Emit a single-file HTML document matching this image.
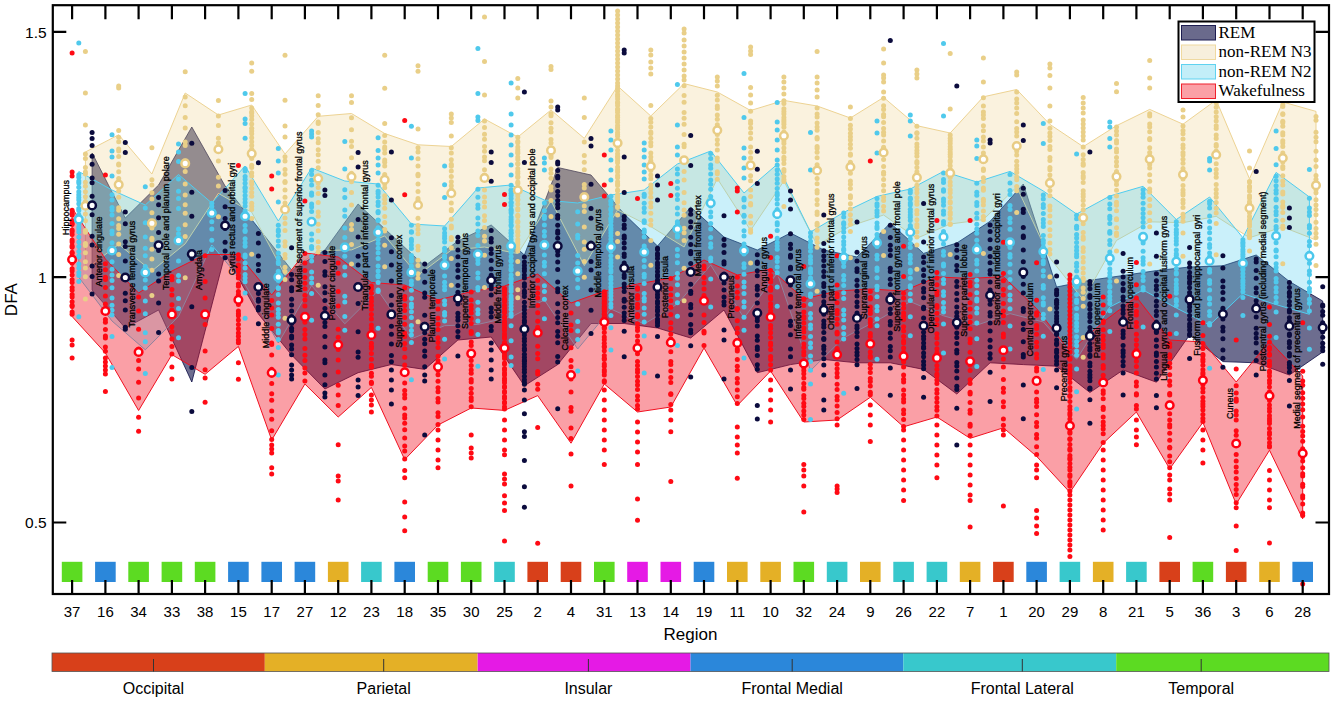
<!DOCTYPE html><html><head><meta charset="utf-8"><style>html,body{margin:0;padding:0;background:#fff;width:1334px;height:701px;overflow:hidden}svg{display:block}text{font-family:"Liberation Sans",sans-serif}</style></head><body>
<svg width="1334" height="701" viewBox="0 0 1334 701">
<polygon points="92.1,153.0 125.3,218.0 158.6,185.0 191.8,127.0 225.1,186.0 258.4,228.0 291.6,270.0 324.9,250.0 358.1,204.0 391.4,235.0 424.7,266.0 457.9,241.0 491.2,225.0 524.4,255.0 557.7,167.5 591.0,175.0 624.2,214.0 657.5,246.0 690.7,207.0 724.0,237.0 757.3,250.0 790.5,233.0 823.8,250.0 857.0,257.0 890.3,223.0 923.6,253.4 956.8,243.0 990.1,221.3 1023.3,184.0 1056.6,287.0 1089.9,280.3 1123.1,275.5 1156.4,270.6 1189.6,267.0 1222.9,265.8 1256.2,255.0 1289.4,281.5 1322.7,301.0 1322.7,352.0 1289.4,375.0 1256.2,362.8 1222.9,361.6 1189.6,335.0 1156.4,382.2 1123.1,370.0 1089.9,392.5 1056.6,366.2 1023.3,364.6 990.1,362.8 956.8,394.0 923.6,369.4 890.3,362.8 857.0,362.8 823.8,359.5 790.5,364.6 757.3,372.7 724.0,310.0 690.7,338.0 657.5,328.0 624.2,323.5 591.0,323.5 557.7,364.6 524.4,385.8 491.2,337.0 457.9,340.0 424.7,369.4 391.4,364.5 358.1,372.7 324.9,389.0 291.6,355.0 258.4,314.0 225.1,254.0 191.8,382.0 158.6,310.0 125.3,328.0 92.1,290.0" fill="#0b0b45" fill-opacity="0.6" stroke="#0b0b45" stroke-opacity="0.8" stroke-width="1"/>
<polygon points="85.4,152.0 118.7,134.8 151.9,174.0 185.2,93.0 218.4,115.0 251.7,105.0 285.0,154.0 318.2,116.3 351.5,113.5 384.7,133.5 418.0,144.8 451.3,146.5 484.5,119.0 517.8,137.0 551.0,110.0 584.3,138.4 617.6,86.0 650.8,116.0 684.1,83.6 717.3,92.0 750.6,110.5 783.9,100.4 817.1,106.0 850.4,118.0 883.6,97.4 916.9,125.7 950.2,133.0 983.4,96.8 1016.7,89.5 1049.9,124.4 1083.2,146.7 1116.5,125.7 1149.7,109.4 1183.0,124.2 1216.2,100.0 1249.5,178.8 1282.8,102.0 1316.0,111.4 1316.0,240.0 1282.8,227.0 1249.5,237.7 1216.2,216.3 1183.0,222.7 1149.7,221.8 1116.5,240.4 1083.2,299.8 1049.9,258.0 1016.7,186.9 983.4,219.6 950.2,224.0 916.9,238.2 883.6,215.0 850.4,226.0 817.1,245.0 783.9,181.0 750.6,230.3 717.3,178.6 684.1,247.0 650.8,226.6 617.6,210.0 584.3,265.6 551.0,200.8 517.8,253.6 484.5,247.0 451.3,250.1 418.0,275.2 384.7,235.9 351.5,249.9 318.2,250.7 285.0,275.0 251.7,212.2 218.4,193.4 185.2,243.8 151.9,271.0 118.7,244.4 85.4,269.4" fill="#edd393" fill-opacity="0.3" stroke="#edd393" stroke-width="1"/>
<polygon points="78.8,171.5 112.0,190.0 145.3,205.0 178.5,174.5 211.8,203.0 245.1,166.0 278.3,221.0 311.6,168.0 344.8,181.0 378.1,184.0 411.4,224.0 444.6,226.0 477.9,188.0 511.1,185.0 544.4,200.0 577.7,203.0 610.9,195.0 644.2,190.0 677.4,164.0 710.7,151.0 744.0,193.0 777.2,164.3 810.5,232.0 843.7,212.4 877.0,196.4 910.3,189.0 943.5,171.4 976.8,182.0 1010.0,171.4 1043.3,191.0 1076.6,214.0 1109.8,196.0 1143.1,186.3 1176.3,219.5 1209.6,197.0 1242.9,237.7 1276.1,172.4 1309.4,197.0 1309.4,314.3 1276.1,304.6 1242.9,293.7 1209.6,325.0 1176.3,308.0 1143.1,290.0 1109.8,307.0 1076.6,359.2 1043.3,322.0 1010.0,313.6 976.8,325.2 943.5,315.8 910.3,301.6 877.0,320.6 843.7,337.8 810.5,370.6 777.2,273.0 744.0,318.0 710.7,265.0 677.4,304.0 644.2,324.0 610.9,309.0 577.7,349.0 544.4,300.0 511.1,317.0 477.9,324.4 444.6,325.7 411.4,338.8 378.1,290.6 344.8,323.8 311.6,285.6 278.3,343.0 245.1,284.6 211.8,245.0 178.5,316.5 145.3,349.8 112.0,321.0 78.8,277.3" fill="#4fcdf0" fill-opacity="0.3" stroke="#4fcdf0" stroke-width="1"/>
<polygon points="72.1,208.0 105.4,259.0 138.6,293.0 171.9,271.0 205.1,254.5 238.4,254.5 271.7,295.0 304.9,253.0 338.2,257.0 371.4,282.5 404.7,285.0 438.0,300.0 471.2,291.6 504.5,286.0 537.7,274.0 571.0,303.0 604.3,291.0 637.5,284.0 670.8,278.0 704.0,260.0 737.3,275.0 770.6,269.0 803.8,299.0 837.1,291.0 870.3,289.0 903.6,291.0 936.9,277.0 970.1,278.4 1003.4,276.6 1036.6,308.6 1069.9,351.3 1103.2,322.0 1136.4,297.0 1169.7,340.0 1202.9,342.0 1236.2,382.0 1269.5,341.0 1302.7,376.0 1302.7,518.8 1269.5,450.2 1236.2,504.0 1202.9,422.4 1169.7,468.8 1136.4,412.0 1103.2,443.2 1069.9,492.4 1036.6,456.3 1003.4,427.8 970.1,438.3 936.9,417.0 903.6,426.8 870.3,397.3 837.1,420.0 803.8,422.0 770.6,371.0 737.3,405.5 704.0,348.0 670.8,407.0 637.5,412.0 604.3,384.0 571.0,443.2 537.7,395.6 504.5,410.4 471.2,408.0 438.0,425.0 404.7,459.6 371.4,387.4 338.2,417.0 304.9,384.0 271.7,440.0 238.4,346.4 205.1,374.3 171.9,354.6 138.6,410.5 105.4,353.0 72.1,316.5" fill="#f21020" fill-opacity="0.4" stroke="#f21020" stroke-width="1"/>
<g fill="#0b0b3d"><circle cx="92.1" cy="156.3" r="2.5"/><circle cx="92.1" cy="164.3" r="2.5"/><circle cx="92.1" cy="178.1" r="2.5"/><circle cx="92.1" cy="182.7" r="2.5"/><circle cx="92.1" cy="196.2" r="2.5"/><circle cx="92.1" cy="204.2" r="2.5"/><circle cx="92.1" cy="214.7" r="2.5"/><circle cx="92.1" cy="236.3" r="2.5"/><circle cx="92.1" cy="245.1" r="2.5"/><circle cx="92.1" cy="266.0" r="2.5"/><circle cx="92.1" cy="276.4" r="2.5"/><circle cx="92.1" cy="132.5" r="2.5"/><circle cx="92.1" cy="138.5" r="2.5"/><circle cx="92.1" cy="145.4" r="2.5"/><circle cx="92.1" cy="294.1" r="2.5"/><circle cx="125.3" cy="223.7" r="2.5"/><circle cx="125.3" cy="241.7" r="2.5"/><circle cx="125.3" cy="246.6" r="2.5"/><circle cx="125.3" cy="261.0" r="2.5"/><circle cx="125.3" cy="278.8" r="2.5"/><circle cx="125.3" cy="293.2" r="2.5"/><circle cx="125.3" cy="300.7" r="2.5"/><circle cx="125.3" cy="310.1" r="2.5"/><circle cx="125.3" cy="327.2" r="2.5"/><circle cx="125.3" cy="142.5" r="2.5"/><circle cx="125.3" cy="152.5" r="2.5"/><circle cx="125.3" cy="212.0" r="2.5"/><circle cx="125.3" cy="329.3" r="2.5"/><circle cx="158.6" cy="197.4" r="2.5"/><circle cx="158.6" cy="204.7" r="2.5"/><circle cx="158.6" cy="217.8" r="2.5"/><circle cx="158.6" cy="232.5" r="2.5"/><circle cx="158.6" cy="250.5" r="2.5"/><circle cx="158.6" cy="274.1" r="2.5"/><circle cx="158.6" cy="281.0" r="2.5"/><circle cx="158.6" cy="303.1" r="2.5"/><circle cx="158.6" cy="332.4" r="2.5"/><circle cx="191.8" cy="143.3" r="2.5"/><circle cx="191.8" cy="192.3" r="2.5"/><circle cx="191.8" cy="216.2" r="2.5"/><circle cx="191.8" cy="258.4" r="2.5"/><circle cx="191.8" cy="306.7" r="2.5"/><circle cx="191.8" cy="367.6" r="2.5"/><circle cx="191.8" cy="411.6" r="2.5"/><circle cx="225.1" cy="190.4" r="2.5"/><circle cx="225.1" cy="206.8" r="2.5"/><circle cx="225.1" cy="218.4" r="2.5"/><circle cx="225.1" cy="228.5" r="2.5"/><circle cx="225.1" cy="242.3" r="2.5"/><circle cx="225.1" cy="251.0" r="2.5"/><circle cx="225.1" cy="257.8" r="2.5"/><circle cx="258.4" cy="233.6" r="2.5"/><circle cx="258.4" cy="243.0" r="2.5"/><circle cx="258.4" cy="255.9" r="2.5"/><circle cx="258.4" cy="264.4" r="2.5"/><circle cx="258.4" cy="270.4" r="2.5"/><circle cx="258.4" cy="286.3" r="2.5"/><circle cx="258.4" cy="287.7" r="2.5"/><circle cx="258.4" cy="293.4" r="2.5"/><circle cx="258.4" cy="299.3" r="2.5"/><circle cx="258.4" cy="301.3" r="2.5"/><circle cx="258.4" cy="307.2" r="2.5"/><circle cx="258.4" cy="309.9" r="2.5"/><circle cx="258.4" cy="162.8" r="2.5"/><circle cx="258.4" cy="323.7" r="2.5"/><circle cx="291.6" cy="274.6" r="2.5"/><circle cx="291.6" cy="279.8" r="2.5"/><circle cx="291.6" cy="287.7" r="2.5"/><circle cx="291.6" cy="290.8" r="2.5"/><circle cx="291.6" cy="299.2" r="2.5"/><circle cx="291.6" cy="304.9" r="2.5"/><circle cx="291.6" cy="311.1" r="2.5"/><circle cx="291.6" cy="316.6" r="2.5"/><circle cx="291.6" cy="323.5" r="2.5"/><circle cx="291.6" cy="328.3" r="2.5"/><circle cx="291.6" cy="330.8" r="2.5"/><circle cx="291.6" cy="336.0" r="2.5"/><circle cx="291.6" cy="338.0" r="2.5"/><circle cx="291.6" cy="344.9" r="2.5"/><circle cx="291.6" cy="349.0" r="2.5"/><circle cx="291.6" cy="354.8" r="2.5"/><circle cx="291.6" cy="247.8" r="2.5"/><circle cx="291.6" cy="365.0" r="2.5"/><circle cx="291.6" cy="370.0" r="2.5"/><circle cx="291.6" cy="375.0" r="2.5"/><circle cx="291.6" cy="379.0" r="2.5"/><circle cx="324.9" cy="252.5" r="2.5"/><circle cx="324.9" cy="261.5" r="2.5"/><circle cx="324.9" cy="271.8" r="2.5"/><circle cx="324.9" cy="275.3" r="2.5"/><circle cx="324.9" cy="286.7" r="2.5"/><circle cx="324.9" cy="292.8" r="2.5"/><circle cx="324.9" cy="300.6" r="2.5"/><circle cx="324.9" cy="308.4" r="2.5"/><circle cx="324.9" cy="322.6" r="2.5"/><circle cx="324.9" cy="326.5" r="2.5"/><circle cx="324.9" cy="336.6" r="2.5"/><circle cx="324.9" cy="346.9" r="2.5"/><circle cx="324.9" cy="360.0" r="2.5"/><circle cx="324.9" cy="362.7" r="2.5"/><circle cx="324.9" cy="374.9" r="2.5"/><circle cx="324.9" cy="384.8" r="2.5"/><circle cx="324.9" cy="190.0" r="2.5"/><circle cx="324.9" cy="195.6" r="2.5"/><circle cx="324.9" cy="393.0" r="2.5"/><circle cx="324.9" cy="397.0" r="2.5"/><circle cx="358.1" cy="219.6" r="2.5"/><circle cx="358.1" cy="237.0" r="2.5"/><circle cx="358.1" cy="256.2" r="2.5"/><circle cx="358.1" cy="264.9" r="2.5"/><circle cx="358.1" cy="285.6" r="2.5"/><circle cx="358.1" cy="303.6" r="2.5"/><circle cx="358.1" cy="331.7" r="2.5"/><circle cx="358.1" cy="352.0" r="2.5"/><circle cx="358.1" cy="357.2" r="2.5"/><circle cx="358.1" cy="152.5" r="2.5"/><circle cx="358.1" cy="167.0" r="2.5"/><circle cx="358.1" cy="380.0" r="2.5"/><circle cx="358.1" cy="387.0" r="2.5"/><circle cx="358.1" cy="395.6" r="2.5"/><circle cx="391.4" cy="237.8" r="2.5"/><circle cx="391.4" cy="251.7" r="2.5"/><circle cx="391.4" cy="264.9" r="2.5"/><circle cx="391.4" cy="281.1" r="2.5"/><circle cx="391.4" cy="295.6" r="2.5"/><circle cx="391.4" cy="305.0" r="2.5"/><circle cx="391.4" cy="314.8" r="2.5"/><circle cx="391.4" cy="326.3" r="2.5"/><circle cx="391.4" cy="334.3" r="2.5"/><circle cx="391.4" cy="344.1" r="2.5"/><circle cx="391.4" cy="355.4" r="2.5"/><circle cx="391.4" cy="361.8" r="2.5"/><circle cx="391.4" cy="152.0" r="2.5"/><circle cx="391.4" cy="200.0" r="2.5"/><circle cx="391.4" cy="370.0" r="2.5"/><circle cx="391.4" cy="380.0" r="2.5"/><circle cx="391.4" cy="390.0" r="2.5"/><circle cx="391.4" cy="404.0" r="2.5"/><circle cx="424.7" cy="271.2" r="2.5"/><circle cx="424.7" cy="282.2" r="2.5"/><circle cx="424.7" cy="292.9" r="2.5"/><circle cx="424.7" cy="297.3" r="2.5"/><circle cx="424.7" cy="315.2" r="2.5"/><circle cx="424.7" cy="324.2" r="2.5"/><circle cx="424.7" cy="332.7" r="2.5"/><circle cx="424.7" cy="339.3" r="2.5"/><circle cx="424.7" cy="343.8" r="2.5"/><circle cx="424.7" cy="351.0" r="2.5"/><circle cx="424.7" cy="356.2" r="2.5"/><circle cx="424.7" cy="366.7" r="2.5"/><circle cx="424.7" cy="264.0" r="2.5"/><circle cx="424.7" cy="375.0" r="2.5"/><circle cx="424.7" cy="381.0" r="2.5"/><circle cx="424.7" cy="435.0" r="2.5"/><circle cx="457.9" cy="241.8" r="2.5"/><circle cx="457.9" cy="249.9" r="2.5"/><circle cx="457.9" cy="256.8" r="2.5"/><circle cx="457.9" cy="265.1" r="2.5"/><circle cx="457.9" cy="270.4" r="2.5"/><circle cx="457.9" cy="277.2" r="2.5"/><circle cx="457.9" cy="285.4" r="2.5"/><circle cx="457.9" cy="292.2" r="2.5"/><circle cx="457.9" cy="300.4" r="2.5"/><circle cx="457.9" cy="304.0" r="2.5"/><circle cx="457.9" cy="313.2" r="2.5"/><circle cx="457.9" cy="317.1" r="2.5"/><circle cx="457.9" cy="320.2" r="2.5"/><circle cx="457.9" cy="325.8" r="2.5"/><circle cx="457.9" cy="331.5" r="2.5"/><circle cx="457.9" cy="336.8" r="2.5"/><circle cx="457.9" cy="237.2" r="2.5"/><circle cx="457.9" cy="356.0" r="2.5"/><circle cx="491.2" cy="230.6" r="2.5"/><circle cx="491.2" cy="238.4" r="2.5"/><circle cx="491.2" cy="242.0" r="2.5"/><circle cx="491.2" cy="249.0" r="2.5"/><circle cx="491.2" cy="253.5" r="2.5"/><circle cx="491.2" cy="260.5" r="2.5"/><circle cx="491.2" cy="268.9" r="2.5"/><circle cx="491.2" cy="275.3" r="2.5"/><circle cx="491.2" cy="285.9" r="2.5"/><circle cx="491.2" cy="288.7" r="2.5"/><circle cx="491.2" cy="294.9" r="2.5"/><circle cx="491.2" cy="307.9" r="2.5"/><circle cx="491.2" cy="312.3" r="2.5"/><circle cx="491.2" cy="317.0" r="2.5"/><circle cx="491.2" cy="326.6" r="2.5"/><circle cx="491.2" cy="330.4" r="2.5"/><circle cx="491.2" cy="152.0" r="2.5"/><circle cx="491.2" cy="162.4" r="2.5"/><circle cx="491.2" cy="181.3" r="2.5"/><circle cx="491.2" cy="343.0" r="2.5"/><circle cx="491.2" cy="350.0" r="2.5"/><circle cx="491.2" cy="360.0" r="2.5"/><circle cx="491.2" cy="370.0" r="2.5"/><circle cx="491.2" cy="379.0" r="2.5"/><circle cx="524.4" cy="256.9" r="2.5"/><circle cx="524.4" cy="262.1" r="2.5"/><circle cx="524.4" cy="265.5" r="2.5"/><circle cx="524.4" cy="268.6" r="2.5"/><circle cx="524.4" cy="270.9" r="2.5"/><circle cx="524.4" cy="274.9" r="2.5"/><circle cx="524.4" cy="277.9" r="2.5"/><circle cx="524.4" cy="283.7" r="2.5"/><circle cx="524.4" cy="286.6" r="2.5"/><circle cx="524.4" cy="291.1" r="2.5"/><circle cx="524.4" cy="293.3" r="2.5"/><circle cx="524.4" cy="296.6" r="2.5"/><circle cx="524.4" cy="302.3" r="2.5"/><circle cx="524.4" cy="306.6" r="2.5"/><circle cx="524.4" cy="309.8" r="2.5"/><circle cx="524.4" cy="313.4" r="2.5"/><circle cx="524.4" cy="317.1" r="2.5"/><circle cx="524.4" cy="320.5" r="2.5"/><circle cx="524.4" cy="322.5" r="2.5"/><circle cx="524.4" cy="327.2" r="2.5"/><circle cx="524.4" cy="330.1" r="2.5"/><circle cx="524.4" cy="332.1" r="2.5"/><circle cx="524.4" cy="334.9" r="2.5"/><circle cx="524.4" cy="338.4" r="2.5"/><circle cx="524.4" cy="341.2" r="2.5"/><circle cx="524.4" cy="345.1" r="2.5"/><circle cx="524.4" cy="348.6" r="2.5"/><circle cx="524.4" cy="350.2" r="2.5"/><circle cx="524.4" cy="354.3" r="2.5"/><circle cx="524.4" cy="357.2" r="2.5"/><circle cx="524.4" cy="360.0" r="2.5"/><circle cx="524.4" cy="361.3" r="2.5"/><circle cx="524.4" cy="363.8" r="2.5"/><circle cx="524.4" cy="366.6" r="2.5"/><circle cx="524.4" cy="369.4" r="2.5"/><circle cx="524.4" cy="372.3" r="2.5"/><circle cx="524.4" cy="376.2" r="2.5"/><circle cx="524.4" cy="379.7" r="2.5"/><circle cx="524.4" cy="382.4" r="2.5"/><circle cx="524.4" cy="384.3" r="2.5"/><circle cx="524.4" cy="92.0" r="2.5"/><circle cx="524.4" cy="162.4" r="2.5"/><circle cx="524.4" cy="390.0" r="2.5"/><circle cx="524.4" cy="400.0" r="2.5"/><circle cx="524.4" cy="413.7" r="2.5"/><circle cx="524.4" cy="431.7" r="2.5"/><circle cx="524.4" cy="436.6" r="2.5"/><circle cx="524.4" cy="460.6" r="2.5"/><circle cx="524.4" cy="486.8" r="2.5"/><circle cx="524.4" cy="507.2" r="2.5"/><circle cx="557.7" cy="170.6" r="2.5"/><circle cx="557.7" cy="176.2" r="2.5"/><circle cx="557.7" cy="177.9" r="2.5"/><circle cx="557.7" cy="185.4" r="2.5"/><circle cx="557.7" cy="191.4" r="2.5"/><circle cx="557.7" cy="195.7" r="2.5"/><circle cx="557.7" cy="200.5" r="2.5"/><circle cx="557.7" cy="204.2" r="2.5"/><circle cx="557.7" cy="207.8" r="2.5"/><circle cx="557.7" cy="215.4" r="2.5"/><circle cx="557.7" cy="218.3" r="2.5"/><circle cx="557.7" cy="225.3" r="2.5"/><circle cx="557.7" cy="230.9" r="2.5"/><circle cx="557.7" cy="233.3" r="2.5"/><circle cx="557.7" cy="238.2" r="2.5"/><circle cx="557.7" cy="245.5" r="2.5"/><circle cx="557.7" cy="251.2" r="2.5"/><circle cx="557.7" cy="254.9" r="2.5"/><circle cx="557.7" cy="262.0" r="2.5"/><circle cx="557.7" cy="269.6" r="2.5"/><circle cx="557.7" cy="282.1" r="2.5"/><circle cx="557.7" cy="288.8" r="2.5"/><circle cx="557.7" cy="291.8" r="2.5"/><circle cx="557.7" cy="303.8" r="2.5"/><circle cx="557.7" cy="312.2" r="2.5"/><circle cx="557.7" cy="317.5" r="2.5"/><circle cx="557.7" cy="322.8" r="2.5"/><circle cx="557.7" cy="331.6" r="2.5"/><circle cx="557.7" cy="336.2" r="2.5"/><circle cx="557.7" cy="342.8" r="2.5"/><circle cx="557.7" cy="356.6" r="2.5"/><circle cx="557.7" cy="361.9" r="2.5"/><circle cx="557.7" cy="107.0" r="2.5"/><circle cx="557.7" cy="110.0" r="2.5"/><circle cx="557.7" cy="162.0" r="2.5"/><circle cx="557.7" cy="164.0" r="2.5"/><circle cx="557.7" cy="408.8" r="2.5"/><circle cx="591.0" cy="184.3" r="2.5"/><circle cx="591.0" cy="208.6" r="2.5"/><circle cx="591.0" cy="218.3" r="2.5"/><circle cx="591.0" cy="243.1" r="2.5"/><circle cx="591.0" cy="261.4" r="2.5"/><circle cx="591.0" cy="270.0" r="2.5"/><circle cx="591.0" cy="290.1" r="2.5"/><circle cx="591.0" cy="310.2" r="2.5"/><circle cx="591.0" cy="138.4" r="2.5"/><circle cx="591.0" cy="146.0" r="2.5"/><circle cx="591.0" cy="333.6" r="2.5"/><circle cx="624.2" cy="216.6" r="2.5"/><circle cx="624.2" cy="219.8" r="2.5"/><circle cx="624.2" cy="224.9" r="2.5"/><circle cx="624.2" cy="228.3" r="2.5"/><circle cx="624.2" cy="235.9" r="2.5"/><circle cx="624.2" cy="238.2" r="2.5"/><circle cx="624.2" cy="243.1" r="2.5"/><circle cx="624.2" cy="248.1" r="2.5"/><circle cx="624.2" cy="253.9" r="2.5"/><circle cx="624.2" cy="256.4" r="2.5"/><circle cx="624.2" cy="262.9" r="2.5"/><circle cx="624.2" cy="265.8" r="2.5"/><circle cx="624.2" cy="270.4" r="2.5"/><circle cx="624.2" cy="275.0" r="2.5"/><circle cx="624.2" cy="277.6" r="2.5"/><circle cx="624.2" cy="283.9" r="2.5"/><circle cx="624.2" cy="287.5" r="2.5"/><circle cx="624.2" cy="291.4" r="2.5"/><circle cx="624.2" cy="299.3" r="2.5"/><circle cx="624.2" cy="301.3" r="2.5"/><circle cx="624.2" cy="307.2" r="2.5"/><circle cx="624.2" cy="312.9" r="2.5"/><circle cx="624.2" cy="316.8" r="2.5"/><circle cx="624.2" cy="320.5" r="2.5"/><circle cx="624.2" cy="50.0" r="2.5"/><circle cx="624.2" cy="53.0" r="2.5"/><circle cx="624.2" cy="157.0" r="2.5"/><circle cx="624.2" cy="192.4" r="2.5"/><circle cx="624.2" cy="331.3" r="2.5"/><circle cx="624.2" cy="356.8" r="2.5"/><circle cx="657.5" cy="248.2" r="2.5"/><circle cx="657.5" cy="249.4" r="2.5"/><circle cx="657.5" cy="253.5" r="2.5"/><circle cx="657.5" cy="255.6" r="2.5"/><circle cx="657.5" cy="258.6" r="2.5"/><circle cx="657.5" cy="262.8" r="2.5"/><circle cx="657.5" cy="265.1" r="2.5"/><circle cx="657.5" cy="268.1" r="2.5"/><circle cx="657.5" cy="271.6" r="2.5"/><circle cx="657.5" cy="274.9" r="2.5"/><circle cx="657.5" cy="276.6" r="2.5"/><circle cx="657.5" cy="280.0" r="2.5"/><circle cx="657.5" cy="282.6" r="2.5"/><circle cx="657.5" cy="285.6" r="2.5"/><circle cx="657.5" cy="289.0" r="2.5"/><circle cx="657.5" cy="291.3" r="2.5"/><circle cx="657.5" cy="294.4" r="2.5"/><circle cx="657.5" cy="297.2" r="2.5"/><circle cx="657.5" cy="301.3" r="2.5"/><circle cx="657.5" cy="303.6" r="2.5"/><circle cx="657.5" cy="307.0" r="2.5"/><circle cx="657.5" cy="310.1" r="2.5"/><circle cx="657.5" cy="311.3" r="2.5"/><circle cx="657.5" cy="315.0" r="2.5"/><circle cx="657.5" cy="318.9" r="2.5"/><circle cx="657.5" cy="321.6" r="2.5"/><circle cx="657.5" cy="322.7" r="2.5"/><circle cx="657.5" cy="325.5" r="2.5"/><circle cx="657.5" cy="176.0" r="2.5"/><circle cx="657.5" cy="185.0" r="2.5"/><circle cx="657.5" cy="200.0" r="2.5"/><circle cx="657.5" cy="336.6" r="2.5"/><circle cx="657.5" cy="376.0" r="2.5"/><circle cx="690.7" cy="209.9" r="2.5"/><circle cx="690.7" cy="214.2" r="2.5"/><circle cx="690.7" cy="221.7" r="2.5"/><circle cx="690.7" cy="227.3" r="2.5"/><circle cx="690.7" cy="237.2" r="2.5"/><circle cx="690.7" cy="244.4" r="2.5"/><circle cx="690.7" cy="251.6" r="2.5"/><circle cx="690.7" cy="253.7" r="2.5"/><circle cx="690.7" cy="263.5" r="2.5"/><circle cx="690.7" cy="269.7" r="2.5"/><circle cx="690.7" cy="273.2" r="2.5"/><circle cx="690.7" cy="284.2" r="2.5"/><circle cx="690.7" cy="291.3" r="2.5"/><circle cx="690.7" cy="293.4" r="2.5"/><circle cx="690.7" cy="304.4" r="2.5"/><circle cx="690.7" cy="307.7" r="2.5"/><circle cx="690.7" cy="314.8" r="2.5"/><circle cx="690.7" cy="324.4" r="2.5"/><circle cx="690.7" cy="330.1" r="2.5"/><circle cx="690.7" cy="332.7" r="2.5"/><circle cx="690.7" cy="135.4" r="2.5"/><circle cx="690.7" cy="165.4" r="2.5"/><circle cx="690.7" cy="345.7" r="2.5"/><circle cx="690.7" cy="376.9" r="2.5"/><circle cx="724.0" cy="239.4" r="2.5"/><circle cx="724.0" cy="245.2" r="2.5"/><circle cx="724.0" cy="252.6" r="2.5"/><circle cx="724.0" cy="261.7" r="2.5"/><circle cx="724.0" cy="264.1" r="2.5"/><circle cx="724.0" cy="274.0" r="2.5"/><circle cx="724.0" cy="279.5" r="2.5"/><circle cx="724.0" cy="282.9" r="2.5"/><circle cx="724.0" cy="289.9" r="2.5"/><circle cx="724.0" cy="296.9" r="2.5"/><circle cx="724.0" cy="301.8" r="2.5"/><circle cx="724.0" cy="305.1" r="2.5"/><circle cx="724.0" cy="215.7" r="2.5"/><circle cx="724.0" cy="330.0" r="2.5"/><circle cx="724.0" cy="340.0" r="2.5"/><circle cx="724.0" cy="379.0" r="2.5"/><circle cx="757.3" cy="254.8" r="2.5"/><circle cx="757.3" cy="262.1" r="2.5"/><circle cx="757.3" cy="263.5" r="2.5"/><circle cx="757.3" cy="270.7" r="2.5"/><circle cx="757.3" cy="275.7" r="2.5"/><circle cx="757.3" cy="286.2" r="2.5"/><circle cx="757.3" cy="289.6" r="2.5"/><circle cx="757.3" cy="295.1" r="2.5"/><circle cx="757.3" cy="303.1" r="2.5"/><circle cx="757.3" cy="312.2" r="2.5"/><circle cx="757.3" cy="317.7" r="2.5"/><circle cx="757.3" cy="320.7" r="2.5"/><circle cx="757.3" cy="326.0" r="2.5"/><circle cx="757.3" cy="336.1" r="2.5"/><circle cx="757.3" cy="340.2" r="2.5"/><circle cx="757.3" cy="346.9" r="2.5"/><circle cx="757.3" cy="349.6" r="2.5"/><circle cx="757.3" cy="355.4" r="2.5"/><circle cx="757.3" cy="364.8" r="2.5"/><circle cx="757.3" cy="369.3" r="2.5"/><circle cx="757.3" cy="151.3" r="2.5"/><circle cx="757.3" cy="169.3" r="2.5"/><circle cx="757.3" cy="183.4" r="2.5"/><circle cx="757.3" cy="405.5" r="2.5"/><circle cx="757.3" cy="419.0" r="2.5"/><circle cx="790.5" cy="233.7" r="2.5"/><circle cx="790.5" cy="244.2" r="2.5"/><circle cx="790.5" cy="248.5" r="2.5"/><circle cx="790.5" cy="255.3" r="2.5"/><circle cx="790.5" cy="257.3" r="2.5"/><circle cx="790.5" cy="267.3" r="2.5"/><circle cx="790.5" cy="269.0" r="2.5"/><circle cx="790.5" cy="279.2" r="2.5"/><circle cx="790.5" cy="285.0" r="2.5"/><circle cx="790.5" cy="294.5" r="2.5"/><circle cx="790.5" cy="307.1" r="2.5"/><circle cx="790.5" cy="321.2" r="2.5"/><circle cx="790.5" cy="325.5" r="2.5"/><circle cx="790.5" cy="334.7" r="2.5"/><circle cx="790.5" cy="349.0" r="2.5"/><circle cx="790.5" cy="356.8" r="2.5"/><circle cx="790.5" cy="191.0" r="2.5"/><circle cx="790.5" cy="200.0" r="2.5"/><circle cx="790.5" cy="209.0" r="2.5"/><circle cx="790.5" cy="370.0" r="2.5"/><circle cx="790.5" cy="389.0" r="2.5"/><circle cx="823.8" cy="250.7" r="2.5"/><circle cx="823.8" cy="256.0" r="2.5"/><circle cx="823.8" cy="260.5" r="2.5"/><circle cx="823.8" cy="266.1" r="2.5"/><circle cx="823.8" cy="271.6" r="2.5"/><circle cx="823.8" cy="276.6" r="2.5"/><circle cx="823.8" cy="283.6" r="2.5"/><circle cx="823.8" cy="286.5" r="2.5"/><circle cx="823.8" cy="292.4" r="2.5"/><circle cx="823.8" cy="296.0" r="2.5"/><circle cx="823.8" cy="301.7" r="2.5"/><circle cx="823.8" cy="305.2" r="2.5"/><circle cx="823.8" cy="311.0" r="2.5"/><circle cx="823.8" cy="314.3" r="2.5"/><circle cx="823.8" cy="321.1" r="2.5"/><circle cx="823.8" cy="324.6" r="2.5"/><circle cx="823.8" cy="327.3" r="2.5"/><circle cx="823.8" cy="332.5" r="2.5"/><circle cx="823.8" cy="338.4" r="2.5"/><circle cx="823.8" cy="339.4" r="2.5"/><circle cx="823.8" cy="346.2" r="2.5"/><circle cx="823.8" cy="348.9" r="2.5"/><circle cx="823.8" cy="353.3" r="2.5"/><circle cx="823.8" cy="358.7" r="2.5"/><circle cx="823.8" cy="243.6" r="2.5"/><circle cx="823.8" cy="214.9" r="2.5"/><circle cx="823.8" cy="365.0" r="2.5"/><circle cx="823.8" cy="375.0" r="2.5"/><circle cx="823.8" cy="400.0" r="2.5"/><circle cx="823.8" cy="410.0" r="2.5"/><circle cx="857.0" cy="261.1" r="2.5"/><circle cx="857.0" cy="268.8" r="2.5"/><circle cx="857.0" cy="271.4" r="2.5"/><circle cx="857.0" cy="280.2" r="2.5"/><circle cx="857.0" cy="285.6" r="2.5"/><circle cx="857.0" cy="291.3" r="2.5"/><circle cx="857.0" cy="296.1" r="2.5"/><circle cx="857.0" cy="301.9" r="2.5"/><circle cx="857.0" cy="306.4" r="2.5"/><circle cx="857.0" cy="312.9" r="2.5"/><circle cx="857.0" cy="318.5" r="2.5"/><circle cx="857.0" cy="325.7" r="2.5"/><circle cx="857.0" cy="328.2" r="2.5"/><circle cx="857.0" cy="332.3" r="2.5"/><circle cx="857.0" cy="336.5" r="2.5"/><circle cx="857.0" cy="344.0" r="2.5"/><circle cx="857.0" cy="348.6" r="2.5"/><circle cx="857.0" cy="352.3" r="2.5"/><circle cx="857.0" cy="355.2" r="2.5"/><circle cx="857.0" cy="359.5" r="2.5"/><circle cx="857.0" cy="252.2" r="2.5"/><circle cx="857.0" cy="222.0" r="2.5"/><circle cx="857.0" cy="364.7" r="2.5"/><circle cx="857.0" cy="388.4" r="2.5"/><circle cx="890.3" cy="225.2" r="2.5"/><circle cx="890.3" cy="237.6" r="2.5"/><circle cx="890.3" cy="245.3" r="2.5"/><circle cx="890.3" cy="250.1" r="2.5"/><circle cx="890.3" cy="255.6" r="2.5"/><circle cx="890.3" cy="268.2" r="2.5"/><circle cx="890.3" cy="271.4" r="2.5"/><circle cx="890.3" cy="279.3" r="2.5"/><circle cx="890.3" cy="284.5" r="2.5"/><circle cx="890.3" cy="294.8" r="2.5"/><circle cx="890.3" cy="302.4" r="2.5"/><circle cx="890.3" cy="308.9" r="2.5"/><circle cx="890.3" cy="313.5" r="2.5"/><circle cx="890.3" cy="321.6" r="2.5"/><circle cx="890.3" cy="325.1" r="2.5"/><circle cx="890.3" cy="332.9" r="2.5"/><circle cx="890.3" cy="338.3" r="2.5"/><circle cx="890.3" cy="346.4" r="2.5"/><circle cx="890.3" cy="350.7" r="2.5"/><circle cx="890.3" cy="356.9" r="2.5"/><circle cx="890.3" cy="40.4" r="2.5"/><circle cx="890.3" cy="368.0" r="2.5"/><circle cx="890.3" cy="395.3" r="2.5"/><circle cx="923.6" cy="256.9" r="2.5"/><circle cx="923.6" cy="262.6" r="2.5"/><circle cx="923.6" cy="269.8" r="2.5"/><circle cx="923.6" cy="275.4" r="2.5"/><circle cx="923.6" cy="281.7" r="2.5"/><circle cx="923.6" cy="288.6" r="2.5"/><circle cx="923.6" cy="292.0" r="2.5"/><circle cx="923.6" cy="297.7" r="2.5"/><circle cx="923.6" cy="307.3" r="2.5"/><circle cx="923.6" cy="308.8" r="2.5"/><circle cx="923.6" cy="318.0" r="2.5"/><circle cx="923.6" cy="323.6" r="2.5"/><circle cx="923.6" cy="326.1" r="2.5"/><circle cx="923.6" cy="332.3" r="2.5"/><circle cx="923.6" cy="336.2" r="2.5"/><circle cx="923.6" cy="338.9" r="2.5"/><circle cx="923.6" cy="342.9" r="2.5"/><circle cx="923.6" cy="346.8" r="2.5"/><circle cx="923.6" cy="348.2" r="2.5"/><circle cx="923.6" cy="353.1" r="2.5"/><circle cx="923.6" cy="356.7" r="2.5"/><circle cx="923.6" cy="361.4" r="2.5"/><circle cx="923.6" cy="364.9" r="2.5"/><circle cx="923.6" cy="368.7" r="2.5"/><circle cx="923.6" cy="242.0" r="2.5"/><circle cx="923.6" cy="203.4" r="2.5"/><circle cx="923.6" cy="377.4" r="2.5"/><circle cx="923.6" cy="397.2" r="2.5"/><circle cx="956.8" cy="244.7" r="2.5"/><circle cx="956.8" cy="250.2" r="2.5"/><circle cx="956.8" cy="257.4" r="2.5"/><circle cx="956.8" cy="265.4" r="2.5"/><circle cx="956.8" cy="270.5" r="2.5"/><circle cx="956.8" cy="281.5" r="2.5"/><circle cx="956.8" cy="286.5" r="2.5"/><circle cx="956.8" cy="293.5" r="2.5"/><circle cx="956.8" cy="300.1" r="2.5"/><circle cx="956.8" cy="307.1" r="2.5"/><circle cx="956.8" cy="312.6" r="2.5"/><circle cx="956.8" cy="316.3" r="2.5"/><circle cx="956.8" cy="327.2" r="2.5"/><circle cx="956.8" cy="332.9" r="2.5"/><circle cx="956.8" cy="337.5" r="2.5"/><circle cx="956.8" cy="343.6" r="2.5"/><circle cx="956.8" cy="350.2" r="2.5"/><circle cx="956.8" cy="353.0" r="2.5"/><circle cx="956.8" cy="362.5" r="2.5"/><circle cx="956.8" cy="365.9" r="2.5"/><circle cx="956.8" cy="370.9" r="2.5"/><circle cx="956.8" cy="377.9" r="2.5"/><circle cx="956.8" cy="386.3" r="2.5"/><circle cx="956.8" cy="389.4" r="2.5"/><circle cx="956.8" cy="86.0" r="2.5"/><circle cx="956.8" cy="408.3" r="2.5"/><circle cx="956.8" cy="444.9" r="2.5"/><circle cx="990.1" cy="225.0" r="2.5"/><circle cx="990.1" cy="231.6" r="2.5"/><circle cx="990.1" cy="239.7" r="2.5"/><circle cx="990.1" cy="248.4" r="2.5"/><circle cx="990.1" cy="256.4" r="2.5"/><circle cx="990.1" cy="262.8" r="2.5"/><circle cx="990.1" cy="270.4" r="2.5"/><circle cx="990.1" cy="274.0" r="2.5"/><circle cx="990.1" cy="281.9" r="2.5"/><circle cx="990.1" cy="290.0" r="2.5"/><circle cx="990.1" cy="300.2" r="2.5"/><circle cx="990.1" cy="304.2" r="2.5"/><circle cx="990.1" cy="312.6" r="2.5"/><circle cx="990.1" cy="316.0" r="2.5"/><circle cx="990.1" cy="323.0" r="2.5"/><circle cx="990.1" cy="331.0" r="2.5"/><circle cx="990.1" cy="340.2" r="2.5"/><circle cx="990.1" cy="347.1" r="2.5"/><circle cx="990.1" cy="353.7" r="2.5"/><circle cx="990.1" cy="358.2" r="2.5"/><circle cx="990.1" cy="140.0" r="2.5"/><circle cx="990.1" cy="143.0" r="2.5"/><circle cx="990.1" cy="372.2" r="2.5"/><circle cx="990.1" cy="401.6" r="2.5"/><circle cx="1023.3" cy="188.2" r="2.5"/><circle cx="1023.3" cy="194.2" r="2.5"/><circle cx="1023.3" cy="209.2" r="2.5"/><circle cx="1023.3" cy="212.5" r="2.5"/><circle cx="1023.3" cy="227.6" r="2.5"/><circle cx="1023.3" cy="236.1" r="2.5"/><circle cx="1023.3" cy="237.6" r="2.5"/><circle cx="1023.3" cy="250.0" r="2.5"/><circle cx="1023.3" cy="261.7" r="2.5"/><circle cx="1023.3" cy="271.7" r="2.5"/><circle cx="1023.3" cy="276.6" r="2.5"/><circle cx="1023.3" cy="284.3" r="2.5"/><circle cx="1023.3" cy="293.0" r="2.5"/><circle cx="1023.3" cy="308.4" r="2.5"/><circle cx="1023.3" cy="311.5" r="2.5"/><circle cx="1023.3" cy="323.8" r="2.5"/><circle cx="1023.3" cy="329.4" r="2.5"/><circle cx="1023.3" cy="341.7" r="2.5"/><circle cx="1023.3" cy="354.5" r="2.5"/><circle cx="1023.3" cy="356.9" r="2.5"/><circle cx="1023.3" cy="125.0" r="2.5"/><circle cx="1023.3" cy="140.4" r="2.5"/><circle cx="1023.3" cy="385.0" r="2.5"/><circle cx="1023.3" cy="418.8" r="2.5"/><circle cx="1056.6" cy="289.9" r="2.5"/><circle cx="1056.6" cy="292.8" r="2.5"/><circle cx="1056.6" cy="294.7" r="2.5"/><circle cx="1056.6" cy="300.2" r="2.5"/><circle cx="1056.6" cy="302.3" r="2.5"/><circle cx="1056.6" cy="304.3" r="2.5"/><circle cx="1056.6" cy="307.7" r="2.5"/><circle cx="1056.6" cy="312.6" r="2.5"/><circle cx="1056.6" cy="315.9" r="2.5"/><circle cx="1056.6" cy="318.8" r="2.5"/><circle cx="1056.6" cy="321.8" r="2.5"/><circle cx="1056.6" cy="325.8" r="2.5"/><circle cx="1056.6" cy="329.1" r="2.5"/><circle cx="1056.6" cy="333.7" r="2.5"/><circle cx="1056.6" cy="334.5" r="2.5"/><circle cx="1056.6" cy="339.9" r="2.5"/><circle cx="1056.6" cy="343.3" r="2.5"/><circle cx="1056.6" cy="344.4" r="2.5"/><circle cx="1056.6" cy="349.9" r="2.5"/><circle cx="1056.6" cy="352.5" r="2.5"/><circle cx="1056.6" cy="356.2" r="2.5"/><circle cx="1056.6" cy="357.6" r="2.5"/><circle cx="1056.6" cy="361.1" r="2.5"/><circle cx="1056.6" cy="364.3" r="2.5"/><circle cx="1056.6" cy="275.9" r="2.5"/><circle cx="1056.6" cy="262.0" r="2.5"/><circle cx="1056.6" cy="369.9" r="2.5"/><circle cx="1056.6" cy="387.8" r="2.5"/><circle cx="1089.9" cy="281.5" r="2.5"/><circle cx="1089.9" cy="284.6" r="2.5"/><circle cx="1089.9" cy="288.8" r="2.5"/><circle cx="1089.9" cy="295.4" r="2.5"/><circle cx="1089.9" cy="297.4" r="2.5"/><circle cx="1089.9" cy="303.7" r="2.5"/><circle cx="1089.9" cy="305.2" r="2.5"/><circle cx="1089.9" cy="309.2" r="2.5"/><circle cx="1089.9" cy="314.1" r="2.5"/><circle cx="1089.9" cy="316.9" r="2.5"/><circle cx="1089.9" cy="321.5" r="2.5"/><circle cx="1089.9" cy="327.6" r="2.5"/><circle cx="1089.9" cy="331.3" r="2.5"/><circle cx="1089.9" cy="335.0" r="2.5"/><circle cx="1089.9" cy="338.4" r="2.5"/><circle cx="1089.9" cy="343.5" r="2.5"/><circle cx="1089.9" cy="347.6" r="2.5"/><circle cx="1089.9" cy="350.2" r="2.5"/><circle cx="1089.9" cy="354.9" r="2.5"/><circle cx="1089.9" cy="356.5" r="2.5"/><circle cx="1089.9" cy="363.0" r="2.5"/><circle cx="1089.9" cy="366.0" r="2.5"/><circle cx="1089.9" cy="371.2" r="2.5"/><circle cx="1089.9" cy="374.8" r="2.5"/><circle cx="1089.9" cy="377.6" r="2.5"/><circle cx="1089.9" cy="380.8" r="2.5"/><circle cx="1089.9" cy="388.0" r="2.5"/><circle cx="1089.9" cy="389.1" r="2.5"/><circle cx="1089.9" cy="152.0" r="2.5"/><circle cx="1089.9" cy="399.7" r="2.5"/><circle cx="1089.9" cy="423.2" r="2.5"/><circle cx="1123.1" cy="277.0" r="2.5"/><circle cx="1123.1" cy="283.5" r="2.5"/><circle cx="1123.1" cy="289.1" r="2.5"/><circle cx="1123.1" cy="290.8" r="2.5"/><circle cx="1123.1" cy="297.1" r="2.5"/><circle cx="1123.1" cy="300.2" r="2.5"/><circle cx="1123.1" cy="306.0" r="2.5"/><circle cx="1123.1" cy="309.9" r="2.5"/><circle cx="1123.1" cy="313.6" r="2.5"/><circle cx="1123.1" cy="318.3" r="2.5"/><circle cx="1123.1" cy="323.1" r="2.5"/><circle cx="1123.1" cy="331.0" r="2.5"/><circle cx="1123.1" cy="334.0" r="2.5"/><circle cx="1123.1" cy="337.6" r="2.5"/><circle cx="1123.1" cy="345.4" r="2.5"/><circle cx="1123.1" cy="350.5" r="2.5"/><circle cx="1123.1" cy="353.0" r="2.5"/><circle cx="1123.1" cy="356.4" r="2.5"/><circle cx="1123.1" cy="361.5" r="2.5"/><circle cx="1123.1" cy="365.8" r="2.5"/><circle cx="1123.1" cy="271.2" r="2.5"/><circle cx="1123.1" cy="253.4" r="2.5"/><circle cx="1123.1" cy="373.1" r="2.5"/><circle cx="1123.1" cy="394.9" r="2.5"/><circle cx="1156.4" cy="273.7" r="2.5"/><circle cx="1156.4" cy="280.8" r="2.5"/><circle cx="1156.4" cy="285.7" r="2.5"/><circle cx="1156.4" cy="289.6" r="2.5"/><circle cx="1156.4" cy="295.1" r="2.5"/><circle cx="1156.4" cy="301.2" r="2.5"/><circle cx="1156.4" cy="306.0" r="2.5"/><circle cx="1156.4" cy="311.3" r="2.5"/><circle cx="1156.4" cy="315.5" r="2.5"/><circle cx="1156.4" cy="322.1" r="2.5"/><circle cx="1156.4" cy="331.2" r="2.5"/><circle cx="1156.4" cy="332.5" r="2.5"/><circle cx="1156.4" cy="340.1" r="2.5"/><circle cx="1156.4" cy="346.3" r="2.5"/><circle cx="1156.4" cy="353.1" r="2.5"/><circle cx="1156.4" cy="355.5" r="2.5"/><circle cx="1156.4" cy="361.4" r="2.5"/><circle cx="1156.4" cy="366.9" r="2.5"/><circle cx="1156.4" cy="373.3" r="2.5"/><circle cx="1156.4" cy="379.1" r="2.5"/><circle cx="1156.4" cy="256.3" r="2.5"/><circle cx="1156.4" cy="233.0" r="2.5"/><circle cx="1156.4" cy="395.4" r="2.5"/><circle cx="1156.4" cy="407.8" r="2.5"/><circle cx="1189.6" cy="267.3" r="2.5"/><circle cx="1189.6" cy="272.5" r="2.5"/><circle cx="1189.6" cy="276.3" r="2.5"/><circle cx="1189.6" cy="278.3" r="2.5"/><circle cx="1189.6" cy="281.8" r="2.5"/><circle cx="1189.6" cy="283.4" r="2.5"/><circle cx="1189.6" cy="287.7" r="2.5"/><circle cx="1189.6" cy="292.5" r="2.5"/><circle cx="1189.6" cy="295.5" r="2.5"/><circle cx="1189.6" cy="298.8" r="2.5"/><circle cx="1189.6" cy="302.7" r="2.5"/><circle cx="1189.6" cy="303.9" r="2.5"/><circle cx="1189.6" cy="307.0" r="2.5"/><circle cx="1189.6" cy="310.8" r="2.5"/><circle cx="1189.6" cy="315.5" r="2.5"/><circle cx="1189.6" cy="319.6" r="2.5"/><circle cx="1189.6" cy="324.0" r="2.5"/><circle cx="1189.6" cy="326.8" r="2.5"/><circle cx="1189.6" cy="330.1" r="2.5"/><circle cx="1189.6" cy="334.1" r="2.5"/><circle cx="1189.6" cy="263.0" r="2.5"/><circle cx="1189.6" cy="247.6" r="2.5"/><circle cx="1189.6" cy="335.4" r="2.5"/><circle cx="1189.6" cy="358.5" r="2.5"/><circle cx="1222.9" cy="267.9" r="2.5"/><circle cx="1222.9" cy="280.9" r="2.5"/><circle cx="1222.9" cy="286.9" r="2.5"/><circle cx="1222.9" cy="292.5" r="2.5"/><circle cx="1222.9" cy="299.3" r="2.5"/><circle cx="1222.9" cy="308.2" r="2.5"/><circle cx="1222.9" cy="318.9" r="2.5"/><circle cx="1222.9" cy="327.3" r="2.5"/><circle cx="1222.9" cy="331.1" r="2.5"/><circle cx="1222.9" cy="338.7" r="2.5"/><circle cx="1222.9" cy="349.9" r="2.5"/><circle cx="1222.9" cy="358.2" r="2.5"/><circle cx="1222.9" cy="255.7" r="2.5"/><circle cx="1222.9" cy="367.3" r="2.5"/><circle cx="1256.2" cy="259.0" r="2.5"/><circle cx="1256.2" cy="262.1" r="2.5"/><circle cx="1256.2" cy="270.5" r="2.5"/><circle cx="1256.2" cy="278.2" r="2.5"/><circle cx="1256.2" cy="287.9" r="2.5"/><circle cx="1256.2" cy="292.7" r="2.5"/><circle cx="1256.2" cy="300.8" r="2.5"/><circle cx="1256.2" cy="305.0" r="2.5"/><circle cx="1256.2" cy="310.3" r="2.5"/><circle cx="1256.2" cy="317.1" r="2.5"/><circle cx="1256.2" cy="328.3" r="2.5"/><circle cx="1256.2" cy="333.5" r="2.5"/><circle cx="1256.2" cy="337.9" r="2.5"/><circle cx="1256.2" cy="342.9" r="2.5"/><circle cx="1256.2" cy="352.6" r="2.5"/><circle cx="1256.2" cy="360.5" r="2.5"/><circle cx="1256.2" cy="171.4" r="2.5"/><circle cx="1256.2" cy="375.1" r="2.5"/><circle cx="1289.4" cy="282.5" r="2.5"/><circle cx="1289.4" cy="287.6" r="2.5"/><circle cx="1289.4" cy="292.2" r="2.5"/><circle cx="1289.4" cy="293.6" r="2.5"/><circle cx="1289.4" cy="296.6" r="2.5"/><circle cx="1289.4" cy="301.4" r="2.5"/><circle cx="1289.4" cy="305.3" r="2.5"/><circle cx="1289.4" cy="309.9" r="2.5"/><circle cx="1289.4" cy="312.0" r="2.5"/><circle cx="1289.4" cy="317.7" r="2.5"/><circle cx="1289.4" cy="321.2" r="2.5"/><circle cx="1289.4" cy="324.2" r="2.5"/><circle cx="1289.4" cy="327.0" r="2.5"/><circle cx="1289.4" cy="333.9" r="2.5"/><circle cx="1289.4" cy="335.5" r="2.5"/><circle cx="1289.4" cy="341.5" r="2.5"/><circle cx="1289.4" cy="343.4" r="2.5"/><circle cx="1289.4" cy="347.4" r="2.5"/><circle cx="1289.4" cy="353.5" r="2.5"/><circle cx="1289.4" cy="355.9" r="2.5"/><circle cx="1289.4" cy="362.4" r="2.5"/><circle cx="1289.4" cy="364.8" r="2.5"/><circle cx="1289.4" cy="367.7" r="2.5"/><circle cx="1289.4" cy="371.9" r="2.5"/><circle cx="1289.4" cy="208.0" r="2.5"/><circle cx="1289.4" cy="218.0" r="2.5"/><circle cx="1289.4" cy="227.6" r="2.5"/><circle cx="1289.4" cy="380.5" r="2.5"/><circle cx="1289.4" cy="405.9" r="2.5"/><circle cx="1322.7" cy="305.0" r="2.5"/><circle cx="1322.7" cy="306.2" r="2.5"/><circle cx="1322.7" cy="311.6" r="2.5"/><circle cx="1322.7" cy="315.3" r="2.5"/><circle cx="1322.7" cy="322.8" r="2.5"/><circle cx="1322.7" cy="323.9" r="2.5"/><circle cx="1322.7" cy="327.9" r="2.5"/><circle cx="1322.7" cy="332.0" r="2.5"/><circle cx="1322.7" cy="337.3" r="2.5"/><circle cx="1322.7" cy="343.3" r="2.5"/><circle cx="1322.7" cy="347.3" r="2.5"/><circle cx="1322.7" cy="350.8" r="2.5"/><circle cx="1322.7" cy="286.7" r="2.5"/><circle cx="1322.7" cy="364.3" r="2.5"/></g>
<g fill="#e9cf88"><circle cx="85.4" cy="153.9" r="2.5"/><circle cx="85.4" cy="158.5" r="2.5"/><circle cx="85.4" cy="167.5" r="2.5"/><circle cx="85.4" cy="172.0" r="2.5"/><circle cx="85.4" cy="173.9" r="2.5"/><circle cx="85.4" cy="182.3" r="2.5"/><circle cx="85.4" cy="186.3" r="2.5"/><circle cx="85.4" cy="191.7" r="2.5"/><circle cx="85.4" cy="196.8" r="2.5"/><circle cx="85.4" cy="201.4" r="2.5"/><circle cx="85.4" cy="206.0" r="2.5"/><circle cx="85.4" cy="214.0" r="2.5"/><circle cx="85.4" cy="220.8" r="2.5"/><circle cx="85.4" cy="230.6" r="2.5"/><circle cx="85.4" cy="232.2" r="2.5"/><circle cx="85.4" cy="243.4" r="2.5"/><circle cx="85.4" cy="245.4" r="2.5"/><circle cx="85.4" cy="252.7" r="2.5"/><circle cx="85.4" cy="261.7" r="2.5"/><circle cx="85.4" cy="268.1" r="2.5"/><circle cx="85.4" cy="51.5" r="2.5"/><circle cx="85.4" cy="93.0" r="2.5"/><circle cx="85.4" cy="125.0" r="2.5"/><circle cx="85.4" cy="276.8" r="2.5"/><circle cx="85.4" cy="298.9" r="2.5"/><circle cx="118.7" cy="137.2" r="2.5"/><circle cx="118.7" cy="141.7" r="2.5"/><circle cx="118.7" cy="149.1" r="2.5"/><circle cx="118.7" cy="150.9" r="2.5"/><circle cx="118.7" cy="156.6" r="2.5"/><circle cx="118.7" cy="164.0" r="2.5"/><circle cx="118.7" cy="165.1" r="2.5"/><circle cx="118.7" cy="171.8" r="2.5"/><circle cx="118.7" cy="178.5" r="2.5"/><circle cx="118.7" cy="183.3" r="2.5"/><circle cx="118.7" cy="185.1" r="2.5"/><circle cx="118.7" cy="191.1" r="2.5"/><circle cx="118.7" cy="197.2" r="2.5"/><circle cx="118.7" cy="207.8" r="2.5"/><circle cx="118.7" cy="210.2" r="2.5"/><circle cx="118.7" cy="218.8" r="2.5"/><circle cx="118.7" cy="225.6" r="2.5"/><circle cx="118.7" cy="228.6" r="2.5"/><circle cx="118.7" cy="234.2" r="2.5"/><circle cx="118.7" cy="243.9" r="2.5"/><circle cx="118.7" cy="86.0" r="2.5"/><circle cx="118.7" cy="88.0" r="2.5"/><circle cx="118.7" cy="130.5" r="2.5"/><circle cx="118.7" cy="254.4" r="2.5"/><circle cx="118.7" cy="275.5" r="2.5"/><circle cx="151.9" cy="179.7" r="2.5"/><circle cx="151.9" cy="184.9" r="2.5"/><circle cx="151.9" cy="192.8" r="2.5"/><circle cx="151.9" cy="199.0" r="2.5"/><circle cx="151.9" cy="212.8" r="2.5"/><circle cx="151.9" cy="222.2" r="2.5"/><circle cx="151.9" cy="228.1" r="2.5"/><circle cx="151.9" cy="238.3" r="2.5"/><circle cx="151.9" cy="239.7" r="2.5"/><circle cx="151.9" cy="249.2" r="2.5"/><circle cx="151.9" cy="258.9" r="2.5"/><circle cx="151.9" cy="270.3" r="2.5"/><circle cx="151.9" cy="147.7" r="2.5"/><circle cx="151.9" cy="295.6" r="2.5"/><circle cx="185.2" cy="97.0" r="2.5"/><circle cx="185.2" cy="105.8" r="2.5"/><circle cx="185.2" cy="117.5" r="2.5"/><circle cx="185.2" cy="128.1" r="2.5"/><circle cx="185.2" cy="142.1" r="2.5"/><circle cx="185.2" cy="145.4" r="2.5"/><circle cx="185.2" cy="161.1" r="2.5"/><circle cx="185.2" cy="171.6" r="2.5"/><circle cx="185.2" cy="184.0" r="2.5"/><circle cx="185.2" cy="194.9" r="2.5"/><circle cx="185.2" cy="204.7" r="2.5"/><circle cx="185.2" cy="213.3" r="2.5"/><circle cx="185.2" cy="224.7" r="2.5"/><circle cx="185.2" cy="236.6" r="2.5"/><circle cx="185.2" cy="71.7" r="2.5"/><circle cx="185.2" cy="277.8" r="2.5"/><circle cx="218.4" cy="116.0" r="2.5"/><circle cx="218.4" cy="125.5" r="2.5"/><circle cx="218.4" cy="138.3" r="2.5"/><circle cx="218.4" cy="143.0" r="2.5"/><circle cx="218.4" cy="150.4" r="2.5"/><circle cx="218.4" cy="161.1" r="2.5"/><circle cx="218.4" cy="177.3" r="2.5"/><circle cx="218.4" cy="186.1" r="2.5"/><circle cx="218.4" cy="100.6" r="2.5"/><circle cx="218.4" cy="216.8" r="2.5"/><circle cx="251.7" cy="107.9" r="2.5"/><circle cx="251.7" cy="111.7" r="2.5"/><circle cx="251.7" cy="112.9" r="2.5"/><circle cx="251.7" cy="115.9" r="2.5"/><circle cx="251.7" cy="119.4" r="2.5"/><circle cx="251.7" cy="124.1" r="2.5"/><circle cx="251.7" cy="128.2" r="2.5"/><circle cx="251.7" cy="130.9" r="2.5"/><circle cx="251.7" cy="133.7" r="2.5"/><circle cx="251.7" cy="137.7" r="2.5"/><circle cx="251.7" cy="141.8" r="2.5"/><circle cx="251.7" cy="145.5" r="2.5"/><circle cx="251.7" cy="149.2" r="2.5"/><circle cx="251.7" cy="152.9" r="2.5"/><circle cx="251.7" cy="156.3" r="2.5"/><circle cx="251.7" cy="158.5" r="2.5"/><circle cx="251.7" cy="165.3" r="2.5"/><circle cx="251.7" cy="167.5" r="2.5"/><circle cx="251.7" cy="172.7" r="2.5"/><circle cx="251.7" cy="176.1" r="2.5"/><circle cx="251.7" cy="181.7" r="2.5"/><circle cx="251.7" cy="183.9" r="2.5"/><circle cx="251.7" cy="188.2" r="2.5"/><circle cx="251.7" cy="192.4" r="2.5"/><circle cx="251.7" cy="196.2" r="2.5"/><circle cx="251.7" cy="203.2" r="2.5"/><circle cx="251.7" cy="206.2" r="2.5"/><circle cx="251.7" cy="209.5" r="2.5"/><circle cx="251.7" cy="62.9" r="2.5"/><circle cx="251.7" cy="71.3" r="2.5"/><circle cx="251.7" cy="93.4" r="2.5"/><circle cx="251.7" cy="99.4" r="2.5"/><circle cx="251.7" cy="218.5" r="2.5"/><circle cx="251.7" cy="254.3" r="2.5"/><circle cx="285.0" cy="156.8" r="2.5"/><circle cx="285.0" cy="161.0" r="2.5"/><circle cx="285.0" cy="169.4" r="2.5"/><circle cx="285.0" cy="174.2" r="2.5"/><circle cx="285.0" cy="181.4" r="2.5"/><circle cx="285.0" cy="182.5" r="2.5"/><circle cx="285.0" cy="189.9" r="2.5"/><circle cx="285.0" cy="197.2" r="2.5"/><circle cx="285.0" cy="202.9" r="2.5"/><circle cx="285.0" cy="208.8" r="2.5"/><circle cx="285.0" cy="210.1" r="2.5"/><circle cx="285.0" cy="218.1" r="2.5"/><circle cx="285.0" cy="223.6" r="2.5"/><circle cx="285.0" cy="230.6" r="2.5"/><circle cx="285.0" cy="241.8" r="2.5"/><circle cx="285.0" cy="246.0" r="2.5"/><circle cx="285.0" cy="254.6" r="2.5"/><circle cx="285.0" cy="257.9" r="2.5"/><circle cx="285.0" cy="267.3" r="2.5"/><circle cx="285.0" cy="271.4" r="2.5"/><circle cx="285.0" cy="55.2" r="2.5"/><circle cx="285.0" cy="100.3" r="2.5"/><circle cx="285.0" cy="126.0" r="2.5"/><circle cx="285.0" cy="137.0" r="2.5"/><circle cx="285.0" cy="279.6" r="2.5"/><circle cx="285.0" cy="318.2" r="2.5"/><circle cx="318.2" cy="121.9" r="2.5"/><circle cx="318.2" cy="123.4" r="2.5"/><circle cx="318.2" cy="132.4" r="2.5"/><circle cx="318.2" cy="138.7" r="2.5"/><circle cx="318.2" cy="142.7" r="2.5"/><circle cx="318.2" cy="149.8" r="2.5"/><circle cx="318.2" cy="154.7" r="2.5"/><circle cx="318.2" cy="161.3" r="2.5"/><circle cx="318.2" cy="167.8" r="2.5"/><circle cx="318.2" cy="175.9" r="2.5"/><circle cx="318.2" cy="183.1" r="2.5"/><circle cx="318.2" cy="187.4" r="2.5"/><circle cx="318.2" cy="193.4" r="2.5"/><circle cx="318.2" cy="202.6" r="2.5"/><circle cx="318.2" cy="212.1" r="2.5"/><circle cx="318.2" cy="216.2" r="2.5"/><circle cx="318.2" cy="224.2" r="2.5"/><circle cx="318.2" cy="230.7" r="2.5"/><circle cx="318.2" cy="241.8" r="2.5"/><circle cx="318.2" cy="247.4" r="2.5"/><circle cx="318.2" cy="95.7" r="2.5"/><circle cx="318.2" cy="105.4" r="2.5"/><circle cx="318.2" cy="114.8" r="2.5"/><circle cx="318.2" cy="251.9" r="2.5"/><circle cx="318.2" cy="285.2" r="2.5"/><circle cx="351.5" cy="117.8" r="2.5"/><circle cx="351.5" cy="129.8" r="2.5"/><circle cx="351.5" cy="141.2" r="2.5"/><circle cx="351.5" cy="146.5" r="2.5"/><circle cx="351.5" cy="157.7" r="2.5"/><circle cx="351.5" cy="173.3" r="2.5"/><circle cx="351.5" cy="181.8" r="2.5"/><circle cx="351.5" cy="192.6" r="2.5"/><circle cx="351.5" cy="205.1" r="2.5"/><circle cx="351.5" cy="224.4" r="2.5"/><circle cx="351.5" cy="229.5" r="2.5"/><circle cx="351.5" cy="244.5" r="2.5"/><circle cx="351.5" cy="95.7" r="2.5"/><circle cx="351.5" cy="102.6" r="2.5"/><circle cx="351.5" cy="264.0" r="2.5"/><circle cx="384.7" cy="135.5" r="2.5"/><circle cx="384.7" cy="141.9" r="2.5"/><circle cx="384.7" cy="147.1" r="2.5"/><circle cx="384.7" cy="149.1" r="2.5"/><circle cx="384.7" cy="153.0" r="2.5"/><circle cx="384.7" cy="159.9" r="2.5"/><circle cx="384.7" cy="162.3" r="2.5"/><circle cx="384.7" cy="166.1" r="2.5"/><circle cx="384.7" cy="174.4" r="2.5"/><circle cx="384.7" cy="177.1" r="2.5"/><circle cx="384.7" cy="184.1" r="2.5"/><circle cx="384.7" cy="187.7" r="2.5"/><circle cx="384.7" cy="195.7" r="2.5"/><circle cx="384.7" cy="199.2" r="2.5"/><circle cx="384.7" cy="203.3" r="2.5"/><circle cx="384.7" cy="208.2" r="2.5"/><circle cx="384.7" cy="216.5" r="2.5"/><circle cx="384.7" cy="222.6" r="2.5"/><circle cx="384.7" cy="229.5" r="2.5"/><circle cx="384.7" cy="231.0" r="2.5"/><circle cx="384.7" cy="55.2" r="2.5"/><circle cx="384.7" cy="88.3" r="2.5"/><circle cx="384.7" cy="123.4" r="2.5"/><circle cx="384.7" cy="245.3" r="2.5"/><circle cx="384.7" cy="266.8" r="2.5"/><circle cx="418.0" cy="147.8" r="2.5"/><circle cx="418.0" cy="151.9" r="2.5"/><circle cx="418.0" cy="158.7" r="2.5"/><circle cx="418.0" cy="166.0" r="2.5"/><circle cx="418.0" cy="174.2" r="2.5"/><circle cx="418.0" cy="175.8" r="2.5"/><circle cx="418.0" cy="183.9" r="2.5"/><circle cx="418.0" cy="191.6" r="2.5"/><circle cx="418.0" cy="198.5" r="2.5"/><circle cx="418.0" cy="200.4" r="2.5"/><circle cx="418.0" cy="206.2" r="2.5"/><circle cx="418.0" cy="218.3" r="2.5"/><circle cx="418.0" cy="225.6" r="2.5"/><circle cx="418.0" cy="229.5" r="2.5"/><circle cx="418.0" cy="233.8" r="2.5"/><circle cx="418.0" cy="246.3" r="2.5"/><circle cx="418.0" cy="249.9" r="2.5"/><circle cx="418.0" cy="260.2" r="2.5"/><circle cx="418.0" cy="265.4" r="2.5"/><circle cx="418.0" cy="273.7" r="2.5"/><circle cx="418.0" cy="65.8" r="2.5"/><circle cx="418.0" cy="71.2" r="2.5"/><circle cx="418.0" cy="129.0" r="2.5"/><circle cx="418.0" cy="278.2" r="2.5"/><circle cx="418.0" cy="321.7" r="2.5"/><circle cx="451.3" cy="147.7" r="2.5"/><circle cx="451.3" cy="153.1" r="2.5"/><circle cx="451.3" cy="159.7" r="2.5"/><circle cx="451.3" cy="164.3" r="2.5"/><circle cx="451.3" cy="166.2" r="2.5"/><circle cx="451.3" cy="171.1" r="2.5"/><circle cx="451.3" cy="176.5" r="2.5"/><circle cx="451.3" cy="181.7" r="2.5"/><circle cx="451.3" cy="185.8" r="2.5"/><circle cx="451.3" cy="189.4" r="2.5"/><circle cx="451.3" cy="194.8" r="2.5"/><circle cx="451.3" cy="203.0" r="2.5"/><circle cx="451.3" cy="209.5" r="2.5"/><circle cx="451.3" cy="210.8" r="2.5"/><circle cx="451.3" cy="219.2" r="2.5"/><circle cx="451.3" cy="225.9" r="2.5"/><circle cx="451.3" cy="227.9" r="2.5"/><circle cx="451.3" cy="237.6" r="2.5"/><circle cx="451.3" cy="239.6" r="2.5"/><circle cx="451.3" cy="247.8" r="2.5"/><circle cx="451.3" cy="114.0" r="2.5"/><circle cx="451.3" cy="118.0" r="2.5"/><circle cx="451.3" cy="122.5" r="2.5"/><circle cx="451.3" cy="136.0" r="2.5"/><circle cx="451.3" cy="258.5" r="2.5"/><circle cx="451.3" cy="285.3" r="2.5"/><circle cx="484.5" cy="120.9" r="2.5"/><circle cx="484.5" cy="127.4" r="2.5"/><circle cx="484.5" cy="134.2" r="2.5"/><circle cx="484.5" cy="139.3" r="2.5"/><circle cx="484.5" cy="146.4" r="2.5"/><circle cx="484.5" cy="151.2" r="2.5"/><circle cx="484.5" cy="157.0" r="2.5"/><circle cx="484.5" cy="160.7" r="2.5"/><circle cx="484.5" cy="169.8" r="2.5"/><circle cx="484.5" cy="175.0" r="2.5"/><circle cx="484.5" cy="179.8" r="2.5"/><circle cx="484.5" cy="190.0" r="2.5"/><circle cx="484.5" cy="197.0" r="2.5"/><circle cx="484.5" cy="201.9" r="2.5"/><circle cx="484.5" cy="207.1" r="2.5"/><circle cx="484.5" cy="215.8" r="2.5"/><circle cx="484.5" cy="220.4" r="2.5"/><circle cx="484.5" cy="227.4" r="2.5"/><circle cx="484.5" cy="236.2" r="2.5"/><circle cx="484.5" cy="241.0" r="2.5"/><circle cx="484.5" cy="17.0" r="2.5"/><circle cx="484.5" cy="61.4" r="2.5"/><circle cx="484.5" cy="95.0" r="2.5"/><circle cx="484.5" cy="255.2" r="2.5"/><circle cx="484.5" cy="287.6" r="2.5"/><circle cx="517.8" cy="137.2" r="2.5"/><circle cx="517.8" cy="141.3" r="2.5"/><circle cx="517.8" cy="142.7" r="2.5"/><circle cx="517.8" cy="146.9" r="2.5"/><circle cx="517.8" cy="149.7" r="2.5"/><circle cx="517.8" cy="151.7" r="2.5"/><circle cx="517.8" cy="153.3" r="2.5"/><circle cx="517.8" cy="157.0" r="2.5"/><circle cx="517.8" cy="159.4" r="2.5"/><circle cx="517.8" cy="163.4" r="2.5"/><circle cx="517.8" cy="164.1" r="2.5"/><circle cx="517.8" cy="168.5" r="2.5"/><circle cx="517.8" cy="171.5" r="2.5"/><circle cx="517.8" cy="173.5" r="2.5"/><circle cx="517.8" cy="176.4" r="2.5"/><circle cx="517.8" cy="177.6" r="2.5"/><circle cx="517.8" cy="182.1" r="2.5"/><circle cx="517.8" cy="183.6" r="2.5"/><circle cx="517.8" cy="187.4" r="2.5"/><circle cx="517.8" cy="190.0" r="2.5"/><circle cx="517.8" cy="190.9" r="2.5"/><circle cx="517.8" cy="195.9" r="2.5"/><circle cx="517.8" cy="199.4" r="2.5"/><circle cx="517.8" cy="200.1" r="2.5"/><circle cx="517.8" cy="204.1" r="2.5"/><circle cx="517.8" cy="208.4" r="2.5"/><circle cx="517.8" cy="209.9" r="2.5"/><circle cx="517.8" cy="215.2" r="2.5"/><circle cx="517.8" cy="216.6" r="2.5"/><circle cx="517.8" cy="221.3" r="2.5"/><circle cx="517.8" cy="222.5" r="2.5"/><circle cx="517.8" cy="226.7" r="2.5"/><circle cx="517.8" cy="231.1" r="2.5"/><circle cx="517.8" cy="232.2" r="2.5"/><circle cx="517.8" cy="235.5" r="2.5"/><circle cx="517.8" cy="239.4" r="2.5"/><circle cx="517.8" cy="242.0" r="2.5"/><circle cx="517.8" cy="244.4" r="2.5"/><circle cx="517.8" cy="247.9" r="2.5"/><circle cx="517.8" cy="251.1" r="2.5"/><circle cx="517.8" cy="78.5" r="2.5"/><circle cx="517.8" cy="88.0" r="2.5"/><circle cx="517.8" cy="98.0" r="2.5"/><circle cx="517.8" cy="261.6" r="2.5"/><circle cx="517.8" cy="273.7" r="2.5"/><circle cx="517.8" cy="289.7" r="2.5"/><circle cx="517.8" cy="297.8" r="2.5"/><circle cx="551.0" cy="113.8" r="2.5"/><circle cx="551.0" cy="115.8" r="2.5"/><circle cx="551.0" cy="122.8" r="2.5"/><circle cx="551.0" cy="128.3" r="2.5"/><circle cx="551.0" cy="132.1" r="2.5"/><circle cx="551.0" cy="139.5" r="2.5"/><circle cx="551.0" cy="143.1" r="2.5"/><circle cx="551.0" cy="148.2" r="2.5"/><circle cx="551.0" cy="155.7" r="2.5"/><circle cx="551.0" cy="157.6" r="2.5"/><circle cx="551.0" cy="168.9" r="2.5"/><circle cx="551.0" cy="173.2" r="2.5"/><circle cx="551.0" cy="178.2" r="2.5"/><circle cx="551.0" cy="186.7" r="2.5"/><circle cx="551.0" cy="190.0" r="2.5"/><circle cx="551.0" cy="200.4" r="2.5"/><circle cx="551.0" cy="66.5" r="2.5"/><circle cx="551.0" cy="69.5" r="2.5"/><circle cx="551.0" cy="101.0" r="2.5"/><circle cx="551.0" cy="107.0" r="2.5"/><circle cx="551.0" cy="216.5" r="2.5"/><circle cx="584.3" cy="142.1" r="2.5"/><circle cx="584.3" cy="155.4" r="2.5"/><circle cx="584.3" cy="162.3" r="2.5"/><circle cx="584.3" cy="169.7" r="2.5"/><circle cx="584.3" cy="184.5" r="2.5"/><circle cx="584.3" cy="188.1" r="2.5"/><circle cx="584.3" cy="206.0" r="2.5"/><circle cx="584.3" cy="211.6" r="2.5"/><circle cx="584.3" cy="227.0" r="2.5"/><circle cx="584.3" cy="242.0" r="2.5"/><circle cx="584.3" cy="249.3" r="2.5"/><circle cx="584.3" cy="261.6" r="2.5"/><circle cx="584.3" cy="98.0" r="2.5"/><circle cx="584.3" cy="117.4" r="2.5"/><circle cx="584.3" cy="277.2" r="2.5"/><circle cx="617.6" cy="86.1" r="2.5"/><circle cx="617.6" cy="88.6" r="2.5"/><circle cx="617.6" cy="91.2" r="2.5"/><circle cx="617.6" cy="94.6" r="2.5"/><circle cx="617.6" cy="96.5" r="2.5"/><circle cx="617.6" cy="99.1" r="2.5"/><circle cx="617.6" cy="102.3" r="2.5"/><circle cx="617.6" cy="103.0" r="2.5"/><circle cx="617.6" cy="105.6" r="2.5"/><circle cx="617.6" cy="108.9" r="2.5"/><circle cx="617.6" cy="109.9" r="2.5"/><circle cx="617.6" cy="112.2" r="2.5"/><circle cx="617.6" cy="115.4" r="2.5"/><circle cx="617.6" cy="117.2" r="2.5"/><circle cx="617.6" cy="120.1" r="2.5"/><circle cx="617.6" cy="122.2" r="2.5"/><circle cx="617.6" cy="125.4" r="2.5"/><circle cx="617.6" cy="127.8" r="2.5"/><circle cx="617.6" cy="129.3" r="2.5"/><circle cx="617.6" cy="132.6" r="2.5"/><circle cx="617.6" cy="134.6" r="2.5"/><circle cx="617.6" cy="136.3" r="2.5"/><circle cx="617.6" cy="140.4" r="2.5"/><circle cx="617.6" cy="141.3" r="2.5"/><circle cx="617.6" cy="143.5" r="2.5"/><circle cx="617.6" cy="146.2" r="2.5"/><circle cx="617.6" cy="150.3" r="2.5"/><circle cx="617.6" cy="153.7" r="2.5"/><circle cx="617.6" cy="156.3" r="2.5"/><circle cx="617.6" cy="158.1" r="2.5"/><circle cx="617.6" cy="160.6" r="2.5"/><circle cx="617.6" cy="162.7" r="2.5"/><circle cx="617.6" cy="167.1" r="2.5"/><circle cx="617.6" cy="169.7" r="2.5"/><circle cx="617.6" cy="171.9" r="2.5"/><circle cx="617.6" cy="175.5" r="2.5"/><circle cx="617.6" cy="177.8" r="2.5"/><circle cx="617.6" cy="181.8" r="2.5"/><circle cx="617.6" cy="184.1" r="2.5"/><circle cx="617.6" cy="185.6" r="2.5"/><circle cx="617.6" cy="190.1" r="2.5"/><circle cx="617.6" cy="190.7" r="2.5"/><circle cx="617.6" cy="194.7" r="2.5"/><circle cx="617.6" cy="197.2" r="2.5"/><circle cx="617.6" cy="199.6" r="2.5"/><circle cx="617.6" cy="201.9" r="2.5"/><circle cx="617.6" cy="206.5" r="2.5"/><circle cx="617.6" cy="207.4" r="2.5"/><circle cx="617.6" cy="11.0" r="2.5"/><circle cx="617.6" cy="15.0" r="2.5"/><circle cx="617.6" cy="19.0" r="2.5"/><circle cx="617.6" cy="23.0" r="2.5"/><circle cx="617.6" cy="27.0" r="2.5"/><circle cx="617.6" cy="31.0" r="2.5"/><circle cx="617.6" cy="35.0" r="2.5"/><circle cx="617.6" cy="39.0" r="2.5"/><circle cx="617.6" cy="43.0" r="2.5"/><circle cx="617.6" cy="47.0" r="2.5"/><circle cx="617.6" cy="51.0" r="2.5"/><circle cx="617.6" cy="55.0" r="2.5"/><circle cx="617.6" cy="59.0" r="2.5"/><circle cx="617.6" cy="63.0" r="2.5"/><circle cx="617.6" cy="67.0" r="2.5"/><circle cx="617.6" cy="71.0" r="2.5"/><circle cx="617.6" cy="75.0" r="2.5"/><circle cx="617.6" cy="79.0" r="2.5"/><circle cx="617.6" cy="83.0" r="2.5"/><circle cx="617.6" cy="215.0" r="2.5"/><circle cx="617.6" cy="233.6" r="2.5"/><circle cx="617.6" cy="241.4" r="2.5"/><circle cx="617.6" cy="257.0" r="2.5"/><circle cx="650.8" cy="118.5" r="2.5"/><circle cx="650.8" cy="122.3" r="2.5"/><circle cx="650.8" cy="127.0" r="2.5"/><circle cx="650.8" cy="131.9" r="2.5"/><circle cx="650.8" cy="133.6" r="2.5"/><circle cx="650.8" cy="138.3" r="2.5"/><circle cx="650.8" cy="142.5" r="2.5"/><circle cx="650.8" cy="145.7" r="2.5"/><circle cx="650.8" cy="153.1" r="2.5"/><circle cx="650.8" cy="156.9" r="2.5"/><circle cx="650.8" cy="160.8" r="2.5"/><circle cx="650.8" cy="162.3" r="2.5"/><circle cx="650.8" cy="170.4" r="2.5"/><circle cx="650.8" cy="174.9" r="2.5"/><circle cx="650.8" cy="178.7" r="2.5"/><circle cx="650.8" cy="185.0" r="2.5"/><circle cx="650.8" cy="188.7" r="2.5"/><circle cx="650.8" cy="192.7" r="2.5"/><circle cx="650.8" cy="197.2" r="2.5"/><circle cx="650.8" cy="202.8" r="2.5"/><circle cx="650.8" cy="206.9" r="2.5"/><circle cx="650.8" cy="213.3" r="2.5"/><circle cx="650.8" cy="220.2" r="2.5"/><circle cx="650.8" cy="225.0" r="2.5"/><circle cx="650.8" cy="50.0" r="2.5"/><circle cx="650.8" cy="55.0" r="2.5"/><circle cx="650.8" cy="62.0" r="2.5"/><circle cx="650.8" cy="68.0" r="2.5"/><circle cx="650.8" cy="74.0" r="2.5"/><circle cx="650.8" cy="105.4" r="2.5"/><circle cx="650.8" cy="240.4" r="2.5"/><circle cx="650.8" cy="265.3" r="2.5"/><circle cx="684.1" cy="85.8" r="2.5"/><circle cx="684.1" cy="95.5" r="2.5"/><circle cx="684.1" cy="102.3" r="2.5"/><circle cx="684.1" cy="112.4" r="2.5"/><circle cx="684.1" cy="118.3" r="2.5"/><circle cx="684.1" cy="124.2" r="2.5"/><circle cx="684.1" cy="134.4" r="2.5"/><circle cx="684.1" cy="144.3" r="2.5"/><circle cx="684.1" cy="146.8" r="2.5"/><circle cx="684.1" cy="159.1" r="2.5"/><circle cx="684.1" cy="160.9" r="2.5"/><circle cx="684.1" cy="171.4" r="2.5"/><circle cx="684.1" cy="179.9" r="2.5"/><circle cx="684.1" cy="192.5" r="2.5"/><circle cx="684.1" cy="202.8" r="2.5"/><circle cx="684.1" cy="209.9" r="2.5"/><circle cx="684.1" cy="215.3" r="2.5"/><circle cx="684.1" cy="228.3" r="2.5"/><circle cx="684.1" cy="232.7" r="2.5"/><circle cx="684.1" cy="240.6" r="2.5"/><circle cx="684.1" cy="29.0" r="2.5"/><circle cx="684.1" cy="33.0" r="2.5"/><circle cx="684.1" cy="40.0" r="2.5"/><circle cx="684.1" cy="46.0" r="2.5"/><circle cx="684.1" cy="52.0" r="2.5"/><circle cx="684.1" cy="58.0" r="2.5"/><circle cx="684.1" cy="64.0" r="2.5"/><circle cx="684.1" cy="70.0" r="2.5"/><circle cx="684.1" cy="76.0" r="2.5"/><circle cx="684.1" cy="80.0" r="2.5"/><circle cx="684.1" cy="268.2" r="2.5"/><circle cx="684.1" cy="300.8" r="2.5"/><circle cx="717.3" cy="95.2" r="2.5"/><circle cx="717.3" cy="99.9" r="2.5"/><circle cx="717.3" cy="106.0" r="2.5"/><circle cx="717.3" cy="108.6" r="2.5"/><circle cx="717.3" cy="115.0" r="2.5"/><circle cx="717.3" cy="119.2" r="2.5"/><circle cx="717.3" cy="124.7" r="2.5"/><circle cx="717.3" cy="127.6" r="2.5"/><circle cx="717.3" cy="134.5" r="2.5"/><circle cx="717.3" cy="139.7" r="2.5"/><circle cx="717.3" cy="144.3" r="2.5"/><circle cx="717.3" cy="149.9" r="2.5"/><circle cx="717.3" cy="158.1" r="2.5"/><circle cx="717.3" cy="161.2" r="2.5"/><circle cx="717.3" cy="171.8" r="2.5"/><circle cx="717.3" cy="173.7" r="2.5"/><circle cx="717.3" cy="77.0" r="2.5"/><circle cx="717.3" cy="81.0" r="2.5"/><circle cx="717.3" cy="86.0" r="2.5"/><circle cx="717.3" cy="179.3" r="2.5"/><circle cx="750.6" cy="111.3" r="2.5"/><circle cx="750.6" cy="120.9" r="2.5"/><circle cx="750.6" cy="123.5" r="2.5"/><circle cx="750.6" cy="127.9" r="2.5"/><circle cx="750.6" cy="132.9" r="2.5"/><circle cx="750.6" cy="138.4" r="2.5"/><circle cx="750.6" cy="147.1" r="2.5"/><circle cx="750.6" cy="152.3" r="2.5"/><circle cx="750.6" cy="158.1" r="2.5"/><circle cx="750.6" cy="163.8" r="2.5"/><circle cx="750.6" cy="166.1" r="2.5"/><circle cx="750.6" cy="175.7" r="2.5"/><circle cx="750.6" cy="180.8" r="2.5"/><circle cx="750.6" cy="190.0" r="2.5"/><circle cx="750.6" cy="196.5" r="2.5"/><circle cx="750.6" cy="203.4" r="2.5"/><circle cx="750.6" cy="205.0" r="2.5"/><circle cx="750.6" cy="216.2" r="2.5"/><circle cx="750.6" cy="223.0" r="2.5"/><circle cx="750.6" cy="229.7" r="2.5"/><circle cx="750.6" cy="47.0" r="2.5"/><circle cx="750.6" cy="51.0" r="2.5"/><circle cx="750.6" cy="54.5" r="2.5"/><circle cx="750.6" cy="87.5" r="2.5"/><circle cx="750.6" cy="95.0" r="2.5"/><circle cx="750.6" cy="103.0" r="2.5"/><circle cx="750.6" cy="232.2" r="2.5"/><circle cx="750.6" cy="263.1" r="2.5"/><circle cx="783.9" cy="100.8" r="2.5"/><circle cx="783.9" cy="103.6" r="2.5"/><circle cx="783.9" cy="108.7" r="2.5"/><circle cx="783.9" cy="111.5" r="2.5"/><circle cx="783.9" cy="114.0" r="2.5"/><circle cx="783.9" cy="117.4" r="2.5"/><circle cx="783.9" cy="119.9" r="2.5"/><circle cx="783.9" cy="121.9" r="2.5"/><circle cx="783.9" cy="124.3" r="2.5"/><circle cx="783.9" cy="127.3" r="2.5"/><circle cx="783.9" cy="132.0" r="2.5"/><circle cx="783.9" cy="133.4" r="2.5"/><circle cx="783.9" cy="137.0" r="2.5"/><circle cx="783.9" cy="141.1" r="2.5"/><circle cx="783.9" cy="143.5" r="2.5"/><circle cx="783.9" cy="148.1" r="2.5"/><circle cx="783.9" cy="151.9" r="2.5"/><circle cx="783.9" cy="157.2" r="2.5"/><circle cx="783.9" cy="159.8" r="2.5"/><circle cx="783.9" cy="163.4" r="2.5"/><circle cx="783.9" cy="169.4" r="2.5"/><circle cx="783.9" cy="171.6" r="2.5"/><circle cx="783.9" cy="176.5" r="2.5"/><circle cx="783.9" cy="179.5" r="2.5"/><circle cx="783.9" cy="77.0" r="2.5"/><circle cx="783.9" cy="82.0" r="2.5"/><circle cx="783.9" cy="88.0" r="2.5"/><circle cx="783.9" cy="94.0" r="2.5"/><circle cx="783.9" cy="181.4" r="2.5"/><circle cx="783.9" cy="206.4" r="2.5"/><circle cx="817.1" cy="108.0" r="2.5"/><circle cx="817.1" cy="114.0" r="2.5"/><circle cx="817.1" cy="116.9" r="2.5"/><circle cx="817.1" cy="123.0" r="2.5"/><circle cx="817.1" cy="126.9" r="2.5"/><circle cx="817.1" cy="130.2" r="2.5"/><circle cx="817.1" cy="137.4" r="2.5"/><circle cx="817.1" cy="138.9" r="2.5"/><circle cx="817.1" cy="146.5" r="2.5"/><circle cx="817.1" cy="148.4" r="2.5"/><circle cx="817.1" cy="152.3" r="2.5"/><circle cx="817.1" cy="157.7" r="2.5"/><circle cx="817.1" cy="164.7" r="2.5"/><circle cx="817.1" cy="170.2" r="2.5"/><circle cx="817.1" cy="170.8" r="2.5"/><circle cx="817.1" cy="178.4" r="2.5"/><circle cx="817.1" cy="183.8" r="2.5"/><circle cx="817.1" cy="190.5" r="2.5"/><circle cx="817.1" cy="192.9" r="2.5"/><circle cx="817.1" cy="199.7" r="2.5"/><circle cx="817.1" cy="204.4" r="2.5"/><circle cx="817.1" cy="212.0" r="2.5"/><circle cx="817.1" cy="214.6" r="2.5"/><circle cx="817.1" cy="223.2" r="2.5"/><circle cx="817.1" cy="225.3" r="2.5"/><circle cx="817.1" cy="230.3" r="2.5"/><circle cx="817.1" cy="238.0" r="2.5"/><circle cx="817.1" cy="242.3" r="2.5"/><circle cx="817.1" cy="51.5" r="2.5"/><circle cx="817.1" cy="77.0" r="2.5"/><circle cx="817.1" cy="83.0" r="2.5"/><circle cx="817.1" cy="90.0" r="2.5"/><circle cx="817.1" cy="97.0" r="2.5"/><circle cx="817.1" cy="247.2" r="2.5"/><circle cx="817.1" cy="291.3" r="2.5"/><circle cx="850.4" cy="118.5" r="2.5"/><circle cx="850.4" cy="125.2" r="2.5"/><circle cx="850.4" cy="128.9" r="2.5"/><circle cx="850.4" cy="133.3" r="2.5"/><circle cx="850.4" cy="136.8" r="2.5"/><circle cx="850.4" cy="139.9" r="2.5"/><circle cx="850.4" cy="144.2" r="2.5"/><circle cx="850.4" cy="148.2" r="2.5"/><circle cx="850.4" cy="154.1" r="2.5"/><circle cx="850.4" cy="155.3" r="2.5"/><circle cx="850.4" cy="162.3" r="2.5"/><circle cx="850.4" cy="163.2" r="2.5"/><circle cx="850.4" cy="168.2" r="2.5"/><circle cx="850.4" cy="173.3" r="2.5"/><circle cx="850.4" cy="181.1" r="2.5"/><circle cx="850.4" cy="184.2" r="2.5"/><circle cx="850.4" cy="188.6" r="2.5"/><circle cx="850.4" cy="195.7" r="2.5"/><circle cx="850.4" cy="197.8" r="2.5"/><circle cx="850.4" cy="203.7" r="2.5"/><circle cx="850.4" cy="208.9" r="2.5"/><circle cx="850.4" cy="214.8" r="2.5"/><circle cx="850.4" cy="219.7" r="2.5"/><circle cx="850.4" cy="224.2" r="2.5"/><circle cx="850.4" cy="107.0" r="2.5"/><circle cx="850.4" cy="231.6" r="2.5"/><circle cx="850.4" cy="257.8" r="2.5"/><circle cx="883.6" cy="98.3" r="2.5"/><circle cx="883.6" cy="105.7" r="2.5"/><circle cx="883.6" cy="109.5" r="2.5"/><circle cx="883.6" cy="114.5" r="2.5"/><circle cx="883.6" cy="116.7" r="2.5"/><circle cx="883.6" cy="122.4" r="2.5"/><circle cx="883.6" cy="128.4" r="2.5"/><circle cx="883.6" cy="132.2" r="2.5"/><circle cx="883.6" cy="134.9" r="2.5"/><circle cx="883.6" cy="140.9" r="2.5"/><circle cx="883.6" cy="147.2" r="2.5"/><circle cx="883.6" cy="149.1" r="2.5"/><circle cx="883.6" cy="153.7" r="2.5"/><circle cx="883.6" cy="159.4" r="2.5"/><circle cx="883.6" cy="166.5" r="2.5"/><circle cx="883.6" cy="172.3" r="2.5"/><circle cx="883.6" cy="174.3" r="2.5"/><circle cx="883.6" cy="179.5" r="2.5"/><circle cx="883.6" cy="185.2" r="2.5"/><circle cx="883.6" cy="190.7" r="2.5"/><circle cx="883.6" cy="196.9" r="2.5"/><circle cx="883.6" cy="200.4" r="2.5"/><circle cx="883.6" cy="206.4" r="2.5"/><circle cx="883.6" cy="210.9" r="2.5"/><circle cx="883.6" cy="49.0" r="2.5"/><circle cx="883.6" cy="63.0" r="2.5"/><circle cx="883.6" cy="75.0" r="2.5"/><circle cx="883.6" cy="78.0" r="2.5"/><circle cx="883.6" cy="82.0" r="2.5"/><circle cx="883.6" cy="92.0" r="2.5"/><circle cx="883.6" cy="231.5" r="2.5"/><circle cx="883.6" cy="255.4" r="2.5"/><circle cx="916.9" cy="126.2" r="2.5"/><circle cx="916.9" cy="132.8" r="2.5"/><circle cx="916.9" cy="133.6" r="2.5"/><circle cx="916.9" cy="138.3" r="2.5"/><circle cx="916.9" cy="144.0" r="2.5"/><circle cx="916.9" cy="147.1" r="2.5"/><circle cx="916.9" cy="150.6" r="2.5"/><circle cx="916.9" cy="153.3" r="2.5"/><circle cx="916.9" cy="156.2" r="2.5"/><circle cx="916.9" cy="161.4" r="2.5"/><circle cx="916.9" cy="163.3" r="2.5"/><circle cx="916.9" cy="167.4" r="2.5"/><circle cx="916.9" cy="171.7" r="2.5"/><circle cx="916.9" cy="174.2" r="2.5"/><circle cx="916.9" cy="179.4" r="2.5"/><circle cx="916.9" cy="185.2" r="2.5"/><circle cx="916.9" cy="189.2" r="2.5"/><circle cx="916.9" cy="192.8" r="2.5"/><circle cx="916.9" cy="197.6" r="2.5"/><circle cx="916.9" cy="201.3" r="2.5"/><circle cx="916.9" cy="204.3" r="2.5"/><circle cx="916.9" cy="210.5" r="2.5"/><circle cx="916.9" cy="214.0" r="2.5"/><circle cx="916.9" cy="219.7" r="2.5"/><circle cx="916.9" cy="224.6" r="2.5"/><circle cx="916.9" cy="227.1" r="2.5"/><circle cx="916.9" cy="232.0" r="2.5"/><circle cx="916.9" cy="237.0" r="2.5"/><circle cx="916.9" cy="70.0" r="2.5"/><circle cx="916.9" cy="74.0" r="2.5"/><circle cx="916.9" cy="78.0" r="2.5"/><circle cx="916.9" cy="245.1" r="2.5"/><circle cx="916.9" cy="269.2" r="2.5"/><circle cx="950.2" cy="135.0" r="2.5"/><circle cx="950.2" cy="138.3" r="2.5"/><circle cx="950.2" cy="140.8" r="2.5"/><circle cx="950.2" cy="143.5" r="2.5"/><circle cx="950.2" cy="146.8" r="2.5"/><circle cx="950.2" cy="149.2" r="2.5"/><circle cx="950.2" cy="151.9" r="2.5"/><circle cx="950.2" cy="154.3" r="2.5"/><circle cx="950.2" cy="156.8" r="2.5"/><circle cx="950.2" cy="160.5" r="2.5"/><circle cx="950.2" cy="162.0" r="2.5"/><circle cx="950.2" cy="165.7" r="2.5"/><circle cx="950.2" cy="169.4" r="2.5"/><circle cx="950.2" cy="172.1" r="2.5"/><circle cx="950.2" cy="175.2" r="2.5"/><circle cx="950.2" cy="177.6" r="2.5"/><circle cx="950.2" cy="181.9" r="2.5"/><circle cx="950.2" cy="185.6" r="2.5"/><circle cx="950.2" cy="189.8" r="2.5"/><circle cx="950.2" cy="192.7" r="2.5"/><circle cx="950.2" cy="197.3" r="2.5"/><circle cx="950.2" cy="201.7" r="2.5"/><circle cx="950.2" cy="202.9" r="2.5"/><circle cx="950.2" cy="208.1" r="2.5"/><circle cx="950.2" cy="212.2" r="2.5"/><circle cx="950.2" cy="214.5" r="2.5"/><circle cx="950.2" cy="218.5" r="2.5"/><circle cx="950.2" cy="223.7" r="2.5"/><circle cx="950.2" cy="53.5" r="2.5"/><circle cx="950.2" cy="109.0" r="2.5"/><circle cx="950.2" cy="224.5" r="2.5"/><circle cx="950.2" cy="254.4" r="2.5"/><circle cx="983.4" cy="97.8" r="2.5"/><circle cx="983.4" cy="105.9" r="2.5"/><circle cx="983.4" cy="111.9" r="2.5"/><circle cx="983.4" cy="115.1" r="2.5"/><circle cx="983.4" cy="118.4" r="2.5"/><circle cx="983.4" cy="125.8" r="2.5"/><circle cx="983.4" cy="130.8" r="2.5"/><circle cx="983.4" cy="136.9" r="2.5"/><circle cx="983.4" cy="141.1" r="2.5"/><circle cx="983.4" cy="146.9" r="2.5"/><circle cx="983.4" cy="153.0" r="2.5"/><circle cx="983.4" cy="156.8" r="2.5"/><circle cx="983.4" cy="161.4" r="2.5"/><circle cx="983.4" cy="168.9" r="2.5"/><circle cx="983.4" cy="170.6" r="2.5"/><circle cx="983.4" cy="177.7" r="2.5"/><circle cx="983.4" cy="181.4" r="2.5"/><circle cx="983.4" cy="188.1" r="2.5"/><circle cx="983.4" cy="190.3" r="2.5"/><circle cx="983.4" cy="199.2" r="2.5"/><circle cx="983.4" cy="201.4" r="2.5"/><circle cx="983.4" cy="205.0" r="2.5"/><circle cx="983.4" cy="211.0" r="2.5"/><circle cx="983.4" cy="216.6" r="2.5"/><circle cx="983.4" cy="58.0" r="2.5"/><circle cx="983.4" cy="82.0" r="2.5"/><circle cx="983.4" cy="219.8" r="2.5"/><circle cx="983.4" cy="253.5" r="2.5"/><circle cx="1016.7" cy="91.9" r="2.5"/><circle cx="1016.7" cy="99.0" r="2.5"/><circle cx="1016.7" cy="102.9" r="2.5"/><circle cx="1016.7" cy="108.1" r="2.5"/><circle cx="1016.7" cy="113.5" r="2.5"/><circle cx="1016.7" cy="121.8" r="2.5"/><circle cx="1016.7" cy="128.5" r="2.5"/><circle cx="1016.7" cy="132.0" r="2.5"/><circle cx="1016.7" cy="136.1" r="2.5"/><circle cx="1016.7" cy="144.7" r="2.5"/><circle cx="1016.7" cy="147.6" r="2.5"/><circle cx="1016.7" cy="151.1" r="2.5"/><circle cx="1016.7" cy="154.9" r="2.5"/><circle cx="1016.7" cy="161.3" r="2.5"/><circle cx="1016.7" cy="165.5" r="2.5"/><circle cx="1016.7" cy="169.0" r="2.5"/><circle cx="1016.7" cy="172.5" r="2.5"/><circle cx="1016.7" cy="176.9" r="2.5"/><circle cx="1016.7" cy="179.8" r="2.5"/><circle cx="1016.7" cy="186.6" r="2.5"/><circle cx="1016.7" cy="72.0" r="2.5"/><circle cx="1016.7" cy="75.0" r="2.5"/><circle cx="1016.7" cy="190.8" r="2.5"/><circle cx="1016.7" cy="212.4" r="2.5"/><circle cx="1049.9" cy="128.2" r="2.5"/><circle cx="1049.9" cy="133.1" r="2.5"/><circle cx="1049.9" cy="136.5" r="2.5"/><circle cx="1049.9" cy="140.6" r="2.5"/><circle cx="1049.9" cy="146.6" r="2.5"/><circle cx="1049.9" cy="149.6" r="2.5"/><circle cx="1049.9" cy="157.6" r="2.5"/><circle cx="1049.9" cy="160.4" r="2.5"/><circle cx="1049.9" cy="167.4" r="2.5"/><circle cx="1049.9" cy="169.8" r="2.5"/><circle cx="1049.9" cy="175.1" r="2.5"/><circle cx="1049.9" cy="179.5" r="2.5"/><circle cx="1049.9" cy="185.7" r="2.5"/><circle cx="1049.9" cy="190.6" r="2.5"/><circle cx="1049.9" cy="195.8" r="2.5"/><circle cx="1049.9" cy="206.1" r="2.5"/><circle cx="1049.9" cy="209.9" r="2.5"/><circle cx="1049.9" cy="215.9" r="2.5"/><circle cx="1049.9" cy="222.5" r="2.5"/><circle cx="1049.9" cy="229.8" r="2.5"/><circle cx="1049.9" cy="235.7" r="2.5"/><circle cx="1049.9" cy="243.1" r="2.5"/><circle cx="1049.9" cy="249.5" r="2.5"/><circle cx="1049.9" cy="254.1" r="2.5"/><circle cx="1049.9" cy="64.0" r="2.5"/><circle cx="1049.9" cy="68.0" r="2.5"/><circle cx="1049.9" cy="75.5" r="2.5"/><circle cx="1049.9" cy="88.0" r="2.5"/><circle cx="1049.9" cy="106.0" r="2.5"/><circle cx="1049.9" cy="121.0" r="2.5"/><circle cx="1049.9" cy="276.8" r="2.5"/><circle cx="1049.9" cy="309.1" r="2.5"/><circle cx="1083.2" cy="147.1" r="2.5"/><circle cx="1083.2" cy="154.7" r="2.5"/><circle cx="1083.2" cy="159.4" r="2.5"/><circle cx="1083.2" cy="163.4" r="2.5"/><circle cx="1083.2" cy="165.2" r="2.5"/><circle cx="1083.2" cy="172.4" r="2.5"/><circle cx="1083.2" cy="176.1" r="2.5"/><circle cx="1083.2" cy="178.0" r="2.5"/><circle cx="1083.2" cy="182.5" r="2.5"/><circle cx="1083.2" cy="190.7" r="2.5"/><circle cx="1083.2" cy="193.9" r="2.5"/><circle cx="1083.2" cy="196.7" r="2.5"/><circle cx="1083.2" cy="200.6" r="2.5"/><circle cx="1083.2" cy="205.2" r="2.5"/><circle cx="1083.2" cy="210.0" r="2.5"/><circle cx="1083.2" cy="216.6" r="2.5"/><circle cx="1083.2" cy="219.6" r="2.5"/><circle cx="1083.2" cy="223.8" r="2.5"/><circle cx="1083.2" cy="232.4" r="2.5"/><circle cx="1083.2" cy="237.0" r="2.5"/><circle cx="1083.2" cy="239.3" r="2.5"/><circle cx="1083.2" cy="247.7" r="2.5"/><circle cx="1083.2" cy="251.6" r="2.5"/><circle cx="1083.2" cy="257.5" r="2.5"/><circle cx="1083.2" cy="262.1" r="2.5"/><circle cx="1083.2" cy="268.3" r="2.5"/><circle cx="1083.2" cy="272.9" r="2.5"/><circle cx="1083.2" cy="278.3" r="2.5"/><circle cx="1083.2" cy="280.4" r="2.5"/><circle cx="1083.2" cy="287.9" r="2.5"/><circle cx="1083.2" cy="292.2" r="2.5"/><circle cx="1083.2" cy="298.4" r="2.5"/><circle cx="1083.2" cy="97.4" r="2.5"/><circle cx="1083.2" cy="103.0" r="2.5"/><circle cx="1083.2" cy="108.0" r="2.5"/><circle cx="1083.2" cy="113.0" r="2.5"/><circle cx="1083.2" cy="120.0" r="2.5"/><circle cx="1083.2" cy="124.0" r="2.5"/><circle cx="1083.2" cy="128.0" r="2.5"/><circle cx="1083.2" cy="132.0" r="2.5"/><circle cx="1083.2" cy="136.0" r="2.5"/><circle cx="1083.2" cy="140.0" r="2.5"/><circle cx="1083.2" cy="306.3" r="2.5"/><circle cx="1083.2" cy="337.5" r="2.5"/><circle cx="1083.2" cy="357.3" r="2.5"/><circle cx="1116.5" cy="126.9" r="2.5"/><circle cx="1116.5" cy="131.0" r="2.5"/><circle cx="1116.5" cy="134.9" r="2.5"/><circle cx="1116.5" cy="140.5" r="2.5"/><circle cx="1116.5" cy="143.1" r="2.5"/><circle cx="1116.5" cy="148.9" r="2.5"/><circle cx="1116.5" cy="151.9" r="2.5"/><circle cx="1116.5" cy="157.5" r="2.5"/><circle cx="1116.5" cy="161.7" r="2.5"/><circle cx="1116.5" cy="166.1" r="2.5"/><circle cx="1116.5" cy="171.6" r="2.5"/><circle cx="1116.5" cy="172.6" r="2.5"/><circle cx="1116.5" cy="180.9" r="2.5"/><circle cx="1116.5" cy="184.4" r="2.5"/><circle cx="1116.5" cy="190.2" r="2.5"/><circle cx="1116.5" cy="196.0" r="2.5"/><circle cx="1116.5" cy="202.2" r="2.5"/><circle cx="1116.5" cy="205.2" r="2.5"/><circle cx="1116.5" cy="210.8" r="2.5"/><circle cx="1116.5" cy="218.7" r="2.5"/><circle cx="1116.5" cy="219.8" r="2.5"/><circle cx="1116.5" cy="227.8" r="2.5"/><circle cx="1116.5" cy="233.1" r="2.5"/><circle cx="1116.5" cy="235.5" r="2.5"/><circle cx="1116.5" cy="83.5" r="2.5"/><circle cx="1116.5" cy="91.8" r="2.5"/><circle cx="1116.5" cy="250.9" r="2.5"/><circle cx="1116.5" cy="280.9" r="2.5"/><circle cx="1149.7" cy="113.8" r="2.5"/><circle cx="1149.7" cy="116.1" r="2.5"/><circle cx="1149.7" cy="124.0" r="2.5"/><circle cx="1149.7" cy="126.9" r="2.5"/><circle cx="1149.7" cy="131.8" r="2.5"/><circle cx="1149.7" cy="138.6" r="2.5"/><circle cx="1149.7" cy="139.7" r="2.5"/><circle cx="1149.7" cy="147.8" r="2.5"/><circle cx="1149.7" cy="152.4" r="2.5"/><circle cx="1149.7" cy="156.1" r="2.5"/><circle cx="1149.7" cy="164.5" r="2.5"/><circle cx="1149.7" cy="167.9" r="2.5"/><circle cx="1149.7" cy="174.8" r="2.5"/><circle cx="1149.7" cy="181.3" r="2.5"/><circle cx="1149.7" cy="188.9" r="2.5"/><circle cx="1149.7" cy="192.0" r="2.5"/><circle cx="1149.7" cy="199.6" r="2.5"/><circle cx="1149.7" cy="205.7" r="2.5"/><circle cx="1149.7" cy="212.7" r="2.5"/><circle cx="1149.7" cy="220.5" r="2.5"/><circle cx="1149.7" cy="60.4" r="2.5"/><circle cx="1149.7" cy="78.0" r="2.5"/><circle cx="1149.7" cy="88.0" r="2.5"/><circle cx="1149.7" cy="226.7" r="2.5"/><circle cx="1149.7" cy="263.9" r="2.5"/><circle cx="1183.0" cy="125.9" r="2.5"/><circle cx="1183.0" cy="130.5" r="2.5"/><circle cx="1183.0" cy="133.8" r="2.5"/><circle cx="1183.0" cy="138.9" r="2.5"/><circle cx="1183.0" cy="144.9" r="2.5"/><circle cx="1183.0" cy="147.9" r="2.5"/><circle cx="1183.0" cy="152.6" r="2.5"/><circle cx="1183.0" cy="155.1" r="2.5"/><circle cx="1183.0" cy="159.2" r="2.5"/><circle cx="1183.0" cy="163.3" r="2.5"/><circle cx="1183.0" cy="168.6" r="2.5"/><circle cx="1183.0" cy="173.0" r="2.5"/><circle cx="1183.0" cy="177.6" r="2.5"/><circle cx="1183.0" cy="179.0" r="2.5"/><circle cx="1183.0" cy="185.4" r="2.5"/><circle cx="1183.0" cy="190.0" r="2.5"/><circle cx="1183.0" cy="192.8" r="2.5"/><circle cx="1183.0" cy="195.0" r="2.5"/><circle cx="1183.0" cy="199.9" r="2.5"/><circle cx="1183.0" cy="202.9" r="2.5"/><circle cx="1183.0" cy="207.6" r="2.5"/><circle cx="1183.0" cy="214.2" r="2.5"/><circle cx="1183.0" cy="217.1" r="2.5"/><circle cx="1183.0" cy="221.3" r="2.5"/><circle cx="1183.0" cy="110.0" r="2.5"/><circle cx="1183.0" cy="117.0" r="2.5"/><circle cx="1183.0" cy="232.9" r="2.5"/><circle cx="1183.0" cy="256.2" r="2.5"/><circle cx="1216.2" cy="102.7" r="2.5"/><circle cx="1216.2" cy="107.3" r="2.5"/><circle cx="1216.2" cy="111.9" r="2.5"/><circle cx="1216.2" cy="116.8" r="2.5"/><circle cx="1216.2" cy="120.9" r="2.5"/><circle cx="1216.2" cy="125.8" r="2.5"/><circle cx="1216.2" cy="128.4" r="2.5"/><circle cx="1216.2" cy="134.9" r="2.5"/><circle cx="1216.2" cy="138.6" r="2.5"/><circle cx="1216.2" cy="144.4" r="2.5"/><circle cx="1216.2" cy="146.2" r="2.5"/><circle cx="1216.2" cy="151.1" r="2.5"/><circle cx="1216.2" cy="155.1" r="2.5"/><circle cx="1216.2" cy="163.7" r="2.5"/><circle cx="1216.2" cy="169.4" r="2.5"/><circle cx="1216.2" cy="173.4" r="2.5"/><circle cx="1216.2" cy="177.2" r="2.5"/><circle cx="1216.2" cy="184.4" r="2.5"/><circle cx="1216.2" cy="189.4" r="2.5"/><circle cx="1216.2" cy="193.5" r="2.5"/><circle cx="1216.2" cy="197.2" r="2.5"/><circle cx="1216.2" cy="202.6" r="2.5"/><circle cx="1216.2" cy="208.2" r="2.5"/><circle cx="1216.2" cy="212.9" r="2.5"/><circle cx="1216.2" cy="223.5" r="2.5"/><circle cx="1216.2" cy="254.7" r="2.5"/><circle cx="1249.5" cy="181.4" r="2.5"/><circle cx="1249.5" cy="182.0" r="2.5"/><circle cx="1249.5" cy="186.3" r="2.5"/><circle cx="1249.5" cy="187.8" r="2.5"/><circle cx="1249.5" cy="190.9" r="2.5"/><circle cx="1249.5" cy="195.7" r="2.5"/><circle cx="1249.5" cy="198.0" r="2.5"/><circle cx="1249.5" cy="201.8" r="2.5"/><circle cx="1249.5" cy="203.5" r="2.5"/><circle cx="1249.5" cy="205.3" r="2.5"/><circle cx="1249.5" cy="209.2" r="2.5"/><circle cx="1249.5" cy="212.7" r="2.5"/><circle cx="1249.5" cy="216.6" r="2.5"/><circle cx="1249.5" cy="219.7" r="2.5"/><circle cx="1249.5" cy="221.3" r="2.5"/><circle cx="1249.5" cy="224.1" r="2.5"/><circle cx="1249.5" cy="226.2" r="2.5"/><circle cx="1249.5" cy="230.7" r="2.5"/><circle cx="1249.5" cy="232.5" r="2.5"/><circle cx="1249.5" cy="235.3" r="2.5"/><circle cx="1249.5" cy="151.0" r="2.5"/><circle cx="1249.5" cy="168.0" r="2.5"/><circle cx="1249.5" cy="237.8" r="2.5"/><circle cx="1249.5" cy="251.1" r="2.5"/><circle cx="1282.8" cy="104.7" r="2.5"/><circle cx="1282.8" cy="106.6" r="2.5"/><circle cx="1282.8" cy="113.7" r="2.5"/><circle cx="1282.8" cy="114.5" r="2.5"/><circle cx="1282.8" cy="121.3" r="2.5"/><circle cx="1282.8" cy="122.7" r="2.5"/><circle cx="1282.8" cy="126.3" r="2.5"/><circle cx="1282.8" cy="132.8" r="2.5"/><circle cx="1282.8" cy="135.1" r="2.5"/><circle cx="1282.8" cy="140.8" r="2.5"/><circle cx="1282.8" cy="142.9" r="2.5"/><circle cx="1282.8" cy="146.4" r="2.5"/><circle cx="1282.8" cy="153.0" r="2.5"/><circle cx="1282.8" cy="156.8" r="2.5"/><circle cx="1282.8" cy="162.0" r="2.5"/><circle cx="1282.8" cy="166.4" r="2.5"/><circle cx="1282.8" cy="168.5" r="2.5"/><circle cx="1282.8" cy="175.8" r="2.5"/><circle cx="1282.8" cy="181.1" r="2.5"/><circle cx="1282.8" cy="184.9" r="2.5"/><circle cx="1282.8" cy="192.0" r="2.5"/><circle cx="1282.8" cy="193.9" r="2.5"/><circle cx="1282.8" cy="202.0" r="2.5"/><circle cx="1282.8" cy="205.8" r="2.5"/><circle cx="1282.8" cy="207.6" r="2.5"/><circle cx="1282.8" cy="212.5" r="2.5"/><circle cx="1282.8" cy="220.3" r="2.5"/><circle cx="1282.8" cy="225.9" r="2.5"/><circle cx="1282.8" cy="228.5" r="2.5"/><circle cx="1282.8" cy="263.8" r="2.5"/><circle cx="1316.0" cy="116.6" r="2.5"/><circle cx="1316.0" cy="120.3" r="2.5"/><circle cx="1316.0" cy="132.3" r="2.5"/><circle cx="1316.0" cy="137.2" r="2.5"/><circle cx="1316.0" cy="141.7" r="2.5"/><circle cx="1316.0" cy="151.2" r="2.5"/><circle cx="1316.0" cy="159.9" r="2.5"/><circle cx="1316.0" cy="166.4" r="2.5"/><circle cx="1316.0" cy="175.4" r="2.5"/><circle cx="1316.0" cy="179.2" r="2.5"/><circle cx="1316.0" cy="189.5" r="2.5"/><circle cx="1316.0" cy="192.8" r="2.5"/><circle cx="1316.0" cy="199.7" r="2.5"/><circle cx="1316.0" cy="205.1" r="2.5"/><circle cx="1316.0" cy="209.5" r="2.5"/><circle cx="1316.0" cy="214.8" r="2.5"/><circle cx="1316.0" cy="222.3" r="2.5"/><circle cx="1316.0" cy="228.5" r="2.5"/><circle cx="1316.0" cy="233.2" r="2.5"/><circle cx="1316.0" cy="237.6" r="2.5"/><circle cx="1316.0" cy="244.3" r="2.5"/><circle cx="1316.0" cy="265.5" r="2.5"/></g>
<g fill="#4fc9ec"><circle cx="78.8" cy="174.7" r="2.5"/><circle cx="78.8" cy="177.3" r="2.5"/><circle cx="78.8" cy="181.1" r="2.5"/><circle cx="78.8" cy="183.0" r="2.5"/><circle cx="78.8" cy="187.2" r="2.5"/><circle cx="78.8" cy="191.8" r="2.5"/><circle cx="78.8" cy="194.8" r="2.5"/><circle cx="78.8" cy="197.5" r="2.5"/><circle cx="78.8" cy="200.0" r="2.5"/><circle cx="78.8" cy="203.8" r="2.5"/><circle cx="78.8" cy="208.6" r="2.5"/><circle cx="78.8" cy="210.5" r="2.5"/><circle cx="78.8" cy="214.8" r="2.5"/><circle cx="78.8" cy="218.0" r="2.5"/><circle cx="78.8" cy="222.9" r="2.5"/><circle cx="78.8" cy="226.7" r="2.5"/><circle cx="78.8" cy="228.9" r="2.5"/><circle cx="78.8" cy="232.0" r="2.5"/><circle cx="78.8" cy="237.1" r="2.5"/><circle cx="78.8" cy="241.9" r="2.5"/><circle cx="78.8" cy="246.6" r="2.5"/><circle cx="78.8" cy="251.6" r="2.5"/><circle cx="78.8" cy="256.0" r="2.5"/><circle cx="78.8" cy="257.0" r="2.5"/><circle cx="78.8" cy="264.1" r="2.5"/><circle cx="78.8" cy="268.1" r="2.5"/><circle cx="78.8" cy="272.5" r="2.5"/><circle cx="78.8" cy="275.5" r="2.5"/><circle cx="78.8" cy="43.0" r="2.5"/><circle cx="78.8" cy="281.6" r="2.5"/><circle cx="78.8" cy="316.7" r="2.5"/><circle cx="112.0" cy="194.7" r="2.5"/><circle cx="112.0" cy="200.1" r="2.5"/><circle cx="112.0" cy="207.4" r="2.5"/><circle cx="112.0" cy="210.3" r="2.5"/><circle cx="112.0" cy="215.0" r="2.5"/><circle cx="112.0" cy="223.6" r="2.5"/><circle cx="112.0" cy="230.9" r="2.5"/><circle cx="112.0" cy="233.7" r="2.5"/><circle cx="112.0" cy="242.8" r="2.5"/><circle cx="112.0" cy="249.8" r="2.5"/><circle cx="112.0" cy="252.3" r="2.5"/><circle cx="112.0" cy="261.8" r="2.5"/><circle cx="112.0" cy="269.3" r="2.5"/><circle cx="112.0" cy="275.0" r="2.5"/><circle cx="112.0" cy="280.4" r="2.5"/><circle cx="112.0" cy="287.7" r="2.5"/><circle cx="112.0" cy="297.9" r="2.5"/><circle cx="112.0" cy="305.2" r="2.5"/><circle cx="112.0" cy="310.2" r="2.5"/><circle cx="112.0" cy="314.9" r="2.5"/><circle cx="112.0" cy="134.8" r="2.5"/><circle cx="112.0" cy="151.0" r="2.5"/><circle cx="112.0" cy="157.0" r="2.5"/><circle cx="112.0" cy="176.0" r="2.5"/><circle cx="112.0" cy="336.4" r="2.5"/><circle cx="112.0" cy="367.4" r="2.5"/><circle cx="145.3" cy="207.9" r="2.5"/><circle cx="145.3" cy="222.7" r="2.5"/><circle cx="145.3" cy="237.1" r="2.5"/><circle cx="145.3" cy="248.2" r="2.5"/><circle cx="145.3" cy="255.8" r="2.5"/><circle cx="145.3" cy="266.5" r="2.5"/><circle cx="145.3" cy="279.9" r="2.5"/><circle cx="145.3" cy="288.1" r="2.5"/><circle cx="145.3" cy="301.1" r="2.5"/><circle cx="145.3" cy="313.8" r="2.5"/><circle cx="145.3" cy="332.8" r="2.5"/><circle cx="145.3" cy="341.8" r="2.5"/><circle cx="145.3" cy="186.7" r="2.5"/><circle cx="145.3" cy="373.4" r="2.5"/><circle cx="178.5" cy="179.0" r="2.5"/><circle cx="178.5" cy="191.2" r="2.5"/><circle cx="178.5" cy="198.5" r="2.5"/><circle cx="178.5" cy="208.5" r="2.5"/><circle cx="178.5" cy="228.9" r="2.5"/><circle cx="178.5" cy="233.8" r="2.5"/><circle cx="178.5" cy="242.3" r="2.5"/><circle cx="178.5" cy="261.0" r="2.5"/><circle cx="178.5" cy="275.4" r="2.5"/><circle cx="178.5" cy="280.9" r="2.5"/><circle cx="178.5" cy="298.6" r="2.5"/><circle cx="178.5" cy="308.4" r="2.5"/><circle cx="178.5" cy="144.0" r="2.5"/><circle cx="178.5" cy="152.0" r="2.5"/><circle cx="178.5" cy="161.4" r="2.5"/><circle cx="178.5" cy="337.8" r="2.5"/><circle cx="211.8" cy="203.2" r="2.5"/><circle cx="211.8" cy="206.6" r="2.5"/><circle cx="211.8" cy="212.8" r="2.5"/><circle cx="211.8" cy="221.8" r="2.5"/><circle cx="211.8" cy="228.9" r="2.5"/><circle cx="211.8" cy="240.3" r="2.5"/><circle cx="211.8" cy="249.5" r="2.5"/><circle cx="245.1" cy="168.7" r="2.5"/><circle cx="245.1" cy="171.1" r="2.5"/><circle cx="245.1" cy="176.4" r="2.5"/><circle cx="245.1" cy="179.4" r="2.5"/><circle cx="245.1" cy="183.2" r="2.5"/><circle cx="245.1" cy="187.3" r="2.5"/><circle cx="245.1" cy="188.6" r="2.5"/><circle cx="245.1" cy="191.5" r="2.5"/><circle cx="245.1" cy="195.6" r="2.5"/><circle cx="245.1" cy="199.1" r="2.5"/><circle cx="245.1" cy="202.4" r="2.5"/><circle cx="245.1" cy="205.9" r="2.5"/><circle cx="245.1" cy="211.1" r="2.5"/><circle cx="245.1" cy="215.7" r="2.5"/><circle cx="245.1" cy="218.6" r="2.5"/><circle cx="245.1" cy="225.6" r="2.5"/><circle cx="245.1" cy="230.3" r="2.5"/><circle cx="245.1" cy="231.5" r="2.5"/><circle cx="245.1" cy="238.7" r="2.5"/><circle cx="245.1" cy="242.7" r="2.5"/><circle cx="245.1" cy="246.3" r="2.5"/><circle cx="245.1" cy="254.9" r="2.5"/><circle cx="245.1" cy="256.7" r="2.5"/><circle cx="245.1" cy="262.9" r="2.5"/><circle cx="245.1" cy="268.1" r="2.5"/><circle cx="245.1" cy="274.4" r="2.5"/><circle cx="245.1" cy="278.0" r="2.5"/><circle cx="245.1" cy="281.7" r="2.5"/><circle cx="245.1" cy="93.4" r="2.5"/><circle cx="245.1" cy="119.0" r="2.5"/><circle cx="245.1" cy="123.5" r="2.5"/><circle cx="245.1" cy="138.2" r="2.5"/><circle cx="245.1" cy="292.9" r="2.5"/><circle cx="245.1" cy="318.3" r="2.5"/><circle cx="278.3" cy="225.3" r="2.5"/><circle cx="278.3" cy="230.1" r="2.5"/><circle cx="278.3" cy="231.5" r="2.5"/><circle cx="278.3" cy="235.4" r="2.5"/><circle cx="278.3" cy="241.0" r="2.5"/><circle cx="278.3" cy="246.0" r="2.5"/><circle cx="278.3" cy="253.0" r="2.5"/><circle cx="278.3" cy="257.7" r="2.5"/><circle cx="278.3" cy="262.1" r="2.5"/><circle cx="278.3" cy="263.4" r="2.5"/><circle cx="278.3" cy="271.2" r="2.5"/><circle cx="278.3" cy="275.5" r="2.5"/><circle cx="278.3" cy="280.5" r="2.5"/><circle cx="278.3" cy="287.7" r="2.5"/><circle cx="278.3" cy="288.6" r="2.5"/><circle cx="278.3" cy="294.5" r="2.5"/><circle cx="278.3" cy="303.0" r="2.5"/><circle cx="278.3" cy="309.4" r="2.5"/><circle cx="278.3" cy="313.6" r="2.5"/><circle cx="278.3" cy="317.3" r="2.5"/><circle cx="278.3" cy="324.2" r="2.5"/><circle cx="278.3" cy="330.5" r="2.5"/><circle cx="278.3" cy="332.8" r="2.5"/><circle cx="278.3" cy="339.4" r="2.5"/><circle cx="278.3" cy="148.5" r="2.5"/><circle cx="278.3" cy="161.0" r="2.5"/><circle cx="278.3" cy="173.0" r="2.5"/><circle cx="278.3" cy="202.0" r="2.5"/><circle cx="278.3" cy="347.6" r="2.5"/><circle cx="278.3" cy="374.9" r="2.5"/><circle cx="311.6" cy="170.6" r="2.5"/><circle cx="311.6" cy="174.5" r="2.5"/><circle cx="311.6" cy="180.2" r="2.5"/><circle cx="311.6" cy="185.1" r="2.5"/><circle cx="311.6" cy="193.1" r="2.5"/><circle cx="311.6" cy="195.2" r="2.5"/><circle cx="311.6" cy="204.0" r="2.5"/><circle cx="311.6" cy="206.9" r="2.5"/><circle cx="311.6" cy="211.5" r="2.5"/><circle cx="311.6" cy="221.2" r="2.5"/><circle cx="311.6" cy="223.4" r="2.5"/><circle cx="311.6" cy="233.9" r="2.5"/><circle cx="311.6" cy="239.9" r="2.5"/><circle cx="311.6" cy="246.4" r="2.5"/><circle cx="311.6" cy="248.4" r="2.5"/><circle cx="311.6" cy="256.6" r="2.5"/><circle cx="311.6" cy="261.0" r="2.5"/><circle cx="311.6" cy="272.1" r="2.5"/><circle cx="311.6" cy="278.0" r="2.5"/><circle cx="311.6" cy="283.1" r="2.5"/><circle cx="311.6" cy="131.0" r="2.5"/><circle cx="311.6" cy="134.0" r="2.5"/><circle cx="311.6" cy="137.0" r="2.5"/><circle cx="311.6" cy="293.4" r="2.5"/><circle cx="311.6" cy="320.2" r="2.5"/><circle cx="344.8" cy="189.8" r="2.5"/><circle cx="344.8" cy="197.4" r="2.5"/><circle cx="344.8" cy="209.9" r="2.5"/><circle cx="344.8" cy="216.2" r="2.5"/><circle cx="344.8" cy="228.0" r="2.5"/><circle cx="344.8" cy="237.5" r="2.5"/><circle cx="344.8" cy="256.2" r="2.5"/><circle cx="344.8" cy="267.1" r="2.5"/><circle cx="344.8" cy="275.2" r="2.5"/><circle cx="344.8" cy="296.2" r="2.5"/><circle cx="344.8" cy="302.0" r="2.5"/><circle cx="344.8" cy="316.4" r="2.5"/><circle cx="344.8" cy="141.4" r="2.5"/><circle cx="344.8" cy="169.0" r="2.5"/><circle cx="344.8" cy="330.2" r="2.5"/><circle cx="378.1" cy="185.2" r="2.5"/><circle cx="378.1" cy="191.3" r="2.5"/><circle cx="378.1" cy="193.5" r="2.5"/><circle cx="378.1" cy="196.9" r="2.5"/><circle cx="378.1" cy="202.1" r="2.5"/><circle cx="378.1" cy="205.5" r="2.5"/><circle cx="378.1" cy="211.6" r="2.5"/><circle cx="378.1" cy="212.8" r="2.5"/><circle cx="378.1" cy="219.9" r="2.5"/><circle cx="378.1" cy="220.6" r="2.5"/><circle cx="378.1" cy="227.7" r="2.5"/><circle cx="378.1" cy="230.9" r="2.5"/><circle cx="378.1" cy="233.5" r="2.5"/><circle cx="378.1" cy="239.5" r="2.5"/><circle cx="378.1" cy="243.5" r="2.5"/><circle cx="378.1" cy="248.2" r="2.5"/><circle cx="378.1" cy="252.9" r="2.5"/><circle cx="378.1" cy="258.4" r="2.5"/><circle cx="378.1" cy="266.0" r="2.5"/><circle cx="378.1" cy="270.9" r="2.5"/><circle cx="378.1" cy="275.5" r="2.5"/><circle cx="378.1" cy="276.7" r="2.5"/><circle cx="378.1" cy="282.4" r="2.5"/><circle cx="378.1" cy="289.9" r="2.5"/><circle cx="378.1" cy="137.7" r="2.5"/><circle cx="378.1" cy="150.5" r="2.5"/><circle cx="378.1" cy="158.0" r="2.5"/><circle cx="378.1" cy="165.0" r="2.5"/><circle cx="378.1" cy="173.0" r="2.5"/><circle cx="378.1" cy="291.5" r="2.5"/><circle cx="378.1" cy="328.3" r="2.5"/><circle cx="411.4" cy="225.3" r="2.5"/><circle cx="411.4" cy="231.8" r="2.5"/><circle cx="411.4" cy="232.3" r="2.5"/><circle cx="411.4" cy="239.2" r="2.5"/><circle cx="411.4" cy="241.6" r="2.5"/><circle cx="411.4" cy="244.9" r="2.5"/><circle cx="411.4" cy="248.4" r="2.5"/><circle cx="411.4" cy="255.5" r="2.5"/><circle cx="411.4" cy="258.4" r="2.5"/><circle cx="411.4" cy="261.2" r="2.5"/><circle cx="411.4" cy="266.1" r="2.5"/><circle cx="411.4" cy="271.9" r="2.5"/><circle cx="411.4" cy="273.8" r="2.5"/><circle cx="411.4" cy="281.1" r="2.5"/><circle cx="411.4" cy="284.4" r="2.5"/><circle cx="411.4" cy="290.2" r="2.5"/><circle cx="411.4" cy="298.6" r="2.5"/><circle cx="411.4" cy="303.9" r="2.5"/><circle cx="411.4" cy="306.9" r="2.5"/><circle cx="411.4" cy="311.8" r="2.5"/><circle cx="411.4" cy="317.4" r="2.5"/><circle cx="411.4" cy="325.5" r="2.5"/><circle cx="411.4" cy="330.5" r="2.5"/><circle cx="411.4" cy="334.9" r="2.5"/><circle cx="411.4" cy="126.3" r="2.5"/><circle cx="411.4" cy="158.0" r="2.5"/><circle cx="411.4" cy="342.5" r="2.5"/><circle cx="411.4" cy="379.7" r="2.5"/><circle cx="444.6" cy="228.7" r="2.5"/><circle cx="444.6" cy="233.0" r="2.5"/><circle cx="444.6" cy="236.1" r="2.5"/><circle cx="444.6" cy="238.6" r="2.5"/><circle cx="444.6" cy="242.1" r="2.5"/><circle cx="444.6" cy="248.3" r="2.5"/><circle cx="444.6" cy="251.1" r="2.5"/><circle cx="444.6" cy="256.1" r="2.5"/><circle cx="444.6" cy="257.7" r="2.5"/><circle cx="444.6" cy="264.2" r="2.5"/><circle cx="444.6" cy="267.2" r="2.5"/><circle cx="444.6" cy="276.1" r="2.5"/><circle cx="444.6" cy="282.2" r="2.5"/><circle cx="444.6" cy="286.3" r="2.5"/><circle cx="444.6" cy="289.7" r="2.5"/><circle cx="444.6" cy="300.7" r="2.5"/><circle cx="444.6" cy="304.4" r="2.5"/><circle cx="444.6" cy="312.6" r="2.5"/><circle cx="444.6" cy="315.3" r="2.5"/><circle cx="444.6" cy="321.0" r="2.5"/><circle cx="444.6" cy="166.0" r="2.5"/><circle cx="444.6" cy="184.7" r="2.5"/><circle cx="444.6" cy="197.6" r="2.5"/><circle cx="444.6" cy="339.3" r="2.5"/><circle cx="444.6" cy="359.0" r="2.5"/><circle cx="477.9" cy="189.3" r="2.5"/><circle cx="477.9" cy="197.2" r="2.5"/><circle cx="477.9" cy="205.1" r="2.5"/><circle cx="477.9" cy="208.2" r="2.5"/><circle cx="477.9" cy="217.9" r="2.5"/><circle cx="477.9" cy="224.1" r="2.5"/><circle cx="477.9" cy="231.1" r="2.5"/><circle cx="477.9" cy="235.4" r="2.5"/><circle cx="477.9" cy="245.5" r="2.5"/><circle cx="477.9" cy="252.8" r="2.5"/><circle cx="477.9" cy="260.0" r="2.5"/><circle cx="477.9" cy="263.6" r="2.5"/><circle cx="477.9" cy="273.1" r="2.5"/><circle cx="477.9" cy="278.0" r="2.5"/><circle cx="477.9" cy="287.4" r="2.5"/><circle cx="477.9" cy="290.0" r="2.5"/><circle cx="477.9" cy="302.2" r="2.5"/><circle cx="477.9" cy="309.7" r="2.5"/><circle cx="477.9" cy="313.8" r="2.5"/><circle cx="477.9" cy="321.0" r="2.5"/><circle cx="477.9" cy="48.5" r="2.5"/><circle cx="477.9" cy="93.5" r="2.5"/><circle cx="477.9" cy="117.0" r="2.5"/><circle cx="477.9" cy="120.4" r="2.5"/><circle cx="477.9" cy="334.5" r="2.5"/><circle cx="477.9" cy="366.2" r="2.5"/><circle cx="511.1" cy="185.2" r="2.5"/><circle cx="511.1" cy="189.9" r="2.5"/><circle cx="511.1" cy="190.7" r="2.5"/><circle cx="511.1" cy="193.2" r="2.5"/><circle cx="511.1" cy="195.5" r="2.5"/><circle cx="511.1" cy="198.4" r="2.5"/><circle cx="511.1" cy="202.2" r="2.5"/><circle cx="511.1" cy="203.0" r="2.5"/><circle cx="511.1" cy="205.7" r="2.5"/><circle cx="511.1" cy="209.6" r="2.5"/><circle cx="511.1" cy="211.0" r="2.5"/><circle cx="511.1" cy="213.1" r="2.5"/><circle cx="511.1" cy="217.0" r="2.5"/><circle cx="511.1" cy="219.5" r="2.5"/><circle cx="511.1" cy="221.9" r="2.5"/><circle cx="511.1" cy="224.9" r="2.5"/><circle cx="511.1" cy="226.0" r="2.5"/><circle cx="511.1" cy="230.3" r="2.5"/><circle cx="511.1" cy="232.5" r="2.5"/><circle cx="511.1" cy="233.5" r="2.5"/><circle cx="511.1" cy="236.2" r="2.5"/><circle cx="511.1" cy="239.6" r="2.5"/><circle cx="511.1" cy="242.2" r="2.5"/><circle cx="511.1" cy="244.2" r="2.5"/><circle cx="511.1" cy="246.5" r="2.5"/><circle cx="511.1" cy="250.2" r="2.5"/><circle cx="511.1" cy="252.4" r="2.5"/><circle cx="511.1" cy="256.6" r="2.5"/><circle cx="511.1" cy="260.3" r="2.5"/><circle cx="511.1" cy="261.3" r="2.5"/><circle cx="511.1" cy="265.4" r="2.5"/><circle cx="511.1" cy="268.8" r="2.5"/><circle cx="511.1" cy="270.3" r="2.5"/><circle cx="511.1" cy="275.0" r="2.5"/><circle cx="511.1" cy="278.2" r="2.5"/><circle cx="511.1" cy="279.7" r="2.5"/><circle cx="511.1" cy="282.8" r="2.5"/><circle cx="511.1" cy="286.8" r="2.5"/><circle cx="511.1" cy="289.0" r="2.5"/><circle cx="511.1" cy="291.6" r="2.5"/><circle cx="511.1" cy="296.0" r="2.5"/><circle cx="511.1" cy="298.5" r="2.5"/><circle cx="511.1" cy="300.3" r="2.5"/><circle cx="511.1" cy="303.0" r="2.5"/><circle cx="511.1" cy="306.2" r="2.5"/><circle cx="511.1" cy="309.4" r="2.5"/><circle cx="511.1" cy="313.8" r="2.5"/><circle cx="511.1" cy="316.3" r="2.5"/><circle cx="511.1" cy="83.0" r="2.5"/><circle cx="511.1" cy="114.0" r="2.5"/><circle cx="511.1" cy="125.0" r="2.5"/><circle cx="511.1" cy="135.0" r="2.5"/><circle cx="511.1" cy="145.0" r="2.5"/><circle cx="511.1" cy="155.0" r="2.5"/><circle cx="511.1" cy="165.0" r="2.5"/><circle cx="511.1" cy="175.0" r="2.5"/><circle cx="511.1" cy="325.7" r="2.5"/><circle cx="511.1" cy="340.8" r="2.5"/><circle cx="511.1" cy="357.1" r="2.5"/><circle cx="511.1" cy="365.4" r="2.5"/><circle cx="544.4" cy="202.9" r="2.5"/><circle cx="544.4" cy="210.8" r="2.5"/><circle cx="544.4" cy="216.3" r="2.5"/><circle cx="544.4" cy="218.4" r="2.5"/><circle cx="544.4" cy="224.9" r="2.5"/><circle cx="544.4" cy="231.6" r="2.5"/><circle cx="544.4" cy="235.9" r="2.5"/><circle cx="544.4" cy="242.3" r="2.5"/><circle cx="544.4" cy="245.8" r="2.5"/><circle cx="544.4" cy="254.9" r="2.5"/><circle cx="544.4" cy="262.2" r="2.5"/><circle cx="544.4" cy="266.1" r="2.5"/><circle cx="544.4" cy="273.7" r="2.5"/><circle cx="544.4" cy="285.7" r="2.5"/><circle cx="544.4" cy="291.4" r="2.5"/><circle cx="544.4" cy="299.3" r="2.5"/><circle cx="544.4" cy="158.0" r="2.5"/><circle cx="544.4" cy="163.0" r="2.5"/><circle cx="544.4" cy="170.0" r="2.5"/><circle cx="544.4" cy="318.8" r="2.5"/><circle cx="577.7" cy="211.8" r="2.5"/><circle cx="577.7" cy="223.9" r="2.5"/><circle cx="577.7" cy="235.3" r="2.5"/><circle cx="577.7" cy="237.9" r="2.5"/><circle cx="577.7" cy="255.4" r="2.5"/><circle cx="577.7" cy="262.9" r="2.5"/><circle cx="577.7" cy="279.6" r="2.5"/><circle cx="577.7" cy="287.8" r="2.5"/><circle cx="577.7" cy="304.0" r="2.5"/><circle cx="577.7" cy="321.5" r="2.5"/><circle cx="577.7" cy="330.9" r="2.5"/><circle cx="577.7" cy="339.6" r="2.5"/><circle cx="577.7" cy="370.9" r="2.5"/><circle cx="610.9" cy="196.3" r="2.5"/><circle cx="610.9" cy="200.5" r="2.5"/><circle cx="610.9" cy="201.7" r="2.5"/><circle cx="610.9" cy="204.6" r="2.5"/><circle cx="610.9" cy="208.4" r="2.5"/><circle cx="610.9" cy="209.9" r="2.5"/><circle cx="610.9" cy="214.0" r="2.5"/><circle cx="610.9" cy="217.9" r="2.5"/><circle cx="610.9" cy="219.6" r="2.5"/><circle cx="610.9" cy="221.8" r="2.5"/><circle cx="610.9" cy="225.2" r="2.5"/><circle cx="610.9" cy="228.3" r="2.5"/><circle cx="610.9" cy="230.2" r="2.5"/><circle cx="610.9" cy="233.0" r="2.5"/><circle cx="610.9" cy="235.9" r="2.5"/><circle cx="610.9" cy="239.2" r="2.5"/><circle cx="610.9" cy="242.4" r="2.5"/><circle cx="610.9" cy="245.0" r="2.5"/><circle cx="610.9" cy="247.9" r="2.5"/><circle cx="610.9" cy="250.9" r="2.5"/><circle cx="610.9" cy="255.8" r="2.5"/><circle cx="610.9" cy="260.1" r="2.5"/><circle cx="610.9" cy="262.8" r="2.5"/><circle cx="610.9" cy="266.2" r="2.5"/><circle cx="610.9" cy="269.9" r="2.5"/><circle cx="610.9" cy="271.9" r="2.5"/><circle cx="610.9" cy="276.9" r="2.5"/><circle cx="610.9" cy="279.6" r="2.5"/><circle cx="610.9" cy="283.3" r="2.5"/><circle cx="610.9" cy="287.0" r="2.5"/><circle cx="610.9" cy="290.0" r="2.5"/><circle cx="610.9" cy="292.9" r="2.5"/><circle cx="610.9" cy="296.1" r="2.5"/><circle cx="610.9" cy="299.5" r="2.5"/><circle cx="610.9" cy="303.9" r="2.5"/><circle cx="610.9" cy="306.9" r="2.5"/><circle cx="610.9" cy="131.0" r="2.5"/><circle cx="610.9" cy="140.0" r="2.5"/><circle cx="610.9" cy="150.0" r="2.5"/><circle cx="610.9" cy="160.0" r="2.5"/><circle cx="610.9" cy="170.0" r="2.5"/><circle cx="610.9" cy="180.0" r="2.5"/><circle cx="610.9" cy="315.5" r="2.5"/><circle cx="610.9" cy="327.7" r="2.5"/><circle cx="610.9" cy="350.1" r="2.5"/><circle cx="644.2" cy="194.3" r="2.5"/><circle cx="644.2" cy="196.5" r="2.5"/><circle cx="644.2" cy="203.2" r="2.5"/><circle cx="644.2" cy="208.0" r="2.5"/><circle cx="644.2" cy="212.2" r="2.5"/><circle cx="644.2" cy="220.7" r="2.5"/><circle cx="644.2" cy="222.6" r="2.5"/><circle cx="644.2" cy="230.0" r="2.5"/><circle cx="644.2" cy="232.3" r="2.5"/><circle cx="644.2" cy="237.1" r="2.5"/><circle cx="644.2" cy="246.0" r="2.5"/><circle cx="644.2" cy="249.1" r="2.5"/><circle cx="644.2" cy="252.6" r="2.5"/><circle cx="644.2" cy="260.4" r="2.5"/><circle cx="644.2" cy="266.7" r="2.5"/><circle cx="644.2" cy="274.3" r="2.5"/><circle cx="644.2" cy="276.9" r="2.5"/><circle cx="644.2" cy="283.5" r="2.5"/><circle cx="644.2" cy="293.5" r="2.5"/><circle cx="644.2" cy="298.3" r="2.5"/><circle cx="644.2" cy="301.1" r="2.5"/><circle cx="644.2" cy="308.1" r="2.5"/><circle cx="644.2" cy="314.2" r="2.5"/><circle cx="644.2" cy="321.9" r="2.5"/><circle cx="644.2" cy="143.0" r="2.5"/><circle cx="644.2" cy="150.0" r="2.5"/><circle cx="644.2" cy="157.0" r="2.5"/><circle cx="644.2" cy="165.0" r="2.5"/><circle cx="644.2" cy="172.0" r="2.5"/><circle cx="644.2" cy="179.0" r="2.5"/><circle cx="644.2" cy="336.0" r="2.5"/><circle cx="644.2" cy="372.9" r="2.5"/><circle cx="677.4" cy="169.1" r="2.5"/><circle cx="677.4" cy="173.9" r="2.5"/><circle cx="677.4" cy="181.6" r="2.5"/><circle cx="677.4" cy="188.2" r="2.5"/><circle cx="677.4" cy="194.8" r="2.5"/><circle cx="677.4" cy="199.6" r="2.5"/><circle cx="677.4" cy="207.9" r="2.5"/><circle cx="677.4" cy="214.0" r="2.5"/><circle cx="677.4" cy="221.7" r="2.5"/><circle cx="677.4" cy="223.6" r="2.5"/><circle cx="677.4" cy="235.3" r="2.5"/><circle cx="677.4" cy="236.9" r="2.5"/><circle cx="677.4" cy="249.5" r="2.5"/><circle cx="677.4" cy="255.8" r="2.5"/><circle cx="677.4" cy="262.7" r="2.5"/><circle cx="677.4" cy="273.4" r="2.5"/><circle cx="677.4" cy="278.2" r="2.5"/><circle cx="677.4" cy="284.7" r="2.5"/><circle cx="677.4" cy="294.7" r="2.5"/><circle cx="677.4" cy="302.8" r="2.5"/><circle cx="677.4" cy="84.5" r="2.5"/><circle cx="677.4" cy="125.0" r="2.5"/><circle cx="677.4" cy="147.0" r="2.5"/><circle cx="677.4" cy="155.0" r="2.5"/><circle cx="677.4" cy="316.3" r="2.5"/><circle cx="677.4" cy="345.4" r="2.5"/><circle cx="710.7" cy="153.4" r="2.5"/><circle cx="710.7" cy="158.6" r="2.5"/><circle cx="710.7" cy="165.0" r="2.5"/><circle cx="710.7" cy="168.2" r="2.5"/><circle cx="710.7" cy="173.9" r="2.5"/><circle cx="710.7" cy="179.9" r="2.5"/><circle cx="710.7" cy="184.3" r="2.5"/><circle cx="710.7" cy="189.2" r="2.5"/><circle cx="710.7" cy="196.5" r="2.5"/><circle cx="710.7" cy="202.0" r="2.5"/><circle cx="710.7" cy="206.1" r="2.5"/><circle cx="710.7" cy="212.0" r="2.5"/><circle cx="710.7" cy="216.7" r="2.5"/><circle cx="710.7" cy="223.6" r="2.5"/><circle cx="710.7" cy="228.9" r="2.5"/><circle cx="710.7" cy="237.5" r="2.5"/><circle cx="710.7" cy="243.8" r="2.5"/><circle cx="710.7" cy="247.2" r="2.5"/><circle cx="710.7" cy="258.0" r="2.5"/><circle cx="710.7" cy="260.9" r="2.5"/><circle cx="710.7" cy="279.1" r="2.5"/><circle cx="710.7" cy="306.9" r="2.5"/><circle cx="744.0" cy="198.2" r="2.5"/><circle cx="744.0" cy="200.1" r="2.5"/><circle cx="744.0" cy="207.0" r="2.5"/><circle cx="744.0" cy="215.2" r="2.5"/><circle cx="744.0" cy="216.3" r="2.5"/><circle cx="744.0" cy="222.3" r="2.5"/><circle cx="744.0" cy="230.7" r="2.5"/><circle cx="744.0" cy="236.1" r="2.5"/><circle cx="744.0" cy="244.1" r="2.5"/><circle cx="744.0" cy="249.0" r="2.5"/><circle cx="744.0" cy="254.1" r="2.5"/><circle cx="744.0" cy="263.7" r="2.5"/><circle cx="744.0" cy="267.5" r="2.5"/><circle cx="744.0" cy="274.2" r="2.5"/><circle cx="744.0" cy="282.0" r="2.5"/><circle cx="744.0" cy="287.0" r="2.5"/><circle cx="744.0" cy="293.5" r="2.5"/><circle cx="744.0" cy="301.7" r="2.5"/><circle cx="744.0" cy="307.0" r="2.5"/><circle cx="744.0" cy="317.3" r="2.5"/><circle cx="744.0" cy="73.4" r="2.5"/><circle cx="744.0" cy="117.4" r="2.5"/><circle cx="744.0" cy="148.0" r="2.5"/><circle cx="744.0" cy="158.0" r="2.5"/><circle cx="744.0" cy="168.0" r="2.5"/><circle cx="744.0" cy="178.0" r="2.5"/><circle cx="744.0" cy="330.3" r="2.5"/><circle cx="744.0" cy="357.9" r="2.5"/><circle cx="777.2" cy="164.9" r="2.5"/><circle cx="777.2" cy="170.0" r="2.5"/><circle cx="777.2" cy="174.3" r="2.5"/><circle cx="777.2" cy="179.0" r="2.5"/><circle cx="777.2" cy="183.2" r="2.5"/><circle cx="777.2" cy="188.5" r="2.5"/><circle cx="777.2" cy="193.0" r="2.5"/><circle cx="777.2" cy="195.3" r="2.5"/><circle cx="777.2" cy="199.3" r="2.5"/><circle cx="777.2" cy="204.1" r="2.5"/><circle cx="777.2" cy="209.6" r="2.5"/><circle cx="777.2" cy="211.3" r="2.5"/><circle cx="777.2" cy="216.6" r="2.5"/><circle cx="777.2" cy="222.8" r="2.5"/><circle cx="777.2" cy="224.8" r="2.5"/><circle cx="777.2" cy="230.4" r="2.5"/><circle cx="777.2" cy="238.2" r="2.5"/><circle cx="777.2" cy="242.5" r="2.5"/><circle cx="777.2" cy="246.0" r="2.5"/><circle cx="777.2" cy="249.2" r="2.5"/><circle cx="777.2" cy="257.5" r="2.5"/><circle cx="777.2" cy="261.5" r="2.5"/><circle cx="777.2" cy="267.0" r="2.5"/><circle cx="777.2" cy="272.7" r="2.5"/><circle cx="777.2" cy="102.5" r="2.5"/><circle cx="777.2" cy="122.0" r="2.5"/><circle cx="777.2" cy="130.0" r="2.5"/><circle cx="777.2" cy="140.0" r="2.5"/><circle cx="777.2" cy="150.0" r="2.5"/><circle cx="777.2" cy="160.0" r="2.5"/><circle cx="777.2" cy="287.1" r="2.5"/><circle cx="777.2" cy="306.3" r="2.5"/><circle cx="810.5" cy="232.7" r="2.5"/><circle cx="810.5" cy="236.8" r="2.5"/><circle cx="810.5" cy="241.3" r="2.5"/><circle cx="810.5" cy="244.9" r="2.5"/><circle cx="810.5" cy="247.6" r="2.5"/><circle cx="810.5" cy="251.3" r="2.5"/><circle cx="810.5" cy="256.4" r="2.5"/><circle cx="810.5" cy="260.0" r="2.5"/><circle cx="810.5" cy="262.9" r="2.5"/><circle cx="810.5" cy="268.7" r="2.5"/><circle cx="810.5" cy="271.2" r="2.5"/><circle cx="810.5" cy="272.9" r="2.5"/><circle cx="810.5" cy="277.9" r="2.5"/><circle cx="810.5" cy="282.8" r="2.5"/><circle cx="810.5" cy="285.7" r="2.5"/><circle cx="810.5" cy="294.1" r="2.5"/><circle cx="810.5" cy="296.4" r="2.5"/><circle cx="810.5" cy="304.3" r="2.5"/><circle cx="810.5" cy="313.5" r="2.5"/><circle cx="810.5" cy="318.3" r="2.5"/><circle cx="810.5" cy="325.0" r="2.5"/><circle cx="810.5" cy="328.6" r="2.5"/><circle cx="810.5" cy="336.4" r="2.5"/><circle cx="810.5" cy="343.0" r="2.5"/><circle cx="810.5" cy="347.6" r="2.5"/><circle cx="810.5" cy="355.9" r="2.5"/><circle cx="810.5" cy="361.5" r="2.5"/><circle cx="810.5" cy="370.3" r="2.5"/><circle cx="810.5" cy="132.4" r="2.5"/><circle cx="810.5" cy="170.0" r="2.5"/><circle cx="810.5" cy="384.1" r="2.5"/><circle cx="810.5" cy="419.4" r="2.5"/><circle cx="843.7" cy="213.0" r="2.5"/><circle cx="843.7" cy="216.9" r="2.5"/><circle cx="843.7" cy="222.7" r="2.5"/><circle cx="843.7" cy="224.2" r="2.5"/><circle cx="843.7" cy="227.9" r="2.5"/><circle cx="843.7" cy="231.9" r="2.5"/><circle cx="843.7" cy="236.9" r="2.5"/><circle cx="843.7" cy="241.6" r="2.5"/><circle cx="843.7" cy="244.7" r="2.5"/><circle cx="843.7" cy="249.1" r="2.5"/><circle cx="843.7" cy="250.3" r="2.5"/><circle cx="843.7" cy="253.9" r="2.5"/><circle cx="843.7" cy="262.4" r="2.5"/><circle cx="843.7" cy="266.4" r="2.5"/><circle cx="843.7" cy="275.4" r="2.5"/><circle cx="843.7" cy="280.0" r="2.5"/><circle cx="843.7" cy="285.6" r="2.5"/><circle cx="843.7" cy="292.8" r="2.5"/><circle cx="843.7" cy="298.5" r="2.5"/><circle cx="843.7" cy="310.1" r="2.5"/><circle cx="843.7" cy="314.8" r="2.5"/><circle cx="843.7" cy="320.1" r="2.5"/><circle cx="843.7" cy="327.4" r="2.5"/><circle cx="843.7" cy="333.8" r="2.5"/><circle cx="843.7" cy="339.0" r="2.5"/><circle cx="843.7" cy="393.3" r="2.5"/><circle cx="877.0" cy="198.6" r="2.5"/><circle cx="877.0" cy="203.8" r="2.5"/><circle cx="877.0" cy="205.9" r="2.5"/><circle cx="877.0" cy="210.4" r="2.5"/><circle cx="877.0" cy="212.9" r="2.5"/><circle cx="877.0" cy="216.1" r="2.5"/><circle cx="877.0" cy="223.0" r="2.5"/><circle cx="877.0" cy="226.6" r="2.5"/><circle cx="877.0" cy="228.6" r="2.5"/><circle cx="877.0" cy="234.5" r="2.5"/><circle cx="877.0" cy="238.1" r="2.5"/><circle cx="877.0" cy="240.2" r="2.5"/><circle cx="877.0" cy="246.6" r="2.5"/><circle cx="877.0" cy="255.2" r="2.5"/><circle cx="877.0" cy="259.0" r="2.5"/><circle cx="877.0" cy="268.1" r="2.5"/><circle cx="877.0" cy="270.5" r="2.5"/><circle cx="877.0" cy="277.8" r="2.5"/><circle cx="877.0" cy="286.2" r="2.5"/><circle cx="877.0" cy="289.8" r="2.5"/><circle cx="877.0" cy="296.8" r="2.5"/><circle cx="877.0" cy="306.6" r="2.5"/><circle cx="877.0" cy="310.8" r="2.5"/><circle cx="877.0" cy="319.1" r="2.5"/><circle cx="877.0" cy="121.0" r="2.5"/><circle cx="877.0" cy="133.0" r="2.5"/><circle cx="877.0" cy="153.0" r="2.5"/><circle cx="877.0" cy="325.7" r="2.5"/><circle cx="877.0" cy="359.3" r="2.5"/><circle cx="910.3" cy="190.2" r="2.5"/><circle cx="910.3" cy="192.8" r="2.5"/><circle cx="910.3" cy="198.0" r="2.5"/><circle cx="910.3" cy="199.2" r="2.5"/><circle cx="910.3" cy="203.1" r="2.5"/><circle cx="910.3" cy="204.9" r="2.5"/><circle cx="910.3" cy="209.2" r="2.5"/><circle cx="910.3" cy="211.9" r="2.5"/><circle cx="910.3" cy="215.0" r="2.5"/><circle cx="910.3" cy="217.2" r="2.5"/><circle cx="910.3" cy="220.4" r="2.5"/><circle cx="910.3" cy="225.5" r="2.5"/><circle cx="910.3" cy="227.2" r="2.5"/><circle cx="910.3" cy="230.0" r="2.5"/><circle cx="910.3" cy="233.4" r="2.5"/><circle cx="910.3" cy="238.8" r="2.5"/><circle cx="910.3" cy="243.5" r="2.5"/><circle cx="910.3" cy="247.6" r="2.5"/><circle cx="910.3" cy="255.3" r="2.5"/><circle cx="910.3" cy="258.8" r="2.5"/><circle cx="910.3" cy="262.9" r="2.5"/><circle cx="910.3" cy="270.3" r="2.5"/><circle cx="910.3" cy="272.6" r="2.5"/><circle cx="910.3" cy="278.3" r="2.5"/><circle cx="910.3" cy="285.8" r="2.5"/><circle cx="910.3" cy="287.6" r="2.5"/><circle cx="910.3" cy="293.9" r="2.5"/><circle cx="910.3" cy="300.6" r="2.5"/><circle cx="910.3" cy="115.0" r="2.5"/><circle cx="910.3" cy="121.0" r="2.5"/><circle cx="910.3" cy="136.0" r="2.5"/><circle cx="910.3" cy="316.7" r="2.5"/><circle cx="910.3" cy="335.8" r="2.5"/><circle cx="943.5" cy="173.1" r="2.5"/><circle cx="943.5" cy="179.4" r="2.5"/><circle cx="943.5" cy="182.6" r="2.5"/><circle cx="943.5" cy="189.7" r="2.5"/><circle cx="943.5" cy="191.2" r="2.5"/><circle cx="943.5" cy="199.0" r="2.5"/><circle cx="943.5" cy="201.8" r="2.5"/><circle cx="943.5" cy="205.3" r="2.5"/><circle cx="943.5" cy="211.0" r="2.5"/><circle cx="943.5" cy="214.3" r="2.5"/><circle cx="943.5" cy="221.4" r="2.5"/><circle cx="943.5" cy="224.2" r="2.5"/><circle cx="943.5" cy="231.6" r="2.5"/><circle cx="943.5" cy="234.9" r="2.5"/><circle cx="943.5" cy="239.0" r="2.5"/><circle cx="943.5" cy="244.1" r="2.5"/><circle cx="943.5" cy="251.5" r="2.5"/><circle cx="943.5" cy="255.2" r="2.5"/><circle cx="943.5" cy="264.1" r="2.5"/><circle cx="943.5" cy="266.0" r="2.5"/><circle cx="943.5" cy="273.6" r="2.5"/><circle cx="943.5" cy="279.4" r="2.5"/><circle cx="943.5" cy="283.6" r="2.5"/><circle cx="943.5" cy="291.8" r="2.5"/><circle cx="943.5" cy="295.5" r="2.5"/><circle cx="943.5" cy="302.5" r="2.5"/><circle cx="943.5" cy="307.7" r="2.5"/><circle cx="943.5" cy="312.0" r="2.5"/><circle cx="943.5" cy="43.4" r="2.5"/><circle cx="943.5" cy="116.0" r="2.5"/><circle cx="943.5" cy="324.1" r="2.5"/><circle cx="943.5" cy="353.1" r="2.5"/><circle cx="976.8" cy="183.2" r="2.5"/><circle cx="976.8" cy="192.2" r="2.5"/><circle cx="976.8" cy="195.2" r="2.5"/><circle cx="976.8" cy="202.5" r="2.5"/><circle cx="976.8" cy="205.4" r="2.5"/><circle cx="976.8" cy="213.3" r="2.5"/><circle cx="976.8" cy="217.9" r="2.5"/><circle cx="976.8" cy="224.3" r="2.5"/><circle cx="976.8" cy="228.9" r="2.5"/><circle cx="976.8" cy="233.3" r="2.5"/><circle cx="976.8" cy="240.2" r="2.5"/><circle cx="976.8" cy="245.4" r="2.5"/><circle cx="976.8" cy="250.6" r="2.5"/><circle cx="976.8" cy="260.3" r="2.5"/><circle cx="976.8" cy="264.1" r="2.5"/><circle cx="976.8" cy="271.1" r="2.5"/><circle cx="976.8" cy="280.3" r="2.5"/><circle cx="976.8" cy="285.8" r="2.5"/><circle cx="976.8" cy="292.7" r="2.5"/><circle cx="976.8" cy="298.9" r="2.5"/><circle cx="976.8" cy="301.1" r="2.5"/><circle cx="976.8" cy="308.2" r="2.5"/><circle cx="976.8" cy="313.1" r="2.5"/><circle cx="976.8" cy="323.1" r="2.5"/><circle cx="976.8" cy="140.0" r="2.5"/><circle cx="976.8" cy="146.0" r="2.5"/><circle cx="976.8" cy="158.6" r="2.5"/><circle cx="976.8" cy="338.7" r="2.5"/><circle cx="976.8" cy="366.4" r="2.5"/><circle cx="1010.0" cy="174.4" r="2.5"/><circle cx="1010.0" cy="183.0" r="2.5"/><circle cx="1010.0" cy="190.4" r="2.5"/><circle cx="1010.0" cy="194.6" r="2.5"/><circle cx="1010.0" cy="205.5" r="2.5"/><circle cx="1010.0" cy="209.5" r="2.5"/><circle cx="1010.0" cy="218.3" r="2.5"/><circle cx="1010.0" cy="222.5" r="2.5"/><circle cx="1010.0" cy="229.2" r="2.5"/><circle cx="1010.0" cy="241.4" r="2.5"/><circle cx="1010.0" cy="247.4" r="2.5"/><circle cx="1010.0" cy="254.4" r="2.5"/><circle cx="1010.0" cy="257.2" r="2.5"/><circle cx="1010.0" cy="264.3" r="2.5"/><circle cx="1010.0" cy="272.2" r="2.5"/><circle cx="1010.0" cy="279.6" r="2.5"/><circle cx="1010.0" cy="287.4" r="2.5"/><circle cx="1010.0" cy="295.0" r="2.5"/><circle cx="1010.0" cy="299.9" r="2.5"/><circle cx="1010.0" cy="308.8" r="2.5"/><circle cx="1010.0" cy="325.9" r="2.5"/><circle cx="1010.0" cy="349.1" r="2.5"/><circle cx="1043.3" cy="195.1" r="2.5"/><circle cx="1043.3" cy="198.9" r="2.5"/><circle cx="1043.3" cy="204.6" r="2.5"/><circle cx="1043.3" cy="207.5" r="2.5"/><circle cx="1043.3" cy="213.4" r="2.5"/><circle cx="1043.3" cy="219.6" r="2.5"/><circle cx="1043.3" cy="223.1" r="2.5"/><circle cx="1043.3" cy="226.5" r="2.5"/><circle cx="1043.3" cy="235.4" r="2.5"/><circle cx="1043.3" cy="240.2" r="2.5"/><circle cx="1043.3" cy="243.0" r="2.5"/><circle cx="1043.3" cy="246.9" r="2.5"/><circle cx="1043.3" cy="256.3" r="2.5"/><circle cx="1043.3" cy="260.9" r="2.5"/><circle cx="1043.3" cy="263.8" r="2.5"/><circle cx="1043.3" cy="270.7" r="2.5"/><circle cx="1043.3" cy="275.9" r="2.5"/><circle cx="1043.3" cy="285.4" r="2.5"/><circle cx="1043.3" cy="288.2" r="2.5"/><circle cx="1043.3" cy="297.8" r="2.5"/><circle cx="1043.3" cy="302.8" r="2.5"/><circle cx="1043.3" cy="305.1" r="2.5"/><circle cx="1043.3" cy="314.2" r="2.5"/><circle cx="1043.3" cy="318.5" r="2.5"/><circle cx="1043.3" cy="123.6" r="2.5"/><circle cx="1043.3" cy="143.5" r="2.5"/><circle cx="1043.3" cy="336.2" r="2.5"/><circle cx="1043.3" cy="369.5" r="2.5"/><circle cx="1076.6" cy="215.3" r="2.5"/><circle cx="1076.6" cy="218.8" r="2.5"/><circle cx="1076.6" cy="226.3" r="2.5"/><circle cx="1076.6" cy="228.5" r="2.5"/><circle cx="1076.6" cy="234.6" r="2.5"/><circle cx="1076.6" cy="238.0" r="2.5"/><circle cx="1076.6" cy="242.4" r="2.5"/><circle cx="1076.6" cy="246.9" r="2.5"/><circle cx="1076.6" cy="250.4" r="2.5"/><circle cx="1076.6" cy="254.0" r="2.5"/><circle cx="1076.6" cy="256.7" r="2.5"/><circle cx="1076.6" cy="263.3" r="2.5"/><circle cx="1076.6" cy="266.5" r="2.5"/><circle cx="1076.6" cy="271.1" r="2.5"/><circle cx="1076.6" cy="276.9" r="2.5"/><circle cx="1076.6" cy="278.1" r="2.5"/><circle cx="1076.6" cy="285.2" r="2.5"/><circle cx="1076.6" cy="286.9" r="2.5"/><circle cx="1076.6" cy="294.6" r="2.5"/><circle cx="1076.6" cy="299.9" r="2.5"/><circle cx="1076.6" cy="302.4" r="2.5"/><circle cx="1076.6" cy="308.5" r="2.5"/><circle cx="1076.6" cy="315.2" r="2.5"/><circle cx="1076.6" cy="318.6" r="2.5"/><circle cx="1076.6" cy="323.0" r="2.5"/><circle cx="1076.6" cy="326.6" r="2.5"/><circle cx="1076.6" cy="330.6" r="2.5"/><circle cx="1076.6" cy="336.8" r="2.5"/><circle cx="1076.6" cy="341.8" r="2.5"/><circle cx="1076.6" cy="345.8" r="2.5"/><circle cx="1076.6" cy="351.1" r="2.5"/><circle cx="1076.6" cy="355.2" r="2.5"/><circle cx="1076.6" cy="154.0" r="2.5"/><circle cx="1076.6" cy="369.1" r="2.5"/><circle cx="1076.6" cy="391.8" r="2.5"/><circle cx="1076.6" cy="409.1" r="2.5"/><circle cx="1109.8" cy="197.4" r="2.5"/><circle cx="1109.8" cy="203.9" r="2.5"/><circle cx="1109.8" cy="208.7" r="2.5"/><circle cx="1109.8" cy="216.2" r="2.5"/><circle cx="1109.8" cy="218.7" r="2.5"/><circle cx="1109.8" cy="223.6" r="2.5"/><circle cx="1109.8" cy="231.5" r="2.5"/><circle cx="1109.8" cy="233.3" r="2.5"/><circle cx="1109.8" cy="240.4" r="2.5"/><circle cx="1109.8" cy="244.5" r="2.5"/><circle cx="1109.8" cy="252.0" r="2.5"/><circle cx="1109.8" cy="255.9" r="2.5"/><circle cx="1109.8" cy="261.3" r="2.5"/><circle cx="1109.8" cy="263.2" r="2.5"/><circle cx="1109.8" cy="269.1" r="2.5"/><circle cx="1109.8" cy="272.9" r="2.5"/><circle cx="1109.8" cy="276.4" r="2.5"/><circle cx="1109.8" cy="281.6" r="2.5"/><circle cx="1109.8" cy="285.9" r="2.5"/><circle cx="1109.8" cy="287.3" r="2.5"/><circle cx="1109.8" cy="292.0" r="2.5"/><circle cx="1109.8" cy="296.3" r="2.5"/><circle cx="1109.8" cy="299.8" r="2.5"/><circle cx="1109.8" cy="303.4" r="2.5"/><circle cx="1109.8" cy="122.0" r="2.5"/><circle cx="1109.8" cy="127.0" r="2.5"/><circle cx="1109.8" cy="138.6" r="2.5"/><circle cx="1109.8" cy="147.0" r="2.5"/><circle cx="1109.8" cy="310.7" r="2.5"/><circle cx="1109.8" cy="331.5" r="2.5"/><circle cx="1143.1" cy="189.7" r="2.5"/><circle cx="1143.1" cy="193.7" r="2.5"/><circle cx="1143.1" cy="197.2" r="2.5"/><circle cx="1143.1" cy="203.2" r="2.5"/><circle cx="1143.1" cy="208.9" r="2.5"/><circle cx="1143.1" cy="213.5" r="2.5"/><circle cx="1143.1" cy="217.7" r="2.5"/><circle cx="1143.1" cy="222.3" r="2.5"/><circle cx="1143.1" cy="227.1" r="2.5"/><circle cx="1143.1" cy="236.6" r="2.5"/><circle cx="1143.1" cy="240.8" r="2.5"/><circle cx="1143.1" cy="242.9" r="2.5"/><circle cx="1143.1" cy="251.2" r="2.5"/><circle cx="1143.1" cy="257.8" r="2.5"/><circle cx="1143.1" cy="261.1" r="2.5"/><circle cx="1143.1" cy="264.2" r="2.5"/><circle cx="1143.1" cy="271.4" r="2.5"/><circle cx="1143.1" cy="276.4" r="2.5"/><circle cx="1143.1" cy="280.6" r="2.5"/><circle cx="1143.1" cy="287.6" r="2.5"/><circle cx="1143.1" cy="290.1" r="2.5"/><circle cx="1143.1" cy="327.1" r="2.5"/><circle cx="1176.3" cy="221.7" r="2.5"/><circle cx="1176.3" cy="225.2" r="2.5"/><circle cx="1176.3" cy="229.6" r="2.5"/><circle cx="1176.3" cy="232.2" r="2.5"/><circle cx="1176.3" cy="234.5" r="2.5"/><circle cx="1176.3" cy="237.9" r="2.5"/><circle cx="1176.3" cy="241.1" r="2.5"/><circle cx="1176.3" cy="244.3" r="2.5"/><circle cx="1176.3" cy="250.1" r="2.5"/><circle cx="1176.3" cy="253.8" r="2.5"/><circle cx="1176.3" cy="255.6" r="2.5"/><circle cx="1176.3" cy="258.8" r="2.5"/><circle cx="1176.3" cy="263.9" r="2.5"/><circle cx="1176.3" cy="268.5" r="2.5"/><circle cx="1176.3" cy="272.7" r="2.5"/><circle cx="1176.3" cy="273.9" r="2.5"/><circle cx="1176.3" cy="279.9" r="2.5"/><circle cx="1176.3" cy="284.0" r="2.5"/><circle cx="1176.3" cy="287.5" r="2.5"/><circle cx="1176.3" cy="290.0" r="2.5"/><circle cx="1176.3" cy="293.3" r="2.5"/><circle cx="1176.3" cy="299.4" r="2.5"/><circle cx="1176.3" cy="301.6" r="2.5"/><circle cx="1176.3" cy="305.6" r="2.5"/><circle cx="1176.3" cy="314.9" r="2.5"/><circle cx="1176.3" cy="333.6" r="2.5"/><circle cx="1209.6" cy="201.3" r="2.5"/><circle cx="1209.6" cy="203.7" r="2.5"/><circle cx="1209.6" cy="208.1" r="2.5"/><circle cx="1209.6" cy="216.0" r="2.5"/><circle cx="1209.6" cy="221.6" r="2.5"/><circle cx="1209.6" cy="227.9" r="2.5"/><circle cx="1209.6" cy="232.7" r="2.5"/><circle cx="1209.6" cy="238.9" r="2.5"/><circle cx="1209.6" cy="244.5" r="2.5"/><circle cx="1209.6" cy="247.6" r="2.5"/><circle cx="1209.6" cy="253.0" r="2.5"/><circle cx="1209.6" cy="256.7" r="2.5"/><circle cx="1209.6" cy="262.7" r="2.5"/><circle cx="1209.6" cy="269.4" r="2.5"/><circle cx="1209.6" cy="272.3" r="2.5"/><circle cx="1209.6" cy="280.6" r="2.5"/><circle cx="1209.6" cy="283.4" r="2.5"/><circle cx="1209.6" cy="290.1" r="2.5"/><circle cx="1209.6" cy="297.9" r="2.5"/><circle cx="1209.6" cy="299.0" r="2.5"/><circle cx="1209.6" cy="304.1" r="2.5"/><circle cx="1209.6" cy="311.4" r="2.5"/><circle cx="1209.6" cy="315.5" r="2.5"/><circle cx="1209.6" cy="323.4" r="2.5"/><circle cx="1209.6" cy="158.5" r="2.5"/><circle cx="1209.6" cy="161.0" r="2.5"/><circle cx="1209.6" cy="170.0" r="2.5"/><circle cx="1209.6" cy="325.0" r="2.5"/><circle cx="1209.6" cy="368.3" r="2.5"/><circle cx="1242.9" cy="239.8" r="2.5"/><circle cx="1242.9" cy="242.2" r="2.5"/><circle cx="1242.9" cy="243.9" r="2.5"/><circle cx="1242.9" cy="246.2" r="2.5"/><circle cx="1242.9" cy="249.6" r="2.5"/><circle cx="1242.9" cy="251.8" r="2.5"/><circle cx="1242.9" cy="254.2" r="2.5"/><circle cx="1242.9" cy="256.5" r="2.5"/><circle cx="1242.9" cy="259.3" r="2.5"/><circle cx="1242.9" cy="262.4" r="2.5"/><circle cx="1242.9" cy="265.7" r="2.5"/><circle cx="1242.9" cy="269.0" r="2.5"/><circle cx="1242.9" cy="270.0" r="2.5"/><circle cx="1242.9" cy="273.4" r="2.5"/><circle cx="1242.9" cy="276.8" r="2.5"/><circle cx="1242.9" cy="280.2" r="2.5"/><circle cx="1242.9" cy="282.6" r="2.5"/><circle cx="1242.9" cy="285.3" r="2.5"/><circle cx="1242.9" cy="288.0" r="2.5"/><circle cx="1242.9" cy="291.7" r="2.5"/><circle cx="1242.9" cy="297.5" r="2.5"/><circle cx="1242.9" cy="315.4" r="2.5"/><circle cx="1276.1" cy="176.3" r="2.5"/><circle cx="1276.1" cy="180.7" r="2.5"/><circle cx="1276.1" cy="185.7" r="2.5"/><circle cx="1276.1" cy="190.2" r="2.5"/><circle cx="1276.1" cy="193.3" r="2.5"/><circle cx="1276.1" cy="198.7" r="2.5"/><circle cx="1276.1" cy="200.1" r="2.5"/><circle cx="1276.1" cy="207.2" r="2.5"/><circle cx="1276.1" cy="211.5" r="2.5"/><circle cx="1276.1" cy="214.7" r="2.5"/><circle cx="1276.1" cy="220.4" r="2.5"/><circle cx="1276.1" cy="226.5" r="2.5"/><circle cx="1276.1" cy="229.1" r="2.5"/><circle cx="1276.1" cy="234.3" r="2.5"/><circle cx="1276.1" cy="237.6" r="2.5"/><circle cx="1276.1" cy="242.7" r="2.5"/><circle cx="1276.1" cy="249.9" r="2.5"/><circle cx="1276.1" cy="251.1" r="2.5"/><circle cx="1276.1" cy="256.7" r="2.5"/><circle cx="1276.1" cy="263.7" r="2.5"/><circle cx="1276.1" cy="267.6" r="2.5"/><circle cx="1276.1" cy="270.9" r="2.5"/><circle cx="1276.1" cy="278.4" r="2.5"/><circle cx="1276.1" cy="282.0" r="2.5"/><circle cx="1276.1" cy="287.8" r="2.5"/><circle cx="1276.1" cy="292.0" r="2.5"/><circle cx="1276.1" cy="297.4" r="2.5"/><circle cx="1276.1" cy="302.4" r="2.5"/><circle cx="1276.1" cy="131.0" r="2.5"/><circle cx="1276.1" cy="148.6" r="2.5"/><circle cx="1276.1" cy="164.7" r="2.5"/><circle cx="1276.1" cy="311.9" r="2.5"/><circle cx="1276.1" cy="337.6" r="2.5"/><circle cx="1309.4" cy="198.3" r="2.5"/><circle cx="1309.4" cy="207.9" r="2.5"/><circle cx="1309.4" cy="212.0" r="2.5"/><circle cx="1309.4" cy="215.6" r="2.5"/><circle cx="1309.4" cy="225.5" r="2.5"/><circle cx="1309.4" cy="228.1" r="2.5"/><circle cx="1309.4" cy="233.2" r="2.5"/><circle cx="1309.4" cy="241.4" r="2.5"/><circle cx="1309.4" cy="245.8" r="2.5"/><circle cx="1309.4" cy="253.0" r="2.5"/><circle cx="1309.4" cy="259.2" r="2.5"/><circle cx="1309.4" cy="263.3" r="2.5"/><circle cx="1309.4" cy="271.0" r="2.5"/><circle cx="1309.4" cy="274.4" r="2.5"/><circle cx="1309.4" cy="282.3" r="2.5"/><circle cx="1309.4" cy="288.5" r="2.5"/><circle cx="1309.4" cy="291.7" r="2.5"/><circle cx="1309.4" cy="299.2" r="2.5"/><circle cx="1309.4" cy="303.3" r="2.5"/><circle cx="1309.4" cy="311.1" r="2.5"/><circle cx="1309.4" cy="169.4" r="2.5"/><circle cx="1309.4" cy="327.9" r="2.5"/><circle cx="1309.4" cy="349.2" r="2.5"/></g>
<g fill="#ff0a14"><circle cx="72.1" cy="210.2" r="2.5"/><circle cx="72.1" cy="213.6" r="2.5"/><circle cx="72.1" cy="214.9" r="2.5"/><circle cx="72.1" cy="220.7" r="2.5"/><circle cx="72.1" cy="223.1" r="2.5"/><circle cx="72.1" cy="224.6" r="2.5"/><circle cx="72.1" cy="229.9" r="2.5"/><circle cx="72.1" cy="231.8" r="2.5"/><circle cx="72.1" cy="234.4" r="2.5"/><circle cx="72.1" cy="239.9" r="2.5"/><circle cx="72.1" cy="242.0" r="2.5"/><circle cx="72.1" cy="245.8" r="2.5"/><circle cx="72.1" cy="247.2" r="2.5"/><circle cx="72.1" cy="252.3" r="2.5"/><circle cx="72.1" cy="253.4" r="2.5"/><circle cx="72.1" cy="257.1" r="2.5"/><circle cx="72.1" cy="260.9" r="2.5"/><circle cx="72.1" cy="263.3" r="2.5"/><circle cx="72.1" cy="268.7" r="2.5"/><circle cx="72.1" cy="271.0" r="2.5"/><circle cx="72.1" cy="274.9" r="2.5"/><circle cx="72.1" cy="279.8" r="2.5"/><circle cx="72.1" cy="282.4" r="2.5"/><circle cx="72.1" cy="287.5" r="2.5"/><circle cx="72.1" cy="290.2" r="2.5"/><circle cx="72.1" cy="294.5" r="2.5"/><circle cx="72.1" cy="297.1" r="2.5"/><circle cx="72.1" cy="301.8" r="2.5"/><circle cx="72.1" cy="305.2" r="2.5"/><circle cx="72.1" cy="306.5" r="2.5"/><circle cx="72.1" cy="311.9" r="2.5"/><circle cx="72.1" cy="314.2" r="2.5"/><circle cx="72.1" cy="52.9" r="2.5"/><circle cx="72.1" cy="172.0" r="2.5"/><circle cx="72.1" cy="176.0" r="2.5"/><circle cx="72.1" cy="340.0" r="2.5"/><circle cx="72.1" cy="345.0" r="2.5"/><circle cx="72.1" cy="358.0" r="2.5"/><circle cx="105.4" cy="263.8" r="2.5"/><circle cx="105.4" cy="269.8" r="2.5"/><circle cx="105.4" cy="277.2" r="2.5"/><circle cx="105.4" cy="279.5" r="2.5"/><circle cx="105.4" cy="287.5" r="2.5"/><circle cx="105.4" cy="296.1" r="2.5"/><circle cx="105.4" cy="303.9" r="2.5"/><circle cx="105.4" cy="309.0" r="2.5"/><circle cx="105.4" cy="311.5" r="2.5"/><circle cx="105.4" cy="319.4" r="2.5"/><circle cx="105.4" cy="322.2" r="2.5"/><circle cx="105.4" cy="329.6" r="2.5"/><circle cx="105.4" cy="336.1" r="2.5"/><circle cx="105.4" cy="338.0" r="2.5"/><circle cx="105.4" cy="347.1" r="2.5"/><circle cx="105.4" cy="351.2" r="2.5"/><circle cx="105.4" cy="175.0" r="2.5"/><circle cx="105.4" cy="358.0" r="2.5"/><circle cx="105.4" cy="362.0" r="2.5"/><circle cx="105.4" cy="366.0" r="2.5"/><circle cx="105.4" cy="370.0" r="2.5"/><circle cx="105.4" cy="374.0" r="2.5"/><circle cx="105.4" cy="391.4" r="2.5"/><circle cx="138.6" cy="297.1" r="2.5"/><circle cx="138.6" cy="311.1" r="2.5"/><circle cx="138.6" cy="329.2" r="2.5"/><circle cx="138.6" cy="349.1" r="2.5"/><circle cx="138.6" cy="360.4" r="2.5"/><circle cx="138.6" cy="368.9" r="2.5"/><circle cx="138.6" cy="382.3" r="2.5"/><circle cx="138.6" cy="398.1" r="2.5"/><circle cx="138.6" cy="417.3" r="2.5"/><circle cx="138.6" cy="431.2" r="2.5"/><circle cx="171.9" cy="276.6" r="2.5"/><circle cx="171.9" cy="279.8" r="2.5"/><circle cx="171.9" cy="289.4" r="2.5"/><circle cx="171.9" cy="294.9" r="2.5"/><circle cx="171.9" cy="304.8" r="2.5"/><circle cx="171.9" cy="310.0" r="2.5"/><circle cx="171.9" cy="315.6" r="2.5"/><circle cx="171.9" cy="326.7" r="2.5"/><circle cx="171.9" cy="331.4" r="2.5"/><circle cx="171.9" cy="339.0" r="2.5"/><circle cx="171.9" cy="346.4" r="2.5"/><circle cx="171.9" cy="354.0" r="2.5"/><circle cx="171.9" cy="367.0" r="2.5"/><circle cx="171.9" cy="379.0" r="2.5"/><circle cx="205.1" cy="255.7" r="2.5"/><circle cx="205.1" cy="281.6" r="2.5"/><circle cx="205.1" cy="298.1" r="2.5"/><circle cx="205.1" cy="324.4" r="2.5"/><circle cx="205.1" cy="351.1" r="2.5"/><circle cx="205.1" cy="369.7" r="2.5"/><circle cx="205.1" cy="378.0" r="2.5"/><circle cx="205.1" cy="402.2" r="2.5"/><circle cx="238.4" cy="254.8" r="2.5"/><circle cx="238.4" cy="259.1" r="2.5"/><circle cx="238.4" cy="265.0" r="2.5"/><circle cx="238.4" cy="268.3" r="2.5"/><circle cx="238.4" cy="271.1" r="2.5"/><circle cx="238.4" cy="275.2" r="2.5"/><circle cx="238.4" cy="277.9" r="2.5"/><circle cx="238.4" cy="284.0" r="2.5"/><circle cx="238.4" cy="286.2" r="2.5"/><circle cx="238.4" cy="291.6" r="2.5"/><circle cx="238.4" cy="294.5" r="2.5"/><circle cx="238.4" cy="296.5" r="2.5"/><circle cx="238.4" cy="301.1" r="2.5"/><circle cx="238.4" cy="304.6" r="2.5"/><circle cx="238.4" cy="310.9" r="2.5"/><circle cx="238.4" cy="313.7" r="2.5"/><circle cx="238.4" cy="315.7" r="2.5"/><circle cx="238.4" cy="320.0" r="2.5"/><circle cx="238.4" cy="324.6" r="2.5"/><circle cx="238.4" cy="328.8" r="2.5"/><circle cx="238.4" cy="333.1" r="2.5"/><circle cx="238.4" cy="336.3" r="2.5"/><circle cx="238.4" cy="340.1" r="2.5"/><circle cx="238.4" cy="342.7" r="2.5"/><circle cx="238.4" cy="165.6" r="2.5"/><circle cx="238.4" cy="362.8" r="2.5"/><circle cx="238.4" cy="379.2" r="2.5"/><circle cx="271.7" cy="300.5" r="2.5"/><circle cx="271.7" cy="308.1" r="2.5"/><circle cx="271.7" cy="315.1" r="2.5"/><circle cx="271.7" cy="328.6" r="2.5"/><circle cx="271.7" cy="343.0" r="2.5"/><circle cx="271.7" cy="344.4" r="2.5"/><circle cx="271.7" cy="355.0" r="2.5"/><circle cx="271.7" cy="369.3" r="2.5"/><circle cx="271.7" cy="375.2" r="2.5"/><circle cx="271.7" cy="383.6" r="2.5"/><circle cx="271.7" cy="393.7" r="2.5"/><circle cx="271.7" cy="400.3" r="2.5"/><circle cx="271.7" cy="411.1" r="2.5"/><circle cx="271.7" cy="419.2" r="2.5"/><circle cx="271.7" cy="430.8" r="2.5"/><circle cx="271.7" cy="439.5" r="2.5"/><circle cx="271.7" cy="176.0" r="2.5"/><circle cx="271.7" cy="189.0" r="2.5"/><circle cx="271.7" cy="445.0" r="2.5"/><circle cx="271.7" cy="449.0" r="2.5"/><circle cx="271.7" cy="453.0" r="2.5"/><circle cx="271.7" cy="467.8" r="2.5"/><circle cx="271.7" cy="474.0" r="2.5"/><circle cx="304.9" cy="253.5" r="2.5"/><circle cx="304.9" cy="262.9" r="2.5"/><circle cx="304.9" cy="270.5" r="2.5"/><circle cx="304.9" cy="277.4" r="2.5"/><circle cx="304.9" cy="283.2" r="2.5"/><circle cx="304.9" cy="288.8" r="2.5"/><circle cx="304.9" cy="295.2" r="2.5"/><circle cx="304.9" cy="300.0" r="2.5"/><circle cx="304.9" cy="305.9" r="2.5"/><circle cx="304.9" cy="315.2" r="2.5"/><circle cx="304.9" cy="322.3" r="2.5"/><circle cx="304.9" cy="329.5" r="2.5"/><circle cx="304.9" cy="334.6" r="2.5"/><circle cx="304.9" cy="339.1" r="2.5"/><circle cx="304.9" cy="348.6" r="2.5"/><circle cx="304.9" cy="355.2" r="2.5"/><circle cx="304.9" cy="360.5" r="2.5"/><circle cx="304.9" cy="368.0" r="2.5"/><circle cx="304.9" cy="373.0" r="2.5"/><circle cx="304.9" cy="380.9" r="2.5"/><circle cx="304.9" cy="201.0" r="2.5"/><circle cx="338.2" cy="263.1" r="2.5"/><circle cx="338.2" cy="273.2" r="2.5"/><circle cx="338.2" cy="291.4" r="2.5"/><circle cx="338.2" cy="305.9" r="2.5"/><circle cx="338.2" cy="329.3" r="2.5"/><circle cx="338.2" cy="337.2" r="2.5"/><circle cx="338.2" cy="349.4" r="2.5"/><circle cx="338.2" cy="360.1" r="2.5"/><circle cx="338.2" cy="372.0" r="2.5"/><circle cx="338.2" cy="385.3" r="2.5"/><circle cx="338.2" cy="395.0" r="2.5"/><circle cx="338.2" cy="405.6" r="2.5"/><circle cx="338.2" cy="444.8" r="2.5"/><circle cx="338.2" cy="476.0" r="2.5"/><circle cx="338.2" cy="481.0" r="2.5"/><circle cx="338.2" cy="500.0" r="2.5"/><circle cx="371.4" cy="286.1" r="2.5"/><circle cx="371.4" cy="288.9" r="2.5"/><circle cx="371.4" cy="293.2" r="2.5"/><circle cx="371.4" cy="298.1" r="2.5"/><circle cx="371.4" cy="301.4" r="2.5"/><circle cx="371.4" cy="305.3" r="2.5"/><circle cx="371.4" cy="309.2" r="2.5"/><circle cx="371.4" cy="314.5" r="2.5"/><circle cx="371.4" cy="318.9" r="2.5"/><circle cx="371.4" cy="325.0" r="2.5"/><circle cx="371.4" cy="328.6" r="2.5"/><circle cx="371.4" cy="334.5" r="2.5"/><circle cx="371.4" cy="336.6" r="2.5"/><circle cx="371.4" cy="343.2" r="2.5"/><circle cx="371.4" cy="346.2" r="2.5"/><circle cx="371.4" cy="348.6" r="2.5"/><circle cx="371.4" cy="353.4" r="2.5"/><circle cx="371.4" cy="359.3" r="2.5"/><circle cx="371.4" cy="365.3" r="2.5"/><circle cx="371.4" cy="367.2" r="2.5"/><circle cx="371.4" cy="373.2" r="2.5"/><circle cx="371.4" cy="376.2" r="2.5"/><circle cx="371.4" cy="382.3" r="2.5"/><circle cx="371.4" cy="383.5" r="2.5"/><circle cx="371.4" cy="395.0" r="2.5"/><circle cx="371.4" cy="400.0" r="2.5"/><circle cx="371.4" cy="405.0" r="2.5"/><circle cx="371.4" cy="412.0" r="2.5"/><circle cx="404.7" cy="288.0" r="2.5"/><circle cx="404.7" cy="296.6" r="2.5"/><circle cx="404.7" cy="299.3" r="2.5"/><circle cx="404.7" cy="305.4" r="2.5"/><circle cx="404.7" cy="310.4" r="2.5"/><circle cx="404.7" cy="317.4" r="2.5"/><circle cx="404.7" cy="324.2" r="2.5"/><circle cx="404.7" cy="332.9" r="2.5"/><circle cx="404.7" cy="336.4" r="2.5"/><circle cx="404.7" cy="343.6" r="2.5"/><circle cx="404.7" cy="348.7" r="2.5"/><circle cx="404.7" cy="357.2" r="2.5"/><circle cx="404.7" cy="364.9" r="2.5"/><circle cx="404.7" cy="369.9" r="2.5"/><circle cx="404.7" cy="373.6" r="2.5"/><circle cx="404.7" cy="382.9" r="2.5"/><circle cx="404.7" cy="390.4" r="2.5"/><circle cx="404.7" cy="394.6" r="2.5"/><circle cx="404.7" cy="397.9" r="2.5"/><circle cx="404.7" cy="408.3" r="2.5"/><circle cx="404.7" cy="414.9" r="2.5"/><circle cx="404.7" cy="418.1" r="2.5"/><circle cx="404.7" cy="423.2" r="2.5"/><circle cx="404.7" cy="429.8" r="2.5"/><circle cx="404.7" cy="438.0" r="2.5"/><circle cx="404.7" cy="446.1" r="2.5"/><circle cx="404.7" cy="451.0" r="2.5"/><circle cx="404.7" cy="458.9" r="2.5"/><circle cx="404.7" cy="120.5" r="2.5"/><circle cx="404.7" cy="194.7" r="2.5"/><circle cx="404.7" cy="470.4" r="2.5"/><circle cx="404.7" cy="477.7" r="2.5"/><circle cx="404.7" cy="502.0" r="2.5"/><circle cx="404.7" cy="517.0" r="2.5"/><circle cx="404.7" cy="530.8" r="2.5"/><circle cx="438.0" cy="301.6" r="2.5"/><circle cx="438.0" cy="309.0" r="2.5"/><circle cx="438.0" cy="318.2" r="2.5"/><circle cx="438.0" cy="324.3" r="2.5"/><circle cx="438.0" cy="329.5" r="2.5"/><circle cx="438.0" cy="337.8" r="2.5"/><circle cx="438.0" cy="342.4" r="2.5"/><circle cx="438.0" cy="347.4" r="2.5"/><circle cx="438.0" cy="356.3" r="2.5"/><circle cx="438.0" cy="360.7" r="2.5"/><circle cx="438.0" cy="370.4" r="2.5"/><circle cx="438.0" cy="374.7" r="2.5"/><circle cx="438.0" cy="381.3" r="2.5"/><circle cx="438.0" cy="387.7" r="2.5"/><circle cx="438.0" cy="391.7" r="2.5"/><circle cx="438.0" cy="398.6" r="2.5"/><circle cx="438.0" cy="402.1" r="2.5"/><circle cx="438.0" cy="412.7" r="2.5"/><circle cx="438.0" cy="416.6" r="2.5"/><circle cx="438.0" cy="424.6" r="2.5"/><circle cx="438.0" cy="430.0" r="2.5"/><circle cx="438.0" cy="440.0" r="2.5"/><circle cx="438.0" cy="450.0" r="2.5"/><circle cx="438.0" cy="460.0" r="2.5"/><circle cx="438.0" cy="467.8" r="2.5"/><circle cx="471.2" cy="292.1" r="2.5"/><circle cx="471.2" cy="299.9" r="2.5"/><circle cx="471.2" cy="305.6" r="2.5"/><circle cx="471.2" cy="308.9" r="2.5"/><circle cx="471.2" cy="313.0" r="2.5"/><circle cx="471.2" cy="318.4" r="2.5"/><circle cx="471.2" cy="323.5" r="2.5"/><circle cx="471.2" cy="331.6" r="2.5"/><circle cx="471.2" cy="333.6" r="2.5"/><circle cx="471.2" cy="342.1" r="2.5"/><circle cx="471.2" cy="345.5" r="2.5"/><circle cx="471.2" cy="351.2" r="2.5"/><circle cx="471.2" cy="356.2" r="2.5"/><circle cx="471.2" cy="360.6" r="2.5"/><circle cx="471.2" cy="365.6" r="2.5"/><circle cx="471.2" cy="369.9" r="2.5"/><circle cx="471.2" cy="373.3" r="2.5"/><circle cx="471.2" cy="379.5" r="2.5"/><circle cx="471.2" cy="382.1" r="2.5"/><circle cx="471.2" cy="388.5" r="2.5"/><circle cx="471.2" cy="393.2" r="2.5"/><circle cx="471.2" cy="397.8" r="2.5"/><circle cx="471.2" cy="400.4" r="2.5"/><circle cx="471.2" cy="406.8" r="2.5"/><circle cx="471.2" cy="435.0" r="2.5"/><circle cx="471.2" cy="448.0" r="2.5"/><circle cx="471.2" cy="453.0" r="2.5"/><circle cx="471.2" cy="458.0" r="2.5"/><circle cx="504.5" cy="288.4" r="2.5"/><circle cx="504.5" cy="289.8" r="2.5"/><circle cx="504.5" cy="291.9" r="2.5"/><circle cx="504.5" cy="295.1" r="2.5"/><circle cx="504.5" cy="298.7" r="2.5"/><circle cx="504.5" cy="299.4" r="2.5"/><circle cx="504.5" cy="301.7" r="2.5"/><circle cx="504.5" cy="305.3" r="2.5"/><circle cx="504.5" cy="308.3" r="2.5"/><circle cx="504.5" cy="311.2" r="2.5"/><circle cx="504.5" cy="312.8" r="2.5"/><circle cx="504.5" cy="316.8" r="2.5"/><circle cx="504.5" cy="317.7" r="2.5"/><circle cx="504.5" cy="321.5" r="2.5"/><circle cx="504.5" cy="322.5" r="2.5"/><circle cx="504.5" cy="324.9" r="2.5"/><circle cx="504.5" cy="327.8" r="2.5"/><circle cx="504.5" cy="330.2" r="2.5"/><circle cx="504.5" cy="333.8" r="2.5"/><circle cx="504.5" cy="336.5" r="2.5"/><circle cx="504.5" cy="338.2" r="2.5"/><circle cx="504.5" cy="342.6" r="2.5"/><circle cx="504.5" cy="343.8" r="2.5"/><circle cx="504.5" cy="345.9" r="2.5"/><circle cx="504.5" cy="348.5" r="2.5"/><circle cx="504.5" cy="352.5" r="2.5"/><circle cx="504.5" cy="355.5" r="2.5"/><circle cx="504.5" cy="356.3" r="2.5"/><circle cx="504.5" cy="358.6" r="2.5"/><circle cx="504.5" cy="363.0" r="2.5"/><circle cx="504.5" cy="364.3" r="2.5"/><circle cx="504.5" cy="368.6" r="2.5"/><circle cx="504.5" cy="370.1" r="2.5"/><circle cx="504.5" cy="373.0" r="2.5"/><circle cx="504.5" cy="374.9" r="2.5"/><circle cx="504.5" cy="378.6" r="2.5"/><circle cx="504.5" cy="380.4" r="2.5"/><circle cx="504.5" cy="382.7" r="2.5"/><circle cx="504.5" cy="386.6" r="2.5"/><circle cx="504.5" cy="387.4" r="2.5"/><circle cx="504.5" cy="391.4" r="2.5"/><circle cx="504.5" cy="392.5" r="2.5"/><circle cx="504.5" cy="396.4" r="2.5"/><circle cx="504.5" cy="398.5" r="2.5"/><circle cx="504.5" cy="402.2" r="2.5"/><circle cx="504.5" cy="402.9" r="2.5"/><circle cx="504.5" cy="406.7" r="2.5"/><circle cx="504.5" cy="408.9" r="2.5"/><circle cx="504.5" cy="194.5" r="2.5"/><circle cx="504.5" cy="204.5" r="2.5"/><circle cx="504.5" cy="420.0" r="2.5"/><circle cx="504.5" cy="430.0" r="2.5"/><circle cx="504.5" cy="440.0" r="2.5"/><circle cx="504.5" cy="450.0" r="2.5"/><circle cx="504.5" cy="454.7" r="2.5"/><circle cx="504.5" cy="474.0" r="2.5"/><circle cx="504.5" cy="479.0" r="2.5"/><circle cx="504.5" cy="484.0" r="2.5"/><circle cx="504.5" cy="495.7" r="2.5"/><circle cx="504.5" cy="503.0" r="2.5"/><circle cx="504.5" cy="510.5" r="2.5"/><circle cx="504.5" cy="541.0" r="2.5"/><circle cx="537.7" cy="280.4" r="2.5"/><circle cx="537.7" cy="287.9" r="2.5"/><circle cx="537.7" cy="293.2" r="2.5"/><circle cx="537.7" cy="297.9" r="2.5"/><circle cx="537.7" cy="305.4" r="2.5"/><circle cx="537.7" cy="312.8" r="2.5"/><circle cx="537.7" cy="321.3" r="2.5"/><circle cx="537.7" cy="327.3" r="2.5"/><circle cx="537.7" cy="334.5" r="2.5"/><circle cx="537.7" cy="346.3" r="2.5"/><circle cx="537.7" cy="353.4" r="2.5"/><circle cx="537.7" cy="358.8" r="2.5"/><circle cx="537.7" cy="371.6" r="2.5"/><circle cx="537.7" cy="373.9" r="2.5"/><circle cx="537.7" cy="384.3" r="2.5"/><circle cx="537.7" cy="389.2" r="2.5"/><circle cx="537.7" cy="427.5" r="2.5"/><circle cx="537.7" cy="543.3" r="2.5"/><circle cx="571.0" cy="312.9" r="2.5"/><circle cx="571.0" cy="325.0" r="2.5"/><circle cx="571.0" cy="330.5" r="2.5"/><circle cx="571.0" cy="347.7" r="2.5"/><circle cx="571.0" cy="360.5" r="2.5"/><circle cx="571.0" cy="366.7" r="2.5"/><circle cx="571.0" cy="379.0" r="2.5"/><circle cx="571.0" cy="391.9" r="2.5"/><circle cx="571.0" cy="407.4" r="2.5"/><circle cx="571.0" cy="411.3" r="2.5"/><circle cx="571.0" cy="428.0" r="2.5"/><circle cx="571.0" cy="438.5" r="2.5"/><circle cx="571.0" cy="454.0" r="2.5"/><circle cx="571.0" cy="486.0" r="2.5"/><circle cx="604.3" cy="291.7" r="2.5"/><circle cx="604.3" cy="293.4" r="2.5"/><circle cx="604.3" cy="295.4" r="2.5"/><circle cx="604.3" cy="296.0" r="2.5"/><circle cx="604.3" cy="298.5" r="2.5"/><circle cx="604.3" cy="299.3" r="2.5"/><circle cx="604.3" cy="301.5" r="2.5"/><circle cx="604.3" cy="303.1" r="2.5"/><circle cx="604.3" cy="303.7" r="2.5"/><circle cx="604.3" cy="306.2" r="2.5"/><circle cx="604.3" cy="308.0" r="2.5"/><circle cx="604.3" cy="308.5" r="2.5"/><circle cx="604.3" cy="309.7" r="2.5"/><circle cx="604.3" cy="311.4" r="2.5"/><circle cx="604.3" cy="314.1" r="2.5"/><circle cx="604.3" cy="314.3" r="2.5"/><circle cx="604.3" cy="317.1" r="2.5"/><circle cx="604.3" cy="317.6" r="2.5"/><circle cx="604.3" cy="320.0" r="2.5"/><circle cx="604.3" cy="320.7" r="2.5"/><circle cx="604.3" cy="322.6" r="2.5"/><circle cx="604.3" cy="327.2" r="2.5"/><circle cx="604.3" cy="328.6" r="2.5"/><circle cx="604.3" cy="332.4" r="2.5"/><circle cx="604.3" cy="337.1" r="2.5"/><circle cx="604.3" cy="339.7" r="2.5"/><circle cx="604.3" cy="343.2" r="2.5"/><circle cx="604.3" cy="346.6" r="2.5"/><circle cx="604.3" cy="347.0" r="2.5"/><circle cx="604.3" cy="350.7" r="2.5"/><circle cx="604.3" cy="355.4" r="2.5"/><circle cx="604.3" cy="358.2" r="2.5"/><circle cx="604.3" cy="359.5" r="2.5"/><circle cx="604.3" cy="363.9" r="2.5"/><circle cx="604.3" cy="366.2" r="2.5"/><circle cx="604.3" cy="369.9" r="2.5"/><circle cx="604.3" cy="372.0" r="2.5"/><circle cx="604.3" cy="374.9" r="2.5"/><circle cx="604.3" cy="380.7" r="2.5"/><circle cx="604.3" cy="381.9" r="2.5"/><circle cx="604.3" cy="155.0" r="2.5"/><circle cx="604.3" cy="185.0" r="2.5"/><circle cx="604.3" cy="196.0" r="2.5"/><circle cx="604.3" cy="390.0" r="2.5"/><circle cx="604.3" cy="400.0" r="2.5"/><circle cx="604.3" cy="410.0" r="2.5"/><circle cx="604.3" cy="420.0" r="2.5"/><circle cx="604.3" cy="430.0" r="2.5"/><circle cx="604.3" cy="440.0" r="2.5"/><circle cx="604.3" cy="450.0" r="2.5"/><circle cx="604.3" cy="464.5" r="2.5"/><circle cx="637.5" cy="287.8" r="2.5"/><circle cx="637.5" cy="289.3" r="2.5"/><circle cx="637.5" cy="295.4" r="2.5"/><circle cx="637.5" cy="298.5" r="2.5"/><circle cx="637.5" cy="304.3" r="2.5"/><circle cx="637.5" cy="307.8" r="2.5"/><circle cx="637.5" cy="314.5" r="2.5"/><circle cx="637.5" cy="316.8" r="2.5"/><circle cx="637.5" cy="323.8" r="2.5"/><circle cx="637.5" cy="327.4" r="2.5"/><circle cx="637.5" cy="330.4" r="2.5"/><circle cx="637.5" cy="336.0" r="2.5"/><circle cx="637.5" cy="341.1" r="2.5"/><circle cx="637.5" cy="347.4" r="2.5"/><circle cx="637.5" cy="349.7" r="2.5"/><circle cx="637.5" cy="353.7" r="2.5"/><circle cx="637.5" cy="361.4" r="2.5"/><circle cx="637.5" cy="365.6" r="2.5"/><circle cx="637.5" cy="369.5" r="2.5"/><circle cx="637.5" cy="372.2" r="2.5"/><circle cx="637.5" cy="376.4" r="2.5"/><circle cx="637.5" cy="381.3" r="2.5"/><circle cx="637.5" cy="385.1" r="2.5"/><circle cx="637.5" cy="389.5" r="2.5"/><circle cx="637.5" cy="396.0" r="2.5"/><circle cx="637.5" cy="400.2" r="2.5"/><circle cx="637.5" cy="405.4" r="2.5"/><circle cx="637.5" cy="409.1" r="2.5"/><circle cx="637.5" cy="198.4" r="2.5"/><circle cx="637.5" cy="422.0" r="2.5"/><circle cx="637.5" cy="432.0" r="2.5"/><circle cx="637.5" cy="442.0" r="2.5"/><circle cx="637.5" cy="452.0" r="2.5"/><circle cx="637.5" cy="464.5" r="2.5"/><circle cx="637.5" cy="499.0" r="2.5"/><circle cx="637.5" cy="520.3" r="2.5"/><circle cx="670.8" cy="278.4" r="2.5"/><circle cx="670.8" cy="288.8" r="2.5"/><circle cx="670.8" cy="295.0" r="2.5"/><circle cx="670.8" cy="300.8" r="2.5"/><circle cx="670.8" cy="307.3" r="2.5"/><circle cx="670.8" cy="314.6" r="2.5"/><circle cx="670.8" cy="322.7" r="2.5"/><circle cx="670.8" cy="328.5" r="2.5"/><circle cx="670.8" cy="334.1" r="2.5"/><circle cx="670.8" cy="338.7" r="2.5"/><circle cx="670.8" cy="344.7" r="2.5"/><circle cx="670.8" cy="351.7" r="2.5"/><circle cx="670.8" cy="361.4" r="2.5"/><circle cx="670.8" cy="364.4" r="2.5"/><circle cx="670.8" cy="370.9" r="2.5"/><circle cx="670.8" cy="377.5" r="2.5"/><circle cx="670.8" cy="382.4" r="2.5"/><circle cx="670.8" cy="393.8" r="2.5"/><circle cx="670.8" cy="394.5" r="2.5"/><circle cx="670.8" cy="404.4" r="2.5"/><circle cx="670.8" cy="183.4" r="2.5"/><circle cx="670.8" cy="195.4" r="2.5"/><circle cx="670.8" cy="410.0" r="2.5"/><circle cx="670.8" cy="420.0" r="2.5"/><circle cx="670.8" cy="431.7" r="2.5"/><circle cx="670.8" cy="481.6" r="2.5"/><circle cx="704.0" cy="266.0" r="2.5"/><circle cx="704.0" cy="268.7" r="2.5"/><circle cx="704.0" cy="277.6" r="2.5"/><circle cx="704.0" cy="283.0" r="2.5"/><circle cx="704.0" cy="288.9" r="2.5"/><circle cx="704.0" cy="295.5" r="2.5"/><circle cx="704.0" cy="301.9" r="2.5"/><circle cx="704.0" cy="315.0" r="2.5"/><circle cx="704.0" cy="322.4" r="2.5"/><circle cx="704.0" cy="331.2" r="2.5"/><circle cx="704.0" cy="333.0" r="2.5"/><circle cx="704.0" cy="345.4" r="2.5"/><circle cx="737.3" cy="277.3" r="2.5"/><circle cx="737.3" cy="286.1" r="2.5"/><circle cx="737.3" cy="292.3" r="2.5"/><circle cx="737.3" cy="297.7" r="2.5"/><circle cx="737.3" cy="308.5" r="2.5"/><circle cx="737.3" cy="309.3" r="2.5"/><circle cx="737.3" cy="320.7" r="2.5"/><circle cx="737.3" cy="328.2" r="2.5"/><circle cx="737.3" cy="332.9" r="2.5"/><circle cx="737.3" cy="340.2" r="2.5"/><circle cx="737.3" cy="348.9" r="2.5"/><circle cx="737.3" cy="350.9" r="2.5"/><circle cx="737.3" cy="359.4" r="2.5"/><circle cx="737.3" cy="366.2" r="2.5"/><circle cx="737.3" cy="370.4" r="2.5"/><circle cx="737.3" cy="378.6" r="2.5"/><circle cx="737.3" cy="383.0" r="2.5"/><circle cx="737.3" cy="390.0" r="2.5"/><circle cx="737.3" cy="396.8" r="2.5"/><circle cx="737.3" cy="403.4" r="2.5"/><circle cx="737.3" cy="188.0" r="2.5"/><circle cx="737.3" cy="191.0" r="2.5"/><circle cx="737.3" cy="212.0" r="2.5"/><circle cx="737.3" cy="427.0" r="2.5"/><circle cx="737.3" cy="437.0" r="2.5"/><circle cx="737.3" cy="445.0" r="2.5"/><circle cx="737.3" cy="453.0" r="2.5"/><circle cx="737.3" cy="478.3" r="2.5"/><circle cx="770.6" cy="270.4" r="2.5"/><circle cx="770.6" cy="275.5" r="2.5"/><circle cx="770.6" cy="279.2" r="2.5"/><circle cx="770.6" cy="282.0" r="2.5"/><circle cx="770.6" cy="287.4" r="2.5"/><circle cx="770.6" cy="290.2" r="2.5"/><circle cx="770.6" cy="296.5" r="2.5"/><circle cx="770.6" cy="298.9" r="2.5"/><circle cx="770.6" cy="303.8" r="2.5"/><circle cx="770.6" cy="307.1" r="2.5"/><circle cx="770.6" cy="310.9" r="2.5"/><circle cx="770.6" cy="314.0" r="2.5"/><circle cx="770.6" cy="317.8" r="2.5"/><circle cx="770.6" cy="325.5" r="2.5"/><circle cx="770.6" cy="328.4" r="2.5"/><circle cx="770.6" cy="332.8" r="2.5"/><circle cx="770.6" cy="337.4" r="2.5"/><circle cx="770.6" cy="343.0" r="2.5"/><circle cx="770.6" cy="345.2" r="2.5"/><circle cx="770.6" cy="349.4" r="2.5"/><circle cx="770.6" cy="356.6" r="2.5"/><circle cx="770.6" cy="359.6" r="2.5"/><circle cx="770.6" cy="364.8" r="2.5"/><circle cx="770.6" cy="370.1" r="2.5"/><circle cx="770.6" cy="257.4" r="2.5"/><circle cx="770.6" cy="236.2" r="2.5"/><circle cx="770.6" cy="380.0" r="2.5"/><circle cx="770.6" cy="390.0" r="2.5"/><circle cx="770.6" cy="400.0" r="2.5"/><circle cx="770.6" cy="410.0" r="2.5"/><circle cx="770.6" cy="422.0" r="2.5"/><circle cx="803.8" cy="299.4" r="2.5"/><circle cx="803.8" cy="305.4" r="2.5"/><circle cx="803.8" cy="311.9" r="2.5"/><circle cx="803.8" cy="316.4" r="2.5"/><circle cx="803.8" cy="318.2" r="2.5"/><circle cx="803.8" cy="322.9" r="2.5"/><circle cx="803.8" cy="327.9" r="2.5"/><circle cx="803.8" cy="331.9" r="2.5"/><circle cx="803.8" cy="337.6" r="2.5"/><circle cx="803.8" cy="344.0" r="2.5"/><circle cx="803.8" cy="347.5" r="2.5"/><circle cx="803.8" cy="351.8" r="2.5"/><circle cx="803.8" cy="354.9" r="2.5"/><circle cx="803.8" cy="360.8" r="2.5"/><circle cx="803.8" cy="367.5" r="2.5"/><circle cx="803.8" cy="370.5" r="2.5"/><circle cx="803.8" cy="373.8" r="2.5"/><circle cx="803.8" cy="378.0" r="2.5"/><circle cx="803.8" cy="383.4" r="2.5"/><circle cx="803.8" cy="387.5" r="2.5"/><circle cx="803.8" cy="389.3" r="2.5"/><circle cx="803.8" cy="395.5" r="2.5"/><circle cx="803.8" cy="398.5" r="2.5"/><circle cx="803.8" cy="403.3" r="2.5"/><circle cx="803.8" cy="406.4" r="2.5"/><circle cx="803.8" cy="411.1" r="2.5"/><circle cx="803.8" cy="415.1" r="2.5"/><circle cx="803.8" cy="419.5" r="2.5"/><circle cx="803.8" cy="298.7" r="2.5"/><circle cx="803.8" cy="266.5" r="2.5"/><circle cx="803.8" cy="464.5" r="2.5"/><circle cx="803.8" cy="470.0" r="2.5"/><circle cx="803.8" cy="476.0" r="2.5"/><circle cx="803.8" cy="486.0" r="2.5"/><circle cx="803.8" cy="512.0" r="2.5"/><circle cx="837.1" cy="294.0" r="2.5"/><circle cx="837.1" cy="296.8" r="2.5"/><circle cx="837.1" cy="302.7" r="2.5"/><circle cx="837.1" cy="310.6" r="2.5"/><circle cx="837.1" cy="313.8" r="2.5"/><circle cx="837.1" cy="319.3" r="2.5"/><circle cx="837.1" cy="324.2" r="2.5"/><circle cx="837.1" cy="332.3" r="2.5"/><circle cx="837.1" cy="334.1" r="2.5"/><circle cx="837.1" cy="342.0" r="2.5"/><circle cx="837.1" cy="348.4" r="2.5"/><circle cx="837.1" cy="350.5" r="2.5"/><circle cx="837.1" cy="356.9" r="2.5"/><circle cx="837.1" cy="364.2" r="2.5"/><circle cx="837.1" cy="368.8" r="2.5"/><circle cx="837.1" cy="373.0" r="2.5"/><circle cx="837.1" cy="376.9" r="2.5"/><circle cx="837.1" cy="384.3" r="2.5"/><circle cx="837.1" cy="389.4" r="2.5"/><circle cx="837.1" cy="396.5" r="2.5"/><circle cx="837.1" cy="399.9" r="2.5"/><circle cx="837.1" cy="405.9" r="2.5"/><circle cx="837.1" cy="412.6" r="2.5"/><circle cx="837.1" cy="418.8" r="2.5"/><circle cx="837.1" cy="284.9" r="2.5"/><circle cx="837.1" cy="255.8" r="2.5"/><circle cx="837.1" cy="425.0" r="2.5"/><circle cx="837.1" cy="486.0" r="2.5"/><circle cx="837.1" cy="489.0" r="2.5"/><circle cx="837.1" cy="492.4" r="2.5"/><circle cx="870.3" cy="291.6" r="2.5"/><circle cx="870.3" cy="297.6" r="2.5"/><circle cx="870.3" cy="299.1" r="2.5"/><circle cx="870.3" cy="306.9" r="2.5"/><circle cx="870.3" cy="310.4" r="2.5"/><circle cx="870.3" cy="313.6" r="2.5"/><circle cx="870.3" cy="319.4" r="2.5"/><circle cx="870.3" cy="322.5" r="2.5"/><circle cx="870.3" cy="326.1" r="2.5"/><circle cx="870.3" cy="333.4" r="2.5"/><circle cx="870.3" cy="336.5" r="2.5"/><circle cx="870.3" cy="341.6" r="2.5"/><circle cx="870.3" cy="346.0" r="2.5"/><circle cx="870.3" cy="352.1" r="2.5"/><circle cx="870.3" cy="356.0" r="2.5"/><circle cx="870.3" cy="357.5" r="2.5"/><circle cx="870.3" cy="364.2" r="2.5"/><circle cx="870.3" cy="368.2" r="2.5"/><circle cx="870.3" cy="372.6" r="2.5"/><circle cx="870.3" cy="378.6" r="2.5"/><circle cx="870.3" cy="381.4" r="2.5"/><circle cx="870.3" cy="386.0" r="2.5"/><circle cx="870.3" cy="392.2" r="2.5"/><circle cx="870.3" cy="394.8" r="2.5"/><circle cx="870.3" cy="161.0" r="2.5"/><circle cx="870.3" cy="405.0" r="2.5"/><circle cx="870.3" cy="415.0" r="2.5"/><circle cx="870.3" cy="425.0" r="2.5"/><circle cx="870.3" cy="441.6" r="2.5"/><circle cx="903.6" cy="293.3" r="2.5"/><circle cx="903.6" cy="298.0" r="2.5"/><circle cx="903.6" cy="304.0" r="2.5"/><circle cx="903.6" cy="308.0" r="2.5"/><circle cx="903.6" cy="313.0" r="2.5"/><circle cx="903.6" cy="316.2" r="2.5"/><circle cx="903.6" cy="319.4" r="2.5"/><circle cx="903.6" cy="326.7" r="2.5"/><circle cx="903.6" cy="330.9" r="2.5"/><circle cx="903.6" cy="336.4" r="2.5"/><circle cx="903.6" cy="341.1" r="2.5"/><circle cx="903.6" cy="343.0" r="2.5"/><circle cx="903.6" cy="348.1" r="2.5"/><circle cx="903.6" cy="352.2" r="2.5"/><circle cx="903.6" cy="360.3" r="2.5"/><circle cx="903.6" cy="362.0" r="2.5"/><circle cx="903.6" cy="367.0" r="2.5"/><circle cx="903.6" cy="375.1" r="2.5"/><circle cx="903.6" cy="379.3" r="2.5"/><circle cx="903.6" cy="382.0" r="2.5"/><circle cx="903.6" cy="389.9" r="2.5"/><circle cx="903.6" cy="395.0" r="2.5"/><circle cx="903.6" cy="399.0" r="2.5"/><circle cx="903.6" cy="402.1" r="2.5"/><circle cx="903.6" cy="410.0" r="2.5"/><circle cx="903.6" cy="413.8" r="2.5"/><circle cx="903.6" cy="419.6" r="2.5"/><circle cx="903.6" cy="426.5" r="2.5"/><circle cx="903.6" cy="276.6" r="2.5"/><circle cx="903.6" cy="246.2" r="2.5"/><circle cx="903.6" cy="430.0" r="2.5"/><circle cx="903.6" cy="440.0" r="2.5"/><circle cx="903.6" cy="450.0" r="2.5"/><circle cx="903.6" cy="460.0" r="2.5"/><circle cx="903.6" cy="470.0" r="2.5"/><circle cx="903.6" cy="480.0" r="2.5"/><circle cx="903.6" cy="490.0" r="2.5"/><circle cx="903.6" cy="500.6" r="2.5"/><circle cx="936.9" cy="278.0" r="2.5"/><circle cx="936.9" cy="284.8" r="2.5"/><circle cx="936.9" cy="291.5" r="2.5"/><circle cx="936.9" cy="294.7" r="2.5"/><circle cx="936.9" cy="305.5" r="2.5"/><circle cx="936.9" cy="307.6" r="2.5"/><circle cx="936.9" cy="313.3" r="2.5"/><circle cx="936.9" cy="319.4" r="2.5"/><circle cx="936.9" cy="324.8" r="2.5"/><circle cx="936.9" cy="333.8" r="2.5"/><circle cx="936.9" cy="338.0" r="2.5"/><circle cx="936.9" cy="343.5" r="2.5"/><circle cx="936.9" cy="348.8" r="2.5"/><circle cx="936.9" cy="352.7" r="2.5"/><circle cx="936.9" cy="359.3" r="2.5"/><circle cx="936.9" cy="365.6" r="2.5"/><circle cx="936.9" cy="369.6" r="2.5"/><circle cx="936.9" cy="374.0" r="2.5"/><circle cx="936.9" cy="376.0" r="2.5"/><circle cx="936.9" cy="380.0" r="2.5"/><circle cx="936.9" cy="383.6" r="2.5"/><circle cx="936.9" cy="389.7" r="2.5"/><circle cx="936.9" cy="393.3" r="2.5"/><circle cx="936.9" cy="397.9" r="2.5"/><circle cx="936.9" cy="402.2" r="2.5"/><circle cx="936.9" cy="406.8" r="2.5"/><circle cx="936.9" cy="410.2" r="2.5"/><circle cx="936.9" cy="416.0" r="2.5"/><circle cx="936.9" cy="272.6" r="2.5"/><circle cx="936.9" cy="220.5" r="2.5"/><circle cx="936.9" cy="425.0" r="2.5"/><circle cx="936.9" cy="435.0" r="2.5"/><circle cx="936.9" cy="445.0" r="2.5"/><circle cx="936.9" cy="455.0" r="2.5"/><circle cx="936.9" cy="465.0" r="2.5"/><circle cx="936.9" cy="477.7" r="2.5"/><circle cx="970.1" cy="282.2" r="2.5"/><circle cx="970.1" cy="286.0" r="2.5"/><circle cx="970.1" cy="294.5" r="2.5"/><circle cx="970.1" cy="302.8" r="2.5"/><circle cx="970.1" cy="308.9" r="2.5"/><circle cx="970.1" cy="316.8" r="2.5"/><circle cx="970.1" cy="322.2" r="2.5"/><circle cx="970.1" cy="328.7" r="2.5"/><circle cx="970.1" cy="338.9" r="2.5"/><circle cx="970.1" cy="342.7" r="2.5"/><circle cx="970.1" cy="352.2" r="2.5"/><circle cx="970.1" cy="359.6" r="2.5"/><circle cx="970.1" cy="364.9" r="2.5"/><circle cx="970.1" cy="370.6" r="2.5"/><circle cx="970.1" cy="379.8" r="2.5"/><circle cx="970.1" cy="383.4" r="2.5"/><circle cx="970.1" cy="392.3" r="2.5"/><circle cx="970.1" cy="394.0" r="2.5"/><circle cx="970.1" cy="402.6" r="2.5"/><circle cx="970.1" cy="410.2" r="2.5"/><circle cx="970.1" cy="413.2" r="2.5"/><circle cx="970.1" cy="424.3" r="2.5"/><circle cx="970.1" cy="426.2" r="2.5"/><circle cx="970.1" cy="435.6" r="2.5"/><circle cx="970.1" cy="274.4" r="2.5"/><circle cx="970.1" cy="220.5" r="2.5"/><circle cx="970.1" cy="445.0" r="2.5"/><circle cx="970.1" cy="455.0" r="2.5"/><circle cx="970.1" cy="465.0" r="2.5"/><circle cx="970.1" cy="475.0" r="2.5"/><circle cx="970.1" cy="485.0" r="2.5"/><circle cx="970.1" cy="495.0" r="2.5"/><circle cx="970.1" cy="500.6" r="2.5"/><circle cx="970.1" cy="527.0" r="2.5"/><circle cx="1003.4" cy="280.7" r="2.5"/><circle cx="1003.4" cy="289.6" r="2.5"/><circle cx="1003.4" cy="295.0" r="2.5"/><circle cx="1003.4" cy="303.5" r="2.5"/><circle cx="1003.4" cy="310.9" r="2.5"/><circle cx="1003.4" cy="315.8" r="2.5"/><circle cx="1003.4" cy="322.6" r="2.5"/><circle cx="1003.4" cy="334.1" r="2.5"/><circle cx="1003.4" cy="336.9" r="2.5"/><circle cx="1003.4" cy="349.4" r="2.5"/><circle cx="1003.4" cy="352.1" r="2.5"/><circle cx="1003.4" cy="359.1" r="2.5"/><circle cx="1003.4" cy="366.9" r="2.5"/><circle cx="1003.4" cy="379.4" r="2.5"/><circle cx="1003.4" cy="388.3" r="2.5"/><circle cx="1003.4" cy="392.3" r="2.5"/><circle cx="1003.4" cy="401.8" r="2.5"/><circle cx="1003.4" cy="406.7" r="2.5"/><circle cx="1003.4" cy="419.0" r="2.5"/><circle cx="1003.4" cy="425.2" r="2.5"/><circle cx="1003.4" cy="273.5" r="2.5"/><circle cx="1003.4" cy="242.3" r="2.5"/><circle cx="1003.4" cy="430.0" r="2.5"/><circle cx="1003.4" cy="435.0" r="2.5"/><circle cx="1003.4" cy="506.0" r="2.5"/><circle cx="1036.6" cy="312.7" r="2.5"/><circle cx="1036.6" cy="315.2" r="2.5"/><circle cx="1036.6" cy="325.5" r="2.5"/><circle cx="1036.6" cy="328.6" r="2.5"/><circle cx="1036.6" cy="334.3" r="2.5"/><circle cx="1036.6" cy="342.2" r="2.5"/><circle cx="1036.6" cy="346.8" r="2.5"/><circle cx="1036.6" cy="354.1" r="2.5"/><circle cx="1036.6" cy="357.9" r="2.5"/><circle cx="1036.6" cy="368.1" r="2.5"/><circle cx="1036.6" cy="370.9" r="2.5"/><circle cx="1036.6" cy="379.7" r="2.5"/><circle cx="1036.6" cy="382.1" r="2.5"/><circle cx="1036.6" cy="392.0" r="2.5"/><circle cx="1036.6" cy="399.3" r="2.5"/><circle cx="1036.6" cy="402.3" r="2.5"/><circle cx="1036.6" cy="406.5" r="2.5"/><circle cx="1036.6" cy="414.8" r="2.5"/><circle cx="1036.6" cy="422.5" r="2.5"/><circle cx="1036.6" cy="426.5" r="2.5"/><circle cx="1036.6" cy="434.6" r="2.5"/><circle cx="1036.6" cy="438.3" r="2.5"/><circle cx="1036.6" cy="446.7" r="2.5"/><circle cx="1036.6" cy="454.4" r="2.5"/><circle cx="1036.6" cy="300.2" r="2.5"/><circle cx="1036.6" cy="262.8" r="2.5"/><circle cx="1036.6" cy="465.0" r="2.5"/><circle cx="1036.6" cy="470.0" r="2.5"/><circle cx="1036.6" cy="477.7" r="2.5"/><circle cx="1036.6" cy="510.5" r="2.5"/><circle cx="1036.6" cy="518.0" r="2.5"/><circle cx="1036.6" cy="526.0" r="2.5"/><circle cx="1036.6" cy="533.5" r="2.5"/><circle cx="1069.9" cy="351.9" r="2.5"/><circle cx="1069.9" cy="358.0" r="2.5"/><circle cx="1069.9" cy="359.3" r="2.5"/><circle cx="1069.9" cy="365.8" r="2.5"/><circle cx="1069.9" cy="369.7" r="2.5"/><circle cx="1069.9" cy="373.3" r="2.5"/><circle cx="1069.9" cy="375.6" r="2.5"/><circle cx="1069.9" cy="378.5" r="2.5"/><circle cx="1069.9" cy="382.5" r="2.5"/><circle cx="1069.9" cy="387.5" r="2.5"/><circle cx="1069.9" cy="390.4" r="2.5"/><circle cx="1069.9" cy="395.6" r="2.5"/><circle cx="1069.9" cy="396.5" r="2.5"/><circle cx="1069.9" cy="401.5" r="2.5"/><circle cx="1069.9" cy="406.5" r="2.5"/><circle cx="1069.9" cy="409.4" r="2.5"/><circle cx="1069.9" cy="412.9" r="2.5"/><circle cx="1069.9" cy="415.1" r="2.5"/><circle cx="1069.9" cy="419.0" r="2.5"/><circle cx="1069.9" cy="423.2" r="2.5"/><circle cx="1069.9" cy="428.6" r="2.5"/><circle cx="1069.9" cy="431.8" r="2.5"/><circle cx="1069.9" cy="433.3" r="2.5"/><circle cx="1069.9" cy="438.7" r="2.5"/><circle cx="1069.9" cy="439.4" r="2.5"/><circle cx="1069.9" cy="444.4" r="2.5"/><circle cx="1069.9" cy="448.8" r="2.5"/><circle cx="1069.9" cy="450.3" r="2.5"/><circle cx="1069.9" cy="455.4" r="2.5"/><circle cx="1069.9" cy="457.9" r="2.5"/><circle cx="1069.9" cy="459.4" r="2.5"/><circle cx="1069.9" cy="463.6" r="2.5"/><circle cx="1069.9" cy="467.3" r="2.5"/><circle cx="1069.9" cy="470.0" r="2.5"/><circle cx="1069.9" cy="474.8" r="2.5"/><circle cx="1069.9" cy="476.5" r="2.5"/><circle cx="1069.9" cy="481.6" r="2.5"/><circle cx="1069.9" cy="483.5" r="2.5"/><circle cx="1069.9" cy="486.1" r="2.5"/><circle cx="1069.9" cy="490.9" r="2.5"/><circle cx="1069.9" cy="275.0" r="2.5"/><circle cx="1069.9" cy="279.0" r="2.5"/><circle cx="1069.9" cy="283.0" r="2.5"/><circle cx="1069.9" cy="287.0" r="2.5"/><circle cx="1069.9" cy="291.0" r="2.5"/><circle cx="1069.9" cy="295.0" r="2.5"/><circle cx="1069.9" cy="299.0" r="2.5"/><circle cx="1069.9" cy="303.0" r="2.5"/><circle cx="1069.9" cy="307.0" r="2.5"/><circle cx="1069.9" cy="311.0" r="2.5"/><circle cx="1069.9" cy="315.0" r="2.5"/><circle cx="1069.9" cy="319.0" r="2.5"/><circle cx="1069.9" cy="323.0" r="2.5"/><circle cx="1069.9" cy="327.0" r="2.5"/><circle cx="1069.9" cy="331.0" r="2.5"/><circle cx="1069.9" cy="335.0" r="2.5"/><circle cx="1069.9" cy="339.0" r="2.5"/><circle cx="1069.9" cy="343.0" r="2.5"/><circle cx="1069.9" cy="347.0" r="2.5"/><circle cx="1069.9" cy="495.0" r="2.5"/><circle cx="1069.9" cy="500.0" r="2.5"/><circle cx="1069.9" cy="505.0" r="2.5"/><circle cx="1069.9" cy="510.0" r="2.5"/><circle cx="1069.9" cy="515.0" r="2.5"/><circle cx="1069.9" cy="520.0" r="2.5"/><circle cx="1069.9" cy="525.0" r="2.5"/><circle cx="1069.9" cy="530.0" r="2.5"/><circle cx="1069.9" cy="535.0" r="2.5"/><circle cx="1069.9" cy="540.0" r="2.5"/><circle cx="1069.9" cy="545.0" r="2.5"/><circle cx="1069.9" cy="550.0" r="2.5"/><circle cx="1069.9" cy="556.4" r="2.5"/><circle cx="1103.2" cy="322.7" r="2.5"/><circle cx="1103.2" cy="329.8" r="2.5"/><circle cx="1103.2" cy="335.9" r="2.5"/><circle cx="1103.2" cy="340.1" r="2.5"/><circle cx="1103.2" cy="344.5" r="2.5"/><circle cx="1103.2" cy="347.6" r="2.5"/><circle cx="1103.2" cy="354.8" r="2.5"/><circle cx="1103.2" cy="358.0" r="2.5"/><circle cx="1103.2" cy="365.5" r="2.5"/><circle cx="1103.2" cy="368.2" r="2.5"/><circle cx="1103.2" cy="375.3" r="2.5"/><circle cx="1103.2" cy="379.3" r="2.5"/><circle cx="1103.2" cy="384.5" r="2.5"/><circle cx="1103.2" cy="390.8" r="2.5"/><circle cx="1103.2" cy="393.6" r="2.5"/><circle cx="1103.2" cy="398.7" r="2.5"/><circle cx="1103.2" cy="407.3" r="2.5"/><circle cx="1103.2" cy="409.6" r="2.5"/><circle cx="1103.2" cy="416.9" r="2.5"/><circle cx="1103.2" cy="422.1" r="2.5"/><circle cx="1103.2" cy="425.4" r="2.5"/><circle cx="1103.2" cy="429.0" r="2.5"/><circle cx="1103.2" cy="433.8" r="2.5"/><circle cx="1103.2" cy="442.4" r="2.5"/><circle cx="1103.2" cy="297.0" r="2.5"/><circle cx="1103.2" cy="305.0" r="2.5"/><circle cx="1103.2" cy="313.0" r="2.5"/><circle cx="1103.2" cy="321.0" r="2.5"/><circle cx="1103.2" cy="450.0" r="2.5"/><circle cx="1103.2" cy="460.0" r="2.5"/><circle cx="1103.2" cy="470.0" r="2.5"/><circle cx="1103.2" cy="480.0" r="2.5"/><circle cx="1103.2" cy="490.0" r="2.5"/><circle cx="1103.2" cy="500.0" r="2.5"/><circle cx="1103.2" cy="510.0" r="2.5"/><circle cx="1103.2" cy="520.0" r="2.5"/><circle cx="1103.2" cy="530.0" r="2.5"/><circle cx="1136.4" cy="297.9" r="2.5"/><circle cx="1136.4" cy="305.5" r="2.5"/><circle cx="1136.4" cy="311.4" r="2.5"/><circle cx="1136.4" cy="315.0" r="2.5"/><circle cx="1136.4" cy="322.5" r="2.5"/><circle cx="1136.4" cy="326.6" r="2.5"/><circle cx="1136.4" cy="334.2" r="2.5"/><circle cx="1136.4" cy="339.8" r="2.5"/><circle cx="1136.4" cy="344.8" r="2.5"/><circle cx="1136.4" cy="349.6" r="2.5"/><circle cx="1136.4" cy="356.4" r="2.5"/><circle cx="1136.4" cy="361.2" r="2.5"/><circle cx="1136.4" cy="366.6" r="2.5"/><circle cx="1136.4" cy="372.9" r="2.5"/><circle cx="1136.4" cy="382.0" r="2.5"/><circle cx="1136.4" cy="385.9" r="2.5"/><circle cx="1136.4" cy="393.7" r="2.5"/><circle cx="1136.4" cy="395.0" r="2.5"/><circle cx="1136.4" cy="405.6" r="2.5"/><circle cx="1136.4" cy="409.0" r="2.5"/><circle cx="1136.4" cy="284.8" r="2.5"/><circle cx="1136.4" cy="262.6" r="2.5"/><circle cx="1136.4" cy="420.0" r="2.5"/><circle cx="1136.4" cy="430.0" r="2.5"/><circle cx="1136.4" cy="437.0" r="2.5"/><circle cx="1136.4" cy="444.8" r="2.5"/><circle cx="1169.7" cy="343.6" r="2.5"/><circle cx="1169.7" cy="346.8" r="2.5"/><circle cx="1169.7" cy="354.8" r="2.5"/><circle cx="1169.7" cy="357.3" r="2.5"/><circle cx="1169.7" cy="363.3" r="2.5"/><circle cx="1169.7" cy="367.6" r="2.5"/><circle cx="1169.7" cy="374.8" r="2.5"/><circle cx="1169.7" cy="380.9" r="2.5"/><circle cx="1169.7" cy="385.2" r="2.5"/><circle cx="1169.7" cy="393.6" r="2.5"/><circle cx="1169.7" cy="395.1" r="2.5"/><circle cx="1169.7" cy="403.0" r="2.5"/><circle cx="1169.7" cy="406.7" r="2.5"/><circle cx="1169.7" cy="413.7" r="2.5"/><circle cx="1169.7" cy="419.9" r="2.5"/><circle cx="1169.7" cy="424.8" r="2.5"/><circle cx="1169.7" cy="427.0" r="2.5"/><circle cx="1169.7" cy="433.2" r="2.5"/><circle cx="1169.7" cy="440.2" r="2.5"/><circle cx="1169.7" cy="447.3" r="2.5"/><circle cx="1169.7" cy="448.1" r="2.5"/><circle cx="1169.7" cy="456.1" r="2.5"/><circle cx="1169.7" cy="461.8" r="2.5"/><circle cx="1169.7" cy="467.7" r="2.5"/><circle cx="1169.7" cy="334.0" r="2.5"/><circle cx="1169.7" cy="296.3" r="2.5"/><circle cx="1169.7" cy="475.0" r="2.5"/><circle cx="1169.7" cy="480.0" r="2.5"/><circle cx="1169.7" cy="489.0" r="2.5"/><circle cx="1169.7" cy="494.0" r="2.5"/><circle cx="1169.7" cy="500.0" r="2.5"/><circle cx="1169.7" cy="537.4" r="2.5"/><circle cx="1202.9" cy="343.5" r="2.5"/><circle cx="1202.9" cy="348.0" r="2.5"/><circle cx="1202.9" cy="348.6" r="2.5"/><circle cx="1202.9" cy="354.4" r="2.5"/><circle cx="1202.9" cy="356.1" r="2.5"/><circle cx="1202.9" cy="359.3" r="2.5"/><circle cx="1202.9" cy="361.6" r="2.5"/><circle cx="1202.9" cy="365.2" r="2.5"/><circle cx="1202.9" cy="369.8" r="2.5"/><circle cx="1202.9" cy="372.8" r="2.5"/><circle cx="1202.9" cy="374.5" r="2.5"/><circle cx="1202.9" cy="378.3" r="2.5"/><circle cx="1202.9" cy="380.9" r="2.5"/><circle cx="1202.9" cy="384.6" r="2.5"/><circle cx="1202.9" cy="388.2" r="2.5"/><circle cx="1202.9" cy="392.0" r="2.5"/><circle cx="1202.9" cy="397.6" r="2.5"/><circle cx="1202.9" cy="401.2" r="2.5"/><circle cx="1202.9" cy="404.0" r="2.5"/><circle cx="1202.9" cy="406.5" r="2.5"/><circle cx="1202.9" cy="410.1" r="2.5"/><circle cx="1202.9" cy="414.5" r="2.5"/><circle cx="1202.9" cy="418.4" r="2.5"/><circle cx="1202.9" cy="421.4" r="2.5"/><circle cx="1202.9" cy="335.4" r="2.5"/><circle cx="1202.9" cy="322.7" r="2.5"/><circle cx="1202.9" cy="430.0" r="2.5"/><circle cx="1202.9" cy="440.0" r="2.5"/><circle cx="1202.9" cy="450.0" r="2.5"/><circle cx="1202.9" cy="463.0" r="2.5"/><circle cx="1236.2" cy="385.8" r="2.5"/><circle cx="1236.2" cy="393.1" r="2.5"/><circle cx="1236.2" cy="399.0" r="2.5"/><circle cx="1236.2" cy="401.3" r="2.5"/><circle cx="1236.2" cy="410.9" r="2.5"/><circle cx="1236.2" cy="415.0" r="2.5"/><circle cx="1236.2" cy="420.1" r="2.5"/><circle cx="1236.2" cy="430.7" r="2.5"/><circle cx="1236.2" cy="435.2" r="2.5"/><circle cx="1236.2" cy="441.8" r="2.5"/><circle cx="1236.2" cy="444.5" r="2.5"/><circle cx="1236.2" cy="454.4" r="2.5"/><circle cx="1236.2" cy="461.0" r="2.5"/><circle cx="1236.2" cy="466.9" r="2.5"/><circle cx="1236.2" cy="472.1" r="2.5"/><circle cx="1236.2" cy="478.6" r="2.5"/><circle cx="1236.2" cy="484.5" r="2.5"/><circle cx="1236.2" cy="489.4" r="2.5"/><circle cx="1236.2" cy="494.6" r="2.5"/><circle cx="1236.2" cy="502.7" r="2.5"/><circle cx="1236.2" cy="369.0" r="2.5"/><circle cx="1236.2" cy="339.9" r="2.5"/><circle cx="1236.2" cy="507.7" r="2.5"/><circle cx="1236.2" cy="526.0" r="2.5"/><circle cx="1236.2" cy="550.4" r="2.5"/><circle cx="1269.5" cy="342.1" r="2.5"/><circle cx="1269.5" cy="347.5" r="2.5"/><circle cx="1269.5" cy="349.6" r="2.5"/><circle cx="1269.5" cy="354.3" r="2.5"/><circle cx="1269.5" cy="355.2" r="2.5"/><circle cx="1269.5" cy="361.2" r="2.5"/><circle cx="1269.5" cy="364.1" r="2.5"/><circle cx="1269.5" cy="365.9" r="2.5"/><circle cx="1269.5" cy="371.1" r="2.5"/><circle cx="1269.5" cy="372.7" r="2.5"/><circle cx="1269.5" cy="376.0" r="2.5"/><circle cx="1269.5" cy="380.2" r="2.5"/><circle cx="1269.5" cy="382.9" r="2.5"/><circle cx="1269.5" cy="387.1" r="2.5"/><circle cx="1269.5" cy="391.8" r="2.5"/><circle cx="1269.5" cy="394.6" r="2.5"/><circle cx="1269.5" cy="398.0" r="2.5"/><circle cx="1269.5" cy="400.5" r="2.5"/><circle cx="1269.5" cy="405.1" r="2.5"/><circle cx="1269.5" cy="408.5" r="2.5"/><circle cx="1269.5" cy="411.6" r="2.5"/><circle cx="1269.5" cy="415.8" r="2.5"/><circle cx="1269.5" cy="418.8" r="2.5"/><circle cx="1269.5" cy="421.0" r="2.5"/><circle cx="1269.5" cy="423.4" r="2.5"/><circle cx="1269.5" cy="428.5" r="2.5"/><circle cx="1269.5" cy="432.5" r="2.5"/><circle cx="1269.5" cy="434.4" r="2.5"/><circle cx="1269.5" cy="438.6" r="2.5"/><circle cx="1269.5" cy="442.7" r="2.5"/><circle cx="1269.5" cy="446.0" r="2.5"/><circle cx="1269.5" cy="447.0" r="2.5"/><circle cx="1269.5" cy="336.2" r="2.5"/><circle cx="1269.5" cy="324.4" r="2.5"/><circle cx="1269.5" cy="307.1" r="2.5"/><circle cx="1269.5" cy="470.6" r="2.5"/><circle cx="1269.5" cy="480.0" r="2.5"/><circle cx="1269.5" cy="490.0" r="2.5"/><circle cx="1269.5" cy="500.0" r="2.5"/><circle cx="1269.5" cy="507.7" r="2.5"/><circle cx="1269.5" cy="543.0" r="2.5"/><circle cx="1302.7" cy="381.0" r="2.5"/><circle cx="1302.7" cy="385.2" r="2.5"/><circle cx="1302.7" cy="392.7" r="2.5"/><circle cx="1302.7" cy="398.3" r="2.5"/><circle cx="1302.7" cy="404.0" r="2.5"/><circle cx="1302.7" cy="409.7" r="2.5"/><circle cx="1302.7" cy="417.0" r="2.5"/><circle cx="1302.7" cy="426.2" r="2.5"/><circle cx="1302.7" cy="431.4" r="2.5"/><circle cx="1302.7" cy="435.9" r="2.5"/><circle cx="1302.7" cy="441.2" r="2.5"/><circle cx="1302.7" cy="448.7" r="2.5"/><circle cx="1302.7" cy="456.9" r="2.5"/><circle cx="1302.7" cy="461.1" r="2.5"/><circle cx="1302.7" cy="467.7" r="2.5"/><circle cx="1302.7" cy="473.8" r="2.5"/><circle cx="1302.7" cy="475.9" r="2.5"/><circle cx="1302.7" cy="484.2" r="2.5"/><circle cx="1302.7" cy="486.5" r="2.5"/><circle cx="1302.7" cy="495.8" r="2.5"/><circle cx="1302.7" cy="498.1" r="2.5"/><circle cx="1302.7" cy="504.0" r="2.5"/><circle cx="1302.7" cy="512.9" r="2.5"/><circle cx="1302.7" cy="515.4" r="2.5"/><circle cx="1302.7" cy="371.3" r="2.5"/><circle cx="1302.7" cy="322.7" r="2.5"/><circle cx="1302.7" cy="584.0" r="2.5"/></g>
<text transform="translate(68.9 235.0) rotate(-90)" font-size="9" stroke="#000" stroke-width="0.3">Hippocampus</text>
<text transform="translate(102.2 286.5) rotate(-90)" font-size="9" stroke="#000" stroke-width="0.3">Anterior cingulate</text>
<text transform="translate(135.4 327.5) rotate(-90)" font-size="9" stroke="#000" stroke-width="0.3">Transverse temporal gyrus</text>
<text transform="translate(168.7 289.9) rotate(-90)" font-size="9" stroke="#000" stroke-width="0.3">Temporal pole and planum polare</text>
<text transform="translate(201.9 289.9) rotate(-90)" font-size="9" stroke="#000" stroke-width="0.3">Amygdala</text>
<text transform="translate(235.2 275.3) rotate(-90)" font-size="9" stroke="#000" stroke-width="0.3">Gyrus rectus and orbital gyri</text>
<text transform="translate(268.5 348.2) rotate(-90)" font-size="9" stroke="#000" stroke-width="0.3">Middle cingulate</text>
<text transform="translate(301.7 292.2) rotate(-90)" font-size="9" stroke="#000" stroke-width="0.3">Medial segment of superior frontal gyrus</text>
<text transform="translate(335.0 320.3) rotate(-90)" font-size="9" stroke="#000" stroke-width="0.3">Posterior cingulate</text>
<text transform="translate(368.2 310.5) rotate(-90)" font-size="9" stroke="#000" stroke-width="0.3">Triangular part of inferior frontal gyrus</text>
<text transform="translate(401.5 347.7) rotate(-90)" font-size="9" stroke="#000" stroke-width="0.3">Supplementary motor cortex</text>
<text transform="translate(434.8 342.3) rotate(-90)" font-size="9" stroke="#000" stroke-width="0.3">Planum temporale</text>
<text transform="translate(468.0 329.1) rotate(-90)" font-size="9" stroke="#000" stroke-width="0.3">Superior temporal gyrus</text>
<text transform="translate(501.3 323.5) rotate(-90)" font-size="9" stroke="#000" stroke-width="0.3">Middle frontal gyrus</text>
<text transform="translate(534.5 308.2) rotate(-90)" font-size="9" stroke="#000" stroke-width="0.3">Inferior occipital gyrus and occipital pole</text>
<text transform="translate(567.8 350.5) rotate(-90)" font-size="9" stroke="#000" stroke-width="0.3">Calcarine cortex</text>
<text transform="translate(601.1 297.5) rotate(-90)" font-size="9" stroke="#000" stroke-width="0.3">Middle temporal gyrus</text>
<text transform="translate(634.3 323.5) rotate(-90)" font-size="9" stroke="#000" stroke-width="0.3">Anterior insula</text>
<text transform="translate(667.6 318.0) rotate(-90)" font-size="9" stroke="#000" stroke-width="0.3">Posterior insula</text>
<text transform="translate(700.8 276.2) rotate(-90)" font-size="9" stroke="#000" stroke-width="0.3">Medial frontal cortex</text>
<text transform="translate(734.1 318.5) rotate(-90)" font-size="9" stroke="#000" stroke-width="0.3">Precuneus</text>
<text transform="translate(767.4 292.5) rotate(-90)" font-size="9" stroke="#000" stroke-width="0.3">Angular gyrus</text>
<text transform="translate(800.6 339.0) rotate(-90)" font-size="9" stroke="#000" stroke-width="0.3">Inferior temporal gyrus</text>
<text transform="translate(833.9 330.1) rotate(-90)" font-size="9" stroke="#000" stroke-width="0.3">Orbital part of inferior frontal gyrus</text>
<text transform="translate(867.1 319.3) rotate(-90)" font-size="9" stroke="#000" stroke-width="0.3">Supramarginal gyrus</text>
<text transform="translate(900.4 331.8) rotate(-90)" font-size="9" stroke="#000" stroke-width="0.3">Superior frontal gyrus and frontal pole</text>
<text transform="translate(933.7 333.4) rotate(-90)" font-size="9" stroke="#000" stroke-width="0.3">Opercular part of inferior frontal gyrus</text>
<text transform="translate(966.9 336.7) rotate(-90)" font-size="9" stroke="#000" stroke-width="0.3">Superior parietal lobule</text>
<text transform="translate(1000.2 325.8) rotate(-90)" font-size="9" stroke="#000" stroke-width="0.3">Superior and middle occipital gyri</text>
<text transform="translate(1033.4 356.4) rotate(-90)" font-size="9" stroke="#000" stroke-width="0.3">Central operculum</text>
<text transform="translate(1066.7 401.3) rotate(-90)" font-size="9" stroke="#000" stroke-width="0.3">Precentral gyrus</text>
<text transform="translate(1100.0 358.0) rotate(-90)" font-size="9" stroke="#000" stroke-width="0.3">Parietal operculum</text>
<text transform="translate(1133.2 329.5) rotate(-90)" font-size="9" stroke="#000" stroke-width="0.3">Frontal operculum</text>
<text transform="translate(1166.5 380.8) rotate(-90)" font-size="9" stroke="#000" stroke-width="0.3">Lingual gyrus and occipital fusiform gyrus</text>
<text transform="translate(1199.7 355.8) rotate(-90)" font-size="9" stroke="#000" stroke-width="0.3">Fusiform and parahippocampal gyri</text>
<text transform="translate(1233.0 419.0) rotate(-90)" font-size="9" stroke="#000" stroke-width="0.3">Cuneus</text>
<text transform="translate(1266.3 371.2) rotate(-90)" font-size="9" stroke="#000" stroke-width="0.3">Postcentral gyrus (including medial segment)</text>
<text transform="translate(1299.5 428.7) rotate(-90)" font-size="9" stroke="#000" stroke-width="0.3">Medial segment of precentral gyrus</text>
<circle cx="72.1" cy="259.5" r="3.8" fill="#fff" stroke="#ff0010" stroke-width="2.5"/>
<circle cx="105.4" cy="311.0" r="3.8" fill="#fff" stroke="#ff0010" stroke-width="2.5"/>
<circle cx="138.6" cy="352.0" r="3.8" fill="#fff" stroke="#ff0010" stroke-width="2.5"/>
<circle cx="171.9" cy="314.4" r="3.8" fill="#fff" stroke="#ff0010" stroke-width="2.5"/>
<circle cx="205.1" cy="314.4" r="3.8" fill="#fff" stroke="#ff0010" stroke-width="2.5"/>
<circle cx="238.4" cy="299.8" r="3.8" fill="#fff" stroke="#ff0010" stroke-width="2.5"/>
<circle cx="271.7" cy="372.7" r="3.8" fill="#fff" stroke="#ff0010" stroke-width="2.5"/>
<circle cx="304.9" cy="316.7" r="3.8" fill="#fff" stroke="#ff0010" stroke-width="2.5"/>
<circle cx="338.2" cy="344.8" r="3.8" fill="#fff" stroke="#ff0010" stroke-width="2.5"/>
<circle cx="371.4" cy="335.0" r="3.8" fill="#fff" stroke="#ff0010" stroke-width="2.5"/>
<circle cx="404.7" cy="372.2" r="3.8" fill="#fff" stroke="#ff0010" stroke-width="2.5"/>
<circle cx="438.0" cy="366.8" r="3.8" fill="#fff" stroke="#ff0010" stroke-width="2.5"/>
<circle cx="471.2" cy="353.6" r="3.8" fill="#fff" stroke="#ff0010" stroke-width="2.5"/>
<circle cx="504.5" cy="348.0" r="3.8" fill="#fff" stroke="#ff0010" stroke-width="2.5"/>
<circle cx="537.7" cy="332.7" r="3.8" fill="#fff" stroke="#ff0010" stroke-width="2.5"/>
<circle cx="571.0" cy="375.0" r="3.8" fill="#fff" stroke="#ff0010" stroke-width="2.5"/>
<circle cx="604.3" cy="322.0" r="3.8" fill="#fff" stroke="#ff0010" stroke-width="2.5"/>
<circle cx="637.5" cy="348.0" r="3.8" fill="#fff" stroke="#ff0010" stroke-width="2.5"/>
<circle cx="670.8" cy="342.5" r="3.8" fill="#fff" stroke="#ff0010" stroke-width="2.5"/>
<circle cx="704.0" cy="300.7" r="3.8" fill="#fff" stroke="#ff0010" stroke-width="2.5"/>
<circle cx="737.3" cy="343.0" r="3.8" fill="#fff" stroke="#ff0010" stroke-width="2.5"/>
<circle cx="770.6" cy="317.0" r="3.8" fill="#fff" stroke="#ff0010" stroke-width="2.5"/>
<circle cx="803.8" cy="363.5" r="3.8" fill="#fff" stroke="#ff0010" stroke-width="2.5"/>
<circle cx="837.1" cy="354.6" r="3.8" fill="#fff" stroke="#ff0010" stroke-width="2.5"/>
<circle cx="870.3" cy="343.8" r="3.8" fill="#fff" stroke="#ff0010" stroke-width="2.5"/>
<circle cx="903.6" cy="356.3" r="3.8" fill="#fff" stroke="#ff0010" stroke-width="2.5"/>
<circle cx="936.9" cy="357.9" r="3.8" fill="#fff" stroke="#ff0010" stroke-width="2.5"/>
<circle cx="970.1" cy="361.2" r="3.8" fill="#fff" stroke="#ff0010" stroke-width="2.5"/>
<circle cx="1003.4" cy="350.3" r="3.8" fill="#fff" stroke="#ff0010" stroke-width="2.5"/>
<circle cx="1036.6" cy="380.9" r="3.8" fill="#fff" stroke="#ff0010" stroke-width="2.5"/>
<circle cx="1069.9" cy="425.8" r="3.8" fill="#fff" stroke="#ff0010" stroke-width="2.5"/>
<circle cx="1103.2" cy="382.5" r="3.8" fill="#fff" stroke="#ff0010" stroke-width="2.5"/>
<circle cx="1136.4" cy="354.0" r="3.8" fill="#fff" stroke="#ff0010" stroke-width="2.5"/>
<circle cx="1169.7" cy="405.3" r="3.8" fill="#fff" stroke="#ff0010" stroke-width="2.5"/>
<circle cx="1202.9" cy="380.3" r="3.8" fill="#fff" stroke="#ff0010" stroke-width="2.5"/>
<circle cx="1236.2" cy="443.5" r="3.8" fill="#fff" stroke="#ff0010" stroke-width="2.5"/>
<circle cx="1269.5" cy="395.7" r="3.8" fill="#fff" stroke="#ff0010" stroke-width="2.5"/>
<circle cx="1302.7" cy="453.2" r="3.8" fill="#fff" stroke="#ff0010" stroke-width="2.5"/>
<circle cx="78.8" cy="219.4" r="3.8" fill="#fff" stroke="#4cc8ec" stroke-width="2.5"/>
<circle cx="112.0" cy="250.5" r="3.8" fill="#fff" stroke="#4cc8ec" stroke-width="2.5"/>
<circle cx="145.3" cy="272.4" r="3.8" fill="#fff" stroke="#4cc8ec" stroke-width="2.5"/>
<circle cx="178.5" cy="240.5" r="3.8" fill="#fff" stroke="#4cc8ec" stroke-width="2.5"/>
<circle cx="211.8" cy="213.0" r="3.8" fill="#fff" stroke="#4cc8ec" stroke-width="2.5"/>
<circle cx="245.1" cy="216.3" r="3.8" fill="#fff" stroke="#4cc8ec" stroke-width="2.5"/>
<circle cx="278.3" cy="277.0" r="3.8" fill="#fff" stroke="#4cc8ec" stroke-width="2.5"/>
<circle cx="311.6" cy="221.8" r="3.8" fill="#fff" stroke="#4cc8ec" stroke-width="2.5"/>
<circle cx="344.8" cy="247.4" r="3.8" fill="#fff" stroke="#4cc8ec" stroke-width="2.5"/>
<circle cx="378.1" cy="232.3" r="3.8" fill="#fff" stroke="#4cc8ec" stroke-width="2.5"/>
<circle cx="411.4" cy="272.4" r="3.8" fill="#fff" stroke="#4cc8ec" stroke-width="2.5"/>
<circle cx="444.6" cy="265.1" r="3.8" fill="#fff" stroke="#4cc8ec" stroke-width="2.5"/>
<circle cx="477.9" cy="254.2" r="3.8" fill="#fff" stroke="#4cc8ec" stroke-width="2.5"/>
<circle cx="511.1" cy="246.0" r="3.8" fill="#fff" stroke="#4cc8ec" stroke-width="2.5"/>
<circle cx="544.4" cy="245.0" r="3.8" fill="#fff" stroke="#4cc8ec" stroke-width="2.5"/>
<circle cx="577.7" cy="271.0" r="3.8" fill="#fff" stroke="#4cc8ec" stroke-width="2.5"/>
<circle cx="610.9" cy="247.0" r="3.8" fill="#fff" stroke="#4cc8ec" stroke-width="2.5"/>
<circle cx="644.2" cy="252.0" r="3.8" fill="#fff" stroke="#4cc8ec" stroke-width="2.5"/>
<circle cx="677.4" cy="229.0" r="3.8" fill="#fff" stroke="#4cc8ec" stroke-width="2.5"/>
<circle cx="710.7" cy="203.0" r="3.8" fill="#fff" stroke="#4cc8ec" stroke-width="2.5"/>
<circle cx="744.0" cy="250.5" r="3.8" fill="#fff" stroke="#4cc8ec" stroke-width="2.5"/>
<circle cx="777.2" cy="214.0" r="3.8" fill="#fff" stroke="#4cc8ec" stroke-width="2.5"/>
<circle cx="810.5" cy="283.7" r="3.8" fill="#fff" stroke="#4cc8ec" stroke-width="2.5"/>
<circle cx="843.7" cy="257.4" r="3.8" fill="#fff" stroke="#4cc8ec" stroke-width="2.5"/>
<circle cx="877.0" cy="242.8" r="3.8" fill="#fff" stroke="#4cc8ec" stroke-width="2.5"/>
<circle cx="910.3" cy="232.3" r="3.8" fill="#fff" stroke="#4cc8ec" stroke-width="2.5"/>
<circle cx="943.5" cy="236.9" r="3.8" fill="#fff" stroke="#4cc8ec" stroke-width="2.5"/>
<circle cx="976.8" cy="249.6" r="3.8" fill="#fff" stroke="#4cc8ec" stroke-width="2.5"/>
<circle cx="1010.0" cy="242.3" r="3.8" fill="#fff" stroke="#4cc8ec" stroke-width="2.5"/>
<circle cx="1043.3" cy="251.5" r="3.8" fill="#fff" stroke="#4cc8ec" stroke-width="2.5"/>
<circle cx="1076.6" cy="281.6" r="3.8" fill="#fff" stroke="#4cc8ec" stroke-width="2.5"/>
<circle cx="1109.8" cy="258.3" r="3.8" fill="#fff" stroke="#4cc8ec" stroke-width="2.5"/>
<circle cx="1143.1" cy="236.9" r="3.8" fill="#fff" stroke="#4cc8ec" stroke-width="2.5"/>
<circle cx="1176.3" cy="261.5" r="3.8" fill="#fff" stroke="#4cc8ec" stroke-width="2.5"/>
<circle cx="1209.6" cy="261.0" r="3.8" fill="#fff" stroke="#4cc8ec" stroke-width="2.5"/>
<circle cx="1242.9" cy="263.3" r="3.8" fill="#fff" stroke="#4cc8ec" stroke-width="2.5"/>
<circle cx="1276.1" cy="236.0" r="3.8" fill="#fff" stroke="#4cc8ec" stroke-width="2.5"/>
<circle cx="1309.4" cy="256.0" r="3.8" fill="#fff" stroke="#4cc8ec" stroke-width="2.5"/>
<circle cx="85.4" cy="205.7" r="3.8" fill="#fff" stroke="#e8cc84" stroke-width="2.5"/>
<circle cx="118.7" cy="184.6" r="3.8" fill="#fff" stroke="#e8cc84" stroke-width="2.5"/>
<circle cx="151.9" cy="223.2" r="3.8" fill="#fff" stroke="#e8cc84" stroke-width="2.5"/>
<circle cx="185.2" cy="163.4" r="3.8" fill="#fff" stroke="#e8cc84" stroke-width="2.5"/>
<circle cx="218.4" cy="149.2" r="3.8" fill="#fff" stroke="#e8cc84" stroke-width="2.5"/>
<circle cx="251.7" cy="153.6" r="3.8" fill="#fff" stroke="#e8cc84" stroke-width="2.5"/>
<circle cx="285.0" cy="209.5" r="3.8" fill="#fff" stroke="#e8cc84" stroke-width="2.5"/>
<circle cx="318.2" cy="178.5" r="3.8" fill="#fff" stroke="#e8cc84" stroke-width="2.5"/>
<circle cx="351.5" cy="176.7" r="3.8" fill="#fff" stroke="#e8cc84" stroke-width="2.5"/>
<circle cx="384.7" cy="179.7" r="3.8" fill="#fff" stroke="#e8cc84" stroke-width="2.5"/>
<circle cx="418.0" cy="205.0" r="3.8" fill="#fff" stroke="#e8cc84" stroke-width="2.5"/>
<circle cx="451.3" cy="193.3" r="3.8" fill="#fff" stroke="#e8cc84" stroke-width="2.5"/>
<circle cx="484.5" cy="178.0" r="3.8" fill="#fff" stroke="#e8cc84" stroke-width="2.5"/>
<circle cx="517.8" cy="190.3" r="3.8" fill="#fff" stroke="#e8cc84" stroke-width="2.5"/>
<circle cx="551.0" cy="150.4" r="3.8" fill="#fff" stroke="#e8cc84" stroke-width="2.5"/>
<circle cx="584.3" cy="197.0" r="3.8" fill="#fff" stroke="#e8cc84" stroke-width="2.5"/>
<circle cx="617.6" cy="143.0" r="3.8" fill="#fff" stroke="#e8cc84" stroke-width="2.5"/>
<circle cx="650.8" cy="166.3" r="3.8" fill="#fff" stroke="#e8cc84" stroke-width="2.5"/>
<circle cx="684.1" cy="160.3" r="3.8" fill="#fff" stroke="#e8cc84" stroke-width="2.5"/>
<circle cx="717.3" cy="130.3" r="3.8" fill="#fff" stroke="#e8cc84" stroke-width="2.5"/>
<circle cx="750.6" cy="165.4" r="3.8" fill="#fff" stroke="#e8cc84" stroke-width="2.5"/>
<circle cx="783.9" cy="135.7" r="3.8" fill="#fff" stroke="#e8cc84" stroke-width="2.5"/>
<circle cx="817.1" cy="170.5" r="3.8" fill="#fff" stroke="#e8cc84" stroke-width="2.5"/>
<circle cx="850.4" cy="167.0" r="3.8" fill="#fff" stroke="#e8cc84" stroke-width="2.5"/>
<circle cx="883.6" cy="152.5" r="3.8" fill="#fff" stroke="#e8cc84" stroke-width="2.5"/>
<circle cx="916.9" cy="177.6" r="3.8" fill="#fff" stroke="#e8cc84" stroke-width="2.5"/>
<circle cx="950.2" cy="173.0" r="3.8" fill="#fff" stroke="#e8cc84" stroke-width="2.5"/>
<circle cx="983.4" cy="159.3" r="3.8" fill="#fff" stroke="#e8cc84" stroke-width="2.5"/>
<circle cx="1016.7" cy="146.0" r="3.8" fill="#fff" stroke="#e8cc84" stroke-width="2.5"/>
<circle cx="1049.9" cy="183.0" r="3.8" fill="#fff" stroke="#e8cc84" stroke-width="2.5"/>
<circle cx="1083.2" cy="217.7" r="3.8" fill="#fff" stroke="#e8cc84" stroke-width="2.5"/>
<circle cx="1116.5" cy="176.6" r="3.8" fill="#fff" stroke="#e8cc84" stroke-width="2.5"/>
<circle cx="1149.7" cy="159.3" r="3.8" fill="#fff" stroke="#e8cc84" stroke-width="2.5"/>
<circle cx="1183.0" cy="174.6" r="3.8" fill="#fff" stroke="#e8cc84" stroke-width="2.5"/>
<circle cx="1216.2" cy="154.7" r="3.8" fill="#fff" stroke="#e8cc84" stroke-width="2.5"/>
<circle cx="1249.5" cy="208.0" r="3.8" fill="#fff" stroke="#e8cc84" stroke-width="2.5"/>
<circle cx="1282.8" cy="158.0" r="3.8" fill="#fff" stroke="#e8cc84" stroke-width="2.5"/>
<circle cx="1316.0" cy="185.3" r="3.8" fill="#fff" stroke="#e8cc84" stroke-width="2.5"/>
<circle cx="92.1" cy="205.4" r="3.8" fill="#fff" stroke="#0a0a3c" stroke-width="2.5"/>
<circle cx="125.3" cy="277.5" r="3.8" fill="#fff" stroke="#0a0a3c" stroke-width="2.5"/>
<circle cx="158.6" cy="245.2" r="3.8" fill="#fff" stroke="#0a0a3c" stroke-width="2.5"/>
<circle cx="191.8" cy="254.0" r="3.8" fill="#fff" stroke="#0a0a3c" stroke-width="2.5"/>
<circle cx="225.1" cy="225.5" r="3.8" fill="#fff" stroke="#0a0a3c" stroke-width="2.5"/>
<circle cx="258.4" cy="287.0" r="3.8" fill="#fff" stroke="#0a0a3c" stroke-width="2.5"/>
<circle cx="291.6" cy="320.0" r="3.8" fill="#fff" stroke="#0a0a3c" stroke-width="2.5"/>
<circle cx="324.9" cy="315.8" r="3.8" fill="#fff" stroke="#0a0a3c" stroke-width="2.5"/>
<circle cx="358.1" cy="287.0" r="3.8" fill="#fff" stroke="#0a0a3c" stroke-width="2.5"/>
<circle cx="391.4" cy="314.4" r="3.8" fill="#fff" stroke="#0a0a3c" stroke-width="2.5"/>
<circle cx="424.7" cy="326.7" r="3.8" fill="#fff" stroke="#0a0a3c" stroke-width="2.5"/>
<circle cx="457.9" cy="298.4" r="3.8" fill="#fff" stroke="#0a0a3c" stroke-width="2.5"/>
<circle cx="491.2" cy="280.2" r="3.8" fill="#fff" stroke="#0a0a3c" stroke-width="2.5"/>
<circle cx="524.4" cy="329.0" r="3.8" fill="#fff" stroke="#0a0a3c" stroke-width="2.5"/>
<circle cx="557.7" cy="246.0" r="3.8" fill="#fff" stroke="#0a0a3c" stroke-width="2.5"/>
<circle cx="591.0" cy="246.0" r="3.8" fill="#fff" stroke="#0a0a3c" stroke-width="2.5"/>
<circle cx="624.2" cy="268.0" r="3.8" fill="#fff" stroke="#0a0a3c" stroke-width="2.5"/>
<circle cx="657.5" cy="287.0" r="3.8" fill="#fff" stroke="#0a0a3c" stroke-width="2.5"/>
<circle cx="690.7" cy="272.0" r="3.8" fill="#fff" stroke="#0a0a3c" stroke-width="2.5"/>
<circle cx="724.0" cy="277.0" r="3.8" fill="#fff" stroke="#0a0a3c" stroke-width="2.5"/>
<circle cx="757.3" cy="313.0" r="3.8" fill="#fff" stroke="#0a0a3c" stroke-width="2.5"/>
<circle cx="790.5" cy="280.2" r="3.8" fill="#fff" stroke="#0a0a3c" stroke-width="2.5"/>
<circle cx="823.8" cy="309.9" r="3.8" fill="#fff" stroke="#0a0a3c" stroke-width="2.5"/>
<circle cx="857.0" cy="318.0" r="3.8" fill="#fff" stroke="#0a0a3c" stroke-width="2.5"/>
<circle cx="890.3" cy="299.4" r="3.8" fill="#fff" stroke="#0a0a3c" stroke-width="2.5"/>
<circle cx="923.6" cy="325.8" r="3.8" fill="#fff" stroke="#0a0a3c" stroke-width="2.5"/>
<circle cx="956.8" cy="322.6" r="3.8" fill="#fff" stroke="#0a0a3c" stroke-width="2.5"/>
<circle cx="990.1" cy="295.3" r="3.8" fill="#fff" stroke="#0a0a3c" stroke-width="2.5"/>
<circle cx="1023.3" cy="272.4" r="3.8" fill="#fff" stroke="#0a0a3c" stroke-width="2.5"/>
<circle cx="1056.6" cy="328.0" r="3.8" fill="#fff" stroke="#0a0a3c" stroke-width="2.5"/>
<circle cx="1089.9" cy="335.9" r="3.8" fill="#fff" stroke="#0a0a3c" stroke-width="2.5"/>
<circle cx="1123.1" cy="322.0" r="3.8" fill="#fff" stroke="#0a0a3c" stroke-width="2.5"/>
<circle cx="1156.4" cy="326.0" r="3.8" fill="#fff" stroke="#0a0a3c" stroke-width="2.5"/>
<circle cx="1189.6" cy="299.4" r="3.8" fill="#fff" stroke="#0a0a3c" stroke-width="2.5"/>
<circle cx="1222.9" cy="314.0" r="3.8" fill="#fff" stroke="#0a0a3c" stroke-width="2.5"/>
<circle cx="1256.2" cy="308.5" r="3.8" fill="#fff" stroke="#0a0a3c" stroke-width="2.5"/>
<circle cx="1289.4" cy="326.0" r="3.8" fill="#fff" stroke="#0a0a3c" stroke-width="2.5"/>
<circle cx="1322.7" cy="327.5" r="3.8" fill="#fff" stroke="#0a0a3c" stroke-width="2.5"/>
<rect x="61.8" y="561.8" width="20.6" height="20.2" fill="#5cdb22"/>
<rect x="95.1" y="561.8" width="20.6" height="20.2" fill="#2b87da"/>
<rect x="128.3" y="561.8" width="20.6" height="20.2" fill="#5cdb22"/>
<rect x="161.6" y="561.8" width="20.6" height="20.2" fill="#5cdb22"/>
<rect x="194.8" y="561.8" width="20.6" height="20.2" fill="#5cdb22"/>
<rect x="228.1" y="561.8" width="20.6" height="20.2" fill="#2b87da"/>
<rect x="261.4" y="561.8" width="20.6" height="20.2" fill="#2b87da"/>
<rect x="294.6" y="561.8" width="20.6" height="20.2" fill="#2b87da"/>
<rect x="327.9" y="561.8" width="20.6" height="20.2" fill="#e4b026"/>
<rect x="361.1" y="561.8" width="20.6" height="20.2" fill="#38c8cc"/>
<rect x="394.4" y="561.8" width="20.6" height="20.2" fill="#2b87da"/>
<rect x="427.7" y="561.8" width="20.6" height="20.2" fill="#5cdb22"/>
<rect x="460.9" y="561.8" width="20.6" height="20.2" fill="#5cdb22"/>
<rect x="494.2" y="561.8" width="20.6" height="20.2" fill="#38c8cc"/>
<rect x="527.4" y="561.8" width="20.6" height="20.2" fill="#d8401a"/>
<rect x="560.7" y="561.8" width="20.6" height="20.2" fill="#d8401a"/>
<rect x="594.0" y="561.8" width="20.6" height="20.2" fill="#5cdb22"/>
<rect x="627.2" y="561.8" width="20.6" height="20.2" fill="#e51ae5"/>
<rect x="660.5" y="561.8" width="20.6" height="20.2" fill="#e51ae5"/>
<rect x="693.7" y="561.8" width="20.6" height="20.2" fill="#2b87da"/>
<rect x="727.0" y="561.8" width="20.6" height="20.2" fill="#e4b026"/>
<rect x="760.3" y="561.8" width="20.6" height="20.2" fill="#e4b026"/>
<rect x="793.5" y="561.8" width="20.6" height="20.2" fill="#5cdb22"/>
<rect x="826.8" y="561.8" width="20.6" height="20.2" fill="#38c8cc"/>
<rect x="860.0" y="561.8" width="20.6" height="20.2" fill="#e4b026"/>
<rect x="893.3" y="561.8" width="20.6" height="20.2" fill="#38c8cc"/>
<rect x="926.6" y="561.8" width="20.6" height="20.2" fill="#38c8cc"/>
<rect x="959.8" y="561.8" width="20.6" height="20.2" fill="#e4b026"/>
<rect x="993.1" y="561.8" width="20.6" height="20.2" fill="#d8401a"/>
<rect x="1026.3" y="561.8" width="20.6" height="20.2" fill="#2b87da"/>
<rect x="1059.6" y="561.8" width="20.6" height="20.2" fill="#38c8cc"/>
<rect x="1092.9" y="561.8" width="20.6" height="20.2" fill="#e4b026"/>
<rect x="1126.1" y="561.8" width="20.6" height="20.2" fill="#38c8cc"/>
<rect x="1159.4" y="561.8" width="20.6" height="20.2" fill="#d8401a"/>
<rect x="1192.6" y="561.8" width="20.6" height="20.2" fill="#5cdb22"/>
<rect x="1225.9" y="561.8" width="20.6" height="20.2" fill="#d8401a"/>
<rect x="1259.2" y="561.8" width="20.6" height="20.2" fill="#e4b026"/>
<rect x="1292.4" y="561.8" width="20.6" height="20.2" fill="#2b87da"/>
<rect x="52.8" y="5.2" width="1276.2" height="588.8" fill="none" stroke="#000" stroke-width="2.2"/>
<path d="M72.1 594V580M72.1 5.2V19.2M105.4 594V580M105.4 5.2V19.2M138.6 594V580M138.6 5.2V19.2M171.9 594V580M171.9 5.2V19.2M205.1 594V580M205.1 5.2V19.2M238.4 594V580M238.4 5.2V19.2M271.7 594V580M271.7 5.2V19.2M304.9 594V580M304.9 5.2V19.2M338.2 594V580M338.2 5.2V19.2M371.4 594V580M371.4 5.2V19.2M404.7 594V580M404.7 5.2V19.2M438.0 594V580M438.0 5.2V19.2M471.2 594V580M471.2 5.2V19.2M504.5 594V580M504.5 5.2V19.2M537.7 594V580M537.7 5.2V19.2M571.0 594V580M571.0 5.2V19.2M604.3 594V580M604.3 5.2V19.2M637.5 594V580M637.5 5.2V19.2M670.8 594V580M670.8 5.2V19.2M704.0 594V580M704.0 5.2V19.2M737.3 594V580M737.3 5.2V19.2M770.6 594V580M770.6 5.2V19.2M803.8 594V580M803.8 5.2V19.2M837.1 594V580M837.1 5.2V19.2M870.3 594V580M870.3 5.2V19.2M903.6 594V580M903.6 5.2V19.2M936.9 594V580M936.9 5.2V19.2M970.1 594V580M970.1 5.2V19.2M1003.4 594V580M1003.4 5.2V19.2M1036.6 594V580M1036.6 5.2V19.2M1069.9 594V580M1069.9 5.2V19.2M1103.2 594V580M1103.2 5.2V19.2M1136.4 594V580M1136.4 5.2V19.2M1169.7 594V580M1169.7 5.2V19.2M1202.9 594V580M1202.9 5.2V19.2M1236.2 594V580M1236.2 5.2V19.2M1269.5 594V580M1269.5 5.2V19.2M1302.7 594V580M1302.7 5.2V19.2M52.8 522.5H66.3M1329 522.5H1315.5M52.8 277.2H66.3M1329 277.2H1315.5M52.8 31.9H66.3M1329 31.9H1315.5" stroke="#000" stroke-width="2.2" fill="none"/>
<text x="72.1" y="617" font-size="15" text-anchor="middle">37</text>
<text x="105.4" y="617" font-size="15" text-anchor="middle">16</text>
<text x="138.6" y="617" font-size="15" text-anchor="middle">34</text>
<text x="171.9" y="617" font-size="15" text-anchor="middle">33</text>
<text x="205.1" y="617" font-size="15" text-anchor="middle">38</text>
<text x="238.4" y="617" font-size="15" text-anchor="middle">15</text>
<text x="271.7" y="617" font-size="15" text-anchor="middle">17</text>
<text x="304.9" y="617" font-size="15" text-anchor="middle">27</text>
<text x="338.2" y="617" font-size="15" text-anchor="middle">12</text>
<text x="371.4" y="617" font-size="15" text-anchor="middle">23</text>
<text x="404.7" y="617" font-size="15" text-anchor="middle">18</text>
<text x="438.0" y="617" font-size="15" text-anchor="middle">35</text>
<text x="471.2" y="617" font-size="15" text-anchor="middle">30</text>
<text x="504.5" y="617" font-size="15" text-anchor="middle">25</text>
<text x="537.7" y="617" font-size="15" text-anchor="middle">2</text>
<text x="571.0" y="617" font-size="15" text-anchor="middle">4</text>
<text x="604.3" y="617" font-size="15" text-anchor="middle">31</text>
<text x="637.5" y="617" font-size="15" text-anchor="middle">13</text>
<text x="670.8" y="617" font-size="15" text-anchor="middle">14</text>
<text x="704.0" y="617" font-size="15" text-anchor="middle">19</text>
<text x="737.3" y="617" font-size="15" text-anchor="middle">11</text>
<text x="770.6" y="617" font-size="15" text-anchor="middle">10</text>
<text x="803.8" y="617" font-size="15" text-anchor="middle">32</text>
<text x="837.1" y="617" font-size="15" text-anchor="middle">24</text>
<text x="870.3" y="617" font-size="15" text-anchor="middle">9</text>
<text x="903.6" y="617" font-size="15" text-anchor="middle">26</text>
<text x="936.9" y="617" font-size="15" text-anchor="middle">22</text>
<text x="970.1" y="617" font-size="15" text-anchor="middle">7</text>
<text x="1003.4" y="617" font-size="15" text-anchor="middle">1</text>
<text x="1036.6" y="617" font-size="15" text-anchor="middle">20</text>
<text x="1069.9" y="617" font-size="15" text-anchor="middle">29</text>
<text x="1103.2" y="617" font-size="15" text-anchor="middle">8</text>
<text x="1136.4" y="617" font-size="15" text-anchor="middle">21</text>
<text x="1169.7" y="617" font-size="15" text-anchor="middle">5</text>
<text x="1202.9" y="617" font-size="15" text-anchor="middle">36</text>
<text x="1236.2" y="617" font-size="15" text-anchor="middle">3</text>
<text x="1269.5" y="617" font-size="15" text-anchor="middle">6</text>
<text x="1302.7" y="617" font-size="15" text-anchor="middle">28</text>
<text x="46.6" y="528.1" font-size="15.5" text-anchor="end">0.5</text>
<text x="46.6" y="282.8" font-size="15.5" text-anchor="end">1</text>
<text x="46.6" y="37.5" font-size="15.5" text-anchor="end">1.5</text>
<text x="690.5" y="640" font-size="17" text-anchor="middle">Region</text>
<text transform="translate(17.3 299.6) rotate(-90)" font-size="17" text-anchor="middle">DFA</text>
<rect x="52.0" y="653" width="212.8" height="18.5" fill="#d8401a"/>
<rect x="264.8" y="653" width="212.8" height="18.5" fill="#e4b026"/>
<rect x="477.7" y="653" width="212.8" height="18.5" fill="#e51ae5"/>
<rect x="690.5" y="653" width="212.8" height="18.5" fill="#2b87da"/>
<rect x="903.3" y="653" width="212.8" height="18.5" fill="#38c8cc"/>
<rect x="1116.2" y="653" width="212.8" height="18.5" fill="#5cdb22"/>
<rect x="52" y="653" width="1277" height="18.5" fill="none" stroke="#555" stroke-width="0.8"/>
<path d="M153.5 659V671.5" stroke="#333" stroke-width="1"/>
<text x="153.5" y="694" font-size="16" text-anchor="middle">Occipital</text>
<path d="M383.7 659V671.5" stroke="#333" stroke-width="1"/>
<text x="383.7" y="694" font-size="16" text-anchor="middle">Parietal</text>
<path d="M588.4 659V671.5" stroke="#333" stroke-width="1"/>
<text x="588.4" y="694" font-size="16" text-anchor="middle">Insular</text>
<path d="M792.2 659V671.5" stroke="#333" stroke-width="1"/>
<text x="792.2" y="694" font-size="16" text-anchor="middle">Frontal Medial</text>
<path d="M1022.3 659V671.5" stroke="#333" stroke-width="1"/>
<text x="1022.3" y="694" font-size="16" text-anchor="middle">Frontal Lateral</text>
<path d="M1201.2 659V671.5" stroke="#333" stroke-width="1"/>
<text x="1201.2" y="694" font-size="16" text-anchor="middle">Temporal</text>
<rect x="1178.5" y="21.5" width="136" height="80.5" fill="#fff" stroke="#000" stroke-width="2"/>
<rect x="1181.5" y="25.5" width="34" height="14.5" fill="#6a6a8c" stroke="#1c1c50" stroke-width="1"/>
<text x="1218.5" y="37.5" font-size="17" style="font-family:'Liberation Serif',serif">REM</text>
<rect x="1181.5" y="45.0" width="34" height="14.5" fill="#f7efdc" stroke="#efd9a0" stroke-width="1"/>
<text x="1218.5" y="57.0" font-size="17" style="font-family:'Liberation Serif',serif">non-REM N3</text>
<rect x="1181.5" y="64.5" width="34" height="14.5" fill="#c3eef8" stroke="#5fd2f0" stroke-width="1"/>
<text x="1218.5" y="76.5" font-size="17" style="font-family:'Liberation Serif',serif">non-REM N2</text>
<rect x="1181.5" y="84.0" width="34" height="14.5" fill="#fba0a6" stroke="#f0202c" stroke-width="1"/>
<text x="1218.5" y="96.0" font-size="17" style="font-family:'Liberation Serif',serif">Wakefulness</text>
</svg></body></html>
